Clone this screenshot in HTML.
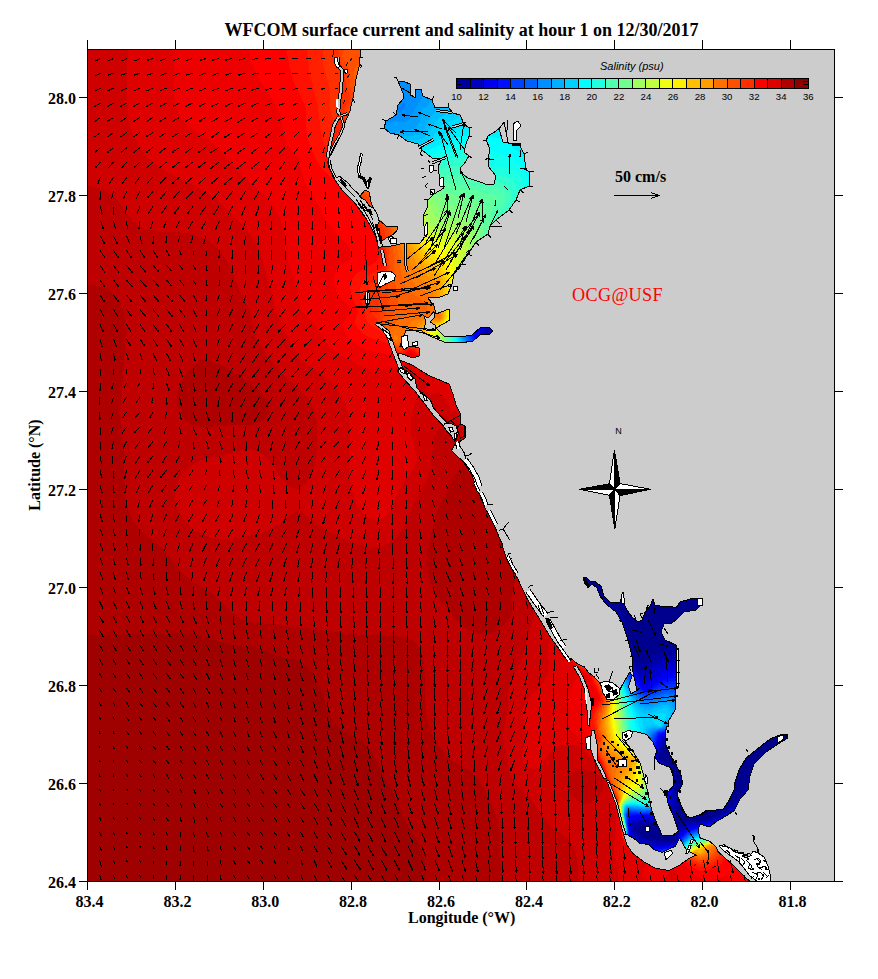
<!DOCTYPE html><html><head><meta charset="utf-8"><title>WFCOM</title>
<style>
html,body{margin:0;padding:0;background:#fff}
body{width:878px;height:979px;overflow:hidden;position:relative;font-family:"Liberation Serif",serif}
svg{position:absolute;left:0;top:0}
.t{position:absolute;white-space:nowrap;font-family:"Liberation Serif",serif;font-weight:bold;font-size:16px;line-height:18px;color:#000}
.s{position:absolute;white-space:nowrap;font-family:"Liberation Sans",sans-serif;font-size:9.6px;line-height:11px;color:#000}
</style></head><body>
<svg width="878" height="979" viewBox="0 0 878 979" shape-rendering="crispEdges">
<defs><clipPath id="w"><path d="M87 49 L360 49 L360 57 L359 67 L356 79 L353.6 95 L350 111 L344 125 L339 139 L333 151 L329.5 157 L327.5 162 L329 168 L334 178.5 L342 190 L353.5 201 L362.6 213.8 L370.5 225 L376 235.4 L378.5 246 L386 247 L396 245 L404 243 L420 243 L426 236 L424 226 L423 216 L427 208 L428 200 L434 194 L444 188 L440 182 L438 166 L443 158 L432 158 L422 150 L418 144 L407 141 L399 135 L390 133 L384 128 L386 121 L396 115 L398 105 L404 98 L403 93 L398 81 L405 82 L410 84 L410.6 95 L415 97.4 L415 90 L421 89.4 L423 96 L432 100 L435 108 L448 107 L453 113 L460 115 L464 124 L469 128 L469 136 L466 144 L464 152 L469 156 L464 164 L460 168 L460 172 L468 178 L480 182 L488 185 L494 184 L496 176 L488 166 L488 158 L490 150 L486.4 140 L488 136 L496 131 L500 128 L504 142 L520 146 L524 154 L526 170 L530 172 L529 186 L520 190 L516 200 L509 210 L496 220 L490 226 L488 234 L476 242 L468 254 L462 264 L454 274 L452 284 L448 294 L440 297 L428 298 L434 306 L436 314 L449 309 L450 320 L436 328 L444 336 L460 337 L472 335 L480 328 L489 327 L493 331 L489 335 L481 334 L473 341 L460 343 L444 342 L430 336 L420 330 L406 330 L400 346 L412 346 L419 348 L419 356 L413 358 L399 353 L398 359 L398.7 359.6 L412.3 365.1 L421.9 371.3 L430 376 L439.7 380.1 L449.2 384.2 L453.3 395.2 L456 404.7 L460 413 L460.9 423.9 L465.6 426.6 L465.6 437.5 L461.5 440.3 L457 444 L451.5 450.6 L463.2 461.7 L471.8 475.1 L477.9 491.1 L485.2 508.2 L493.8 524.2 L500.3 540 L507 560 L517.6 578.5 L526.9 598.4 L537.5 615.7 L549.4 635.6 L558.7 648.9 L565 658 L571 658.5 L577 663.4 L584.4 667 L588 672 L594.2 676.9 L599 681.8 L603 689 L609 697 L616 698 L621.2 687 L629.8 672 L632.2 675.6 L628.5 686.7 L631 694 L637.1 690.3 L635.9 685.4 L633 672 L632 656 L628 640 L622 622 L616 612 L606 604 L600 596 L597 588 L592 584 L588 588 L583 578 L586 577 L590 581 L594 581 L601 586 L604 596 L611 603 L620 602 L622 596 L624 604 L627 610 L632 617 L638 622 L642 620 L645 612 L650 606 L653 599 L655 605 L660 606 L670 606 L676 608 L680 602 L690 599 L698 598 L702 604 L696 610 L684 612 L678 618 L672 623 L664 624 L661 632 L665 640 L676 645 L676 688 L675 710 L668 722 L668 726 L666.3 726 L665 742.3 L670.3 755.5 L675.6 763.5 L681 775.5 L682.3 784.8 L677 794 L681 804.7 L686.2 815.3 L690 818 L700 814.6 L707 810 L712.4 810.5 L723.3 809 L728.8 801 L734 790 L735 782 L739 770 L746 758 L756 750 L770 739 L780 735 L787 734 L788 738 L778 744 L766 752 L754 764 L750 776 L748 790 L739.7 799.6 L734.3 810.5 L726 816 L716.5 821.4 L709.7 826.9 L700 824.2 L698 830 L700 837.8 L709.7 841.3 L716.5 847.4 L717.9 851.5 L731.5 863.8 L742.5 874.7 L749.5 881 L87 881Z"/>
<path d="M365 190 L369.4 192 L370.5 200 L372.8 208 L370.5 207 L362.6 201 L360.3 195.6Z"/>
<path d="M379.7 220.6 L386.5 226.3 L398 226.3 L396.8 231 L392.2 235 L386.5 237.7 L382 241 L378.5 232 L377.4 225Z"/>
<path d="M338.7 177 L342 178 L351 190 L349 191Z"/>
<path d="M457.4 426.6 L460.7 423.7 L464.4 426 L464.4 436 L460.7 438.4 L458.3 432.3Z"/>
</clipPath><clipPath id="fr"><rect x="88" y="50" width="746" height="831"/></clipPath></defs>
<rect x="87" y="49" width="748" height="833" fill="#cccccc"/>
<g clip-path="url(#w)">
<rect x="86" y="48" width="752" height="836" fill="#00008f"/>
<path d="M86 48 L836 48 L836 160.1 L814 177.9 L792 197 L770 217.5 L750 237.6 L730 259.1 L713.9 278 L700.2 296 L689.8 312 L684.3 322 L679.8 332 L676.2 342 L673.4 352 L670 370.6 L665.1 414 L661.7 436 L656.7 458 L650.2 478 L642.5 496 L634 512 L622.3 530 L596 566.2 L590 576.6 L588.1 582 L587.9 584 L588.4 586 L590 587.9 L604 595.6 L612 601.4 L616.7 606 L621.2 612 L624.2 618 L626.9 626 L627.9 632 L628.2 640 L633.6 650 L634.2 654 L633.7 658 L634 660.4 L640 663.2 L642 662.9 L647.7 658 L652 655.5 L676 645.8 L686 643.7 L690 643.6 L696 644.5 L702 646.5 L708 649.7 L714 654 L720 659.7 L724.9 666 L728.5 672 L731.1 678 L732.8 684 L733.8 690 L733.9 696 L733.3 702 L731.7 708 L729.1 714 L726.6 718 L719.3 726 L714.1 730 L707.4 734 L694 739.4 L688 740.8 L682 741.5 L674 741.2 L668 740 L662.9 750 L658.7 756 L660 758.3 L670.4 764 L673 768 L674.6 772 L675.9 780 L675.1 790 L677 798 L677.8 804 L677.7 808 L676.5 814 L674.6 818 L672.4 820 L656 826.9 L654 826.9 L648 825 L640.9 826 L638 827.2 L636.5 828 L636.9 830 L638.5 832 L642.6 836 L646 838.1 L652 838.4 L660 840.8 L666 840.7 L674 841.5 L674.6 840 L675.1 834 L676.3 828 L678 824.3 L680 822.4 L686 820.7 L700 820.6 L710 819 L722 812.7 L730.9 806 L737.8 798 L741.4 792 L746 782.2 L750 775.2 L754 769.6 L758 765.4 L768 757.4 L788 744 L814 722.6 L836 708.2 L836 882 L86 882Z" fill="#00009f"/>
<path d="M86 48 L836 48 L836 132.2 L810 154.2 L784 178.1 L758 204 L734 229.8 L710 257.4 L690.6 282 L678 300.3 L668.3 318 L662.3 334 L658.8 350 L657.1 366 L655.6 406 L653.9 426 L650.5 448 L644.8 470 L638.3 488 L629.8 506 L619.3 524 L594 562.4 L588 574.4 L586.1 582 L586.7 586 L589.8 590 L608 602.2 L614 608 L618.5 614 L621.7 620 L624.5 628 L626.6 640 L631.4 652 L631.8 660 L638.6 668 L640 672.1 L642 671.9 L644 670.7 L646 668 L647.8 664 L650 662.1 L658 658.7 L678 652.4 L686 651.8 L692 652.5 L698 654.2 L704 657.2 L710 661.5 L714 665.3 L717.8 670 L721.4 676 L723.8 682 L725.3 688 L725.9 698 L723.9 708 L720.1 716 L713.7 724 L709 728 L703 732 L692 736.9 L682 739.1 L668 738.8 L665.9 740 L664.5 742 L660.9 750 L658 754.8 L657.6 756 L658 758.1 L669 766 L671.6 770 L673.1 774 L674.2 780 L673.9 790 L675.3 798 L675.6 804 L674.5 810 L672.6 814 L668 818.6 L660 822.4 L654 823.4 L648 822 L636 824.6 L634 825.8 L632.7 828 L634 830.9 L641.4 838 L646 840.2 L660 842.3 L674 842.6 L675.1 842 L676 840 L676.8 834 L678 830.4 L680 827.1 L682 825.2 L688 822.9 L700 821.7 L710 819.9 L722 814.2 L728.6 810 L733.4 806 L739.1 800 L754 778.7 L758 774.2 L764 768.6 L772 762.6 L791.2 750 L816 732.3 L836 719.8 L836 882 L86 882Z" fill="#0000af"/>
<path d="M86 48 L836 48 L836 104.5 L810 127.4 L784 152.1 L760 176.8 L736 203.3 L706 238.6 L679.5 272 L664 294 L653.9 312 L650.5 320 L647.9 328 L646.2 336 L645.1 344 L644.5 358 L646 398 L645.7 420 L643.6 442 L639.1 464 L633.5 482 L626.9 498 L616.6 518 L596 551.9 L590 562.9 L585.6 574 L584.3 582 L585 586 L588 590.7 L608 605.9 L612 610 L616.5 616 L619.7 622 L622 628 L625 640 L629.4 652 L630.7 660 L638 672 L640 674.1 L644 675.2 L646 674.7 L649 672 L652 666.9 L653 666 L666 660.4 L672 658.7 L678 657.8 L688 658.3 L694 660 L698.5 662 L704 665.5 L708 669.1 L712 673.8 L714.7 678 L717.3 684 L718.9 690 L719.3 700 L717.7 708 L714 716 L707.5 724 L699.9 730 L692 734.1 L682 737 L668 737.6 L666 738.3 L664 739.9 L662.7 742 L657 756 L658 759.1 L666.5 766 L668.2 768 L671.3 774 L672.6 780 L672.7 790 L673.8 800 L672.7 808 L669.3 814 L666 817 L662 819.3 L656 821.1 L648 820.7 L638 821.9 L634 823.6 L632 825.8 L631.4 828 L632 830.6 L634 833.7 L640 839.3 L646 841.9 L660 843.6 L674 843.3 L676.1 842 L678.2 834 L680 830.3 L684 826.4 L688 824.8 L712 820.2 L721.1 816 L728.1 812 L733.7 808 L740.1 802 L756 783.3 L762 777.3 L768 772.3 L778 765.4 L814 742.7 L836 729.9 L836 882 L86 882ZM485.2 330 L484.9 332 L486 333.3 L488 333.8 L490.9 332 L491 330 L490 329.1 L488 328.4 L486 329.1Z" fill="#0000bf"/>
<path d="M86 48 L836 48 L836 76.9 L810 100.6 L786 124.1 L762 149.4 L740 174.3 L708 213.2 L666 267 L649.4 290 L638.9 308 L633.6 322 L631.9 330 L631.1 338 L631.5 352 L636.4 392 L637.7 412 L636.9 436 L633.6 458 L629 476 L622.4 494 L613.1 514 L594 548.1 L588 560.1 L584 570.8 L582.5 580 L583.4 586 L586 590.8 L590 594.8 L606.7 608 L612 613.9 L616 619.9 L620.5 630 L624.1 642 L627.2 650 L630 661.2 L636.4 672 L640 676.3 L644 678.7 L646 678.9 L648 678.1 L658 668.6 L664 665.1 L668 663.5 L676 662.4 L686 663.4 L692 665.3 L696 667.3 L700.1 670 L704 673.5 L707.7 678 L710.1 682 L711.8 686 L713.5 692 L713.7 702 L711.8 710 L707.6 718 L702.4 724 L696 729.1 L688 733.2 L680 735.4 L666 737 L663.9 738 L662 740.2 L656.3 756 L656.7 758 L658 760 L664.5 766 L667.7 770 L670.4 776 L671.4 782 L672.2 798 L671.3 806 L669.6 810 L666.5 814 L660 818.2 L654 819.6 L648 819.5 L638 820.3 L633.4 822 L631.6 824 L630.5 828 L631.4 832 L634 836.2 L640 841.2 L646 843.5 L660 844.8 L674 843.9 L676.7 842 L680 832.9 L684 828.3 L688 826.3 L712 821.1 L727.3 814 L738.6 806 L760 784.9 L772 775.4 L782 768.9 L806 755 L836 738.7 L836 882 L86 882ZM488.4 326 L486 326.8 L484.4 328 L483 330 L482.5 332 L484 334.8 L486 335.8 L488 336.1 L490 335.9 L493.8 334 L495.4 332 L495.7 330 L495 328 L494 327.2 L492 326.1Z" fill="#0000cf"/>
<path d="M86 48 L836 48 L836 49.4 L806 77.7 L780 104.2 L758 128.3 L738 151.9 L712 184.8 L641.6 278 L629 296 L622.2 308 L619 316 L617.4 322 L616.5 334 L617.8 346 L626.3 384 L629.3 404 L630.2 416 L630.4 428 L629.7 440 L628.3 452 L624 472 L617.5 492 L608.8 512 L592 544.5 L586 557.4 L582 569.2 L580.7 578 L580.9 582 L581.7 586 L585 592 L590 597.1 L605.5 610 L610 615 L614 620.8 L619.3 632 L630 663.7 L636 674 L644 682.7 L646 683.5 L648 682.6 L660 671.7 L668 667 L672 666.4 L680 666.9 L686 668.3 L690 669.9 L694 672 L699.1 676 L702.7 680 L705.3 684 L707.1 688 L708.8 694 L709.1 702 L707.4 710 L703.3 718 L698.1 724 L693 728 L686 731.8 L678 734.1 L665.4 736 L662 737.8 L660.6 740 L656.6 752 L655.7 756 L656.1 758 L658 761 L666.1 770 L668.9 776 L670.1 782 L670.9 796 L670.2 804 L668.7 808 L666 812 L660 816.4 L654 818.1 L636 819.2 L634 819.7 L632 821.1 L630 824.9 L630 831.3 L632 835.8 L634 838.3 L640 842.9 L644 844.5 L648 845.4 L660 846 L674 844.5 L676 843.5 L677.3 842 L680 835.1 L682 832 L686 828.6 L698 825 L712.1 822 L722.1 818 L729.9 814 L741.5 806 L762 788 L774 779.3 L800 764.6 L836 746.5 L836 882 L86 882ZM487.7 324 L484 326 L480.9 330 L480.2 332 L480.3 334 L481.8 336 L486 337.9 L490 338.1 L496 336.2 L499 334 L500.5 332 L501.2 330 L501.1 328 L499.9 326 L496.9 324 L494 323.3 L490 323.4Z" fill="#0000df"/>
<path d="M86 48 L809 48 L788 69.5 L768 91.2 L750 112 L732 134.3 L708 166.3 L656.9 238 L613.9 294 L607.3 304 L603.2 312 L600.6 322 L600.8 332 L604 344 L615.4 376 L620.5 396 L622.4 408 L623.5 420 L623.8 432 L623.1 444 L620.2 464 L614.3 486 L605.7 508 L590 540.9 L584 554.7 L580 567.6 L578.8 578 L580.1 586 L581.8 590 L584 593.3 L588 597.6 L604.5 612 L609.7 618 L613.6 624 L618.3 634 L629.1 664 L636 676.2 L644 687.3 L646.2 688 L658 677.2 L666 672.1 L670 670.5 L676 670.5 L682 671.6 L686 673 L690 674.9 L694.4 678 L698.3 682 L701.1 686 L704.2 694 L705 702 L704 708 L700.7 716 L696.2 722 L690 727.3 L684 730.6 L678 732.6 L662 735.9 L660 738.2 L656 750.8 L655.2 756 L656.5 760 L664.7 770 L666.9 774 L668.2 778 L669.2 784 L669.6 796 L668.7 804 L667 808 L664 811.8 L658 815.8 L652 817.1 L636 817.7 L632 818.9 L629.8 822 L629.4 830 L630 834 L634 840 L636 842 L640 844.5 L648 846.8 L660 847.1 L674 845.1 L676 844.1 L677.9 842 L681.7 834 L686 829.9 L690 828.2 L696 826.5 L714 822.3 L728.8 816 L738.9 810 L764 790.7 L778 781.6 L802 769.2 L836 753.7 L836 882 L86 882ZM487.5 322 L484 323.9 L481.7 326 L478 332 L477.6 334 L478.2 336 L482 338.4 L488 340 L492 339.9 L496 339.1 L502.6 336 L505.1 334 L507.8 330 L508.2 328 L507.9 326 L506.6 324 L503.8 322 L500 320.8 L496 320.3 L492 320.7Z" fill="#0000ef"/>
<path d="M86 48 L783.4 48 L752 83.8 L726 116.6 L704 147.3 L662.5 210 L644.4 236 L624 262.6 L590.7 302 L586.4 308 L583.1 314 L581.7 318 L581.3 322 L581.7 326 L582.8 330 L585.6 336 L597 356 L603.1 368 L608.1 380 L612 392 L614.5 402 L616.5 414 L617.5 426 L617.6 438 L617 448 L615.5 460 L610.4 482 L602.7 504 L582 552 L578 566 L577.1 572 L577 578 L578.4 586 L580.1 590 L582.6 594 L588 599.8 L603.7 614 L608 619 L612 624.9 L617.5 636 L628 664.1 L634 675.3 L642.5 688 L644 689.2 L646 689.5 L648 688.8 L658 680.4 L664 676.7 L670 674.6 L676 674.4 L684 676.5 L688 678.5 L692 681.4 L697.5 688 L700.6 696 L701.1 704 L700 710 L697.3 716 L692.9 722 L688.3 726 L682 729.6 L674 732.3 L662 734.5 L660 735.6 L658.8 738 L656 747.2 L654.7 756 L656 760.3 L663.4 770 L667 778 L668 784 L668.5 792 L667.8 802 L666.4 806 L664 809.8 L661.8 812 L658 814.4 L652 816 L634 816.6 L632 817 L630 818.6 L628.7 824 L629.2 832 L630 835.4 L634 841.1 L636 843.4 L640 846 L648 848.1 L660 848.1 L674 845.7 L676 844.7 L678 842.6 L682.9 834 L688 830 L698 826.8 L714 823.2 L727.3 818 L738.6 812 L766 793.2 L780 785 L804 773.5 L836 760.2 L836 882 L86 882ZM493.2 318 L486 320.7 L480 325.6 L476 332.3 L475.3 336 L476 336.8 L481.4 340 L486 341.3 L492 341.8 L498 341 L504 339.1 L510.2 336 L515.3 332 L517.9 328 L518.3 326 L518 324 L516.7 322 L512 319 L508 317.7 L502 317.1Z" fill="#0000ff"/>
<path d="M86 48 L760.1 48 L732 82.7 L708 115.8 L688 146.5 L650.5 208 L633 234 L614 258.7 L594 280.7 L584 290.4 L572 300.9 L562 308.6 L552 314.9 L546 317 L542 317.2 L524.1 314 L516 313.1 L506 313.1 L496 314.7 L488 317.7 L481.6 322 L478 325.9 L476 329 L474 333.5 L473.7 336 L476 338.8 L482 341.8 L488 343.2 L496 343.4 L504 342.1 L511.6 340 L542 327.2 L548 326.8 L554 328.6 L562 333.1 L570 339.2 L578 346.8 L584 353.6 L590.2 362 L596.2 372 L601.1 382 L605.6 394 L609.6 410 L611.7 426 L612 442 L610.3 460 L607.2 476 L602.6 492 L596.7 508 L582 543.7 L577.4 558 L575.7 566 L575 574 L575.3 580 L576.7 586 L579.4 592 L582.2 596 L586 600.2 L602 614.9 L606.5 620 L610.7 626 L616.8 638 L628 666.2 L636 680.8 L642 689.3 L644 690.5 L646 690.9 L648 690.5 L652.3 688 L660 681.8 L664 679.8 L668 678.5 L672 677.9 L678 678.4 L682 679.7 L686 681.7 L692 686.9 L694.3 690 L696.2 694 L697.8 702 L697.3 708 L695.3 714 L691.6 720 L687.7 724 L682 727.9 L677.3 730 L668 732.6 L660 733.7 L658 737 L655.8 744 L654.1 756 L656 761.4 L663.4 772 L665.8 778 L667 784 L667.4 790 L667.4 796 L666.5 802 L665 806 L662.1 810 L659.7 812 L656 814 L650 815.2 L634 815.3 L629.9 816 L628.3 820 L628 824 L629.2 834 L630 836.5 L632 839.5 L636 844.4 L638 846.1 L641.7 848 L646 849.1 L652 849.6 L660 849.1 L668 847.8 L674 846.2 L677.5 844 L682.4 836 L684 834 L688 831 L698 827.7 L714.2 824 L730 818 L741.6 812 L766 796.7 L782 788.1 L806 777.6 L836 766.3 L836 882 L86 882Z" fill="#0010ff"/>
<path d="M86 48 L738.6 48 L714.5 80 L694 110.6 L676 140.7 L645.2 196 L629.3 222 L613.7 244 L598 262.7 L586 274.9 L574 285.3 L562 293.7 L552 299.2 L544 302.3 L536 304.5 L502 310.3 L494 312.8 L488 315.6 L482 319.7 L477.8 324 L474 330 L472.6 334 L472.6 336 L474 338.7 L478 341.6 L484 343.9 L490 345 L502 344.9 L528 340.6 L538 339.9 L544 340.3 L550 341.4 L560 345.4 L566 349 L572 353.6 L578 359.4 L584 366.5 L589.2 374 L593.7 382 L597.4 390 L601 400 L604.5 414 L606.6 430 L606.8 444 L605.5 460 L602.5 476 L598.2 492 L592.6 508 L580 540.7 L575.3 556 L573.7 564 L573 572 L573.5 580 L575 586 L577.6 592 L581.9 598 L600.6 616 L605.8 622 L610 628 L616 639.4 L628 668.3 L636 683.2 L641 690 L644 691.8 L648 691.9 L652.5 690 L660 684.2 L662 683.3 L670 681.2 L676 681.4 L682 683.4 L688.4 688 L692.5 694 L694 698 L694.6 702 L694.4 708 L692.5 714 L690.3 718 L686 722.9 L682 726.1 L676 729.1 L668 731.6 L660 732.9 L658.6 734 L657.3 736 L654.8 744 L653.6 756 L655.7 762 L663.2 774 L665.2 780 L666.4 792 L666.1 798 L665.3 802 L662 808.3 L660 810.3 L656 812.8 L652 814 L648 814.4 L630 814.1 L628.1 816 L627.5 822 L628.3 832 L630 837.2 L636 845.2 L639.6 848 L644.7 850 L650 850.7 L656 850.5 L664 849.4 L672 847.5 L676 845.8 L678 844.1 L684 835.1 L686 833.3 L690 831.1 L698 828.5 L716 824.3 L728.1 820 L741.1 814 L768 798.8 L784 791 L808 781.5 L836 772.1 L836 882 L86 882Z" fill="#0020ff"/>
<path d="M86 48 L718.6 48 L697.6 78 L679 108 L664 135.7 L636.7 190 L623.2 214 L610.1 234 L596 252 L586 262.9 L576 272.4 L566 280.5 L554 288.4 L546 292.6 L536 296.8 L498 308.7 L492 311.4 L486 314.8 L480 319.7 L476 324.3 L472 331.6 L471.4 336 L472.1 338 L473.6 340 L476 341.9 L482 344.7 L488 346.2 L500 347.1 L522 345.8 L532 345.8 L542 347 L550 349.2 L560 354 L570 361.4 L578.3 370 L586 380.8 L593.5 396 L596.4 404 L599 414 L601.6 432 L602 442 L601.6 452 L599.3 470 L595.2 488 L589.4 506 L577.2 540 L572.8 556 L571.5 564 L571 572 L571.7 580 L573.2 586 L575.9 592 L580 598.1 L585.4 604 L600.2 618 L605.3 624 L609.5 630 L616 642.4 L625 664 L630 674.4 L636 685.5 L640 690.8 L644 693.2 L648 693.4 L652.2 692 L662 685.9 L668 684.3 L674 684.2 L680 685.9 L684 688.4 L688 692.6 L690.8 698 L691.8 704 L691.3 710 L689 716 L686.2 720 L682.2 724 L675.6 728 L666 731.3 L660 732 L657.5 734 L654.7 740 L653.2 750 L653.4 758 L655.1 762 L662.1 774 L663.7 778 L664.9 784 L665.3 796 L664.7 800 L663.4 804 L660.8 808 L658.7 810 L656 811.7 L652 813.1 L642 813.7 L632 813 L628 813.5 L627.4 816 L627.2 822 L627.9 832 L630 838 L636 846 L638.6 848 L646 851.4 L650 851.9 L656 851.6 L670 848.8 L674 847.4 L678 844.8 L684 836.2 L686 834.4 L690 832 L698 829.3 L714 825.7 L725.8 822 L740.3 816 L770 800.9 L784 794.7 L806 786.6 L836 777.5 L836 882 L86 882Z" fill="#0030ff"/>
<path d="M86 48 L699.6 48 L680.2 78 L664.4 106 L652 131.5 L628.4 184 L617.3 206 L605.3 226 L592.3 244 L581.9 256 L572 265.7 L562.2 274 L552 281.2 L544 286.1 L534 291.1 L496 307 L484 314.3 L478 319.9 L474 325.1 L470.6 332 L470.2 336 L472 340 L474.2 342 L480 345.2 L486 347.2 L498 348.9 L520 349.3 L530 350.1 L540 352 L550 355.5 L560 361.2 L568 367.7 L575.6 376 L582.5 386 L589.4 400 L594.3 416 L597 434 L597.1 452 L595.4 468 L591.6 486 L587 502 L574.9 538 L570.7 554 L569.3 564 L569 572 L569.9 580 L571.5 586 L575.2 594 L579.6 600 L599.9 620 L608 630.4 L616 645.1 L624 664 L632 680.6 L636 687.7 L639.6 692 L644 694.5 L648 694.8 L652 693.8 L664 687.7 L670 686.7 L674 687 L680 689.2 L683.6 692 L686.7 696 L688.4 700 L689.1 704 L688.8 710 L686.6 716 L683.9 720 L679.8 724 L674 727.5 L666 730.5 L658.8 732 L656.5 734 L654.3 738 L652.8 746 L652.6 756 L654 761.1 L660.2 772 L663.2 780 L664.4 790 L663.6 800 L662.1 804 L660 807.3 L657 810 L654 811.6 L648 812.7 L640 812.8 L632 812 L628 812.6 L626.9 814 L626.8 822 L627.6 826 L628 834 L630 838.4 L634 844.1 L637.9 848 L646 852.2 L650 852.9 L654 852.8 L666 850.6 L672 848.8 L676 846.9 L679.4 844 L685.3 836 L688 833.9 L692 832 L700 829.5 L716.1 826 L728.8 822 L743.7 816 L772 803 L786 797.4 L810 789.6 L836 782.6 L836 882 L86 882Z" fill="#0040ff"/>
<path d="M86 48 L681.6 48 L664.7 76 L650.3 104 L640 127.9 L620.4 178 L610.5 200 L600.8 218 L588.9 236 L581 246 L572 256 L561.4 266 L551.4 274 L534 285.2 L498 303.2 L490 308 L484 312.3 L478 318 L473.3 324 L470.1 330 L469 336 L470 339 L472.4 342 L478 345.6 L484 348 L496 350.4 L518 352.2 L528 353.6 L538 356 L548 360.1 L556 364.8 L564.9 372 L572.1 380 L578.9 390 L585.6 404 L589.9 418 L592.4 434 L592.8 452 L591.3 468 L587.8 486 L583.3 502 L572 537.9 L568.3 554 L567.1 564 L567.1 572 L568.1 580 L569.7 586 L573.4 594 L577.6 600 L583.1 606 L599.6 622 L608 632.9 L616 647.6 L624 666.1 L632 682.8 L634.9 688 L638 692.2 L642 695.2 L644 696 L648 696.3 L654 694.7 L664 690.1 L668 689.3 L672 689.3 L676 690.3 L680 692.5 L683.4 696 L685.6 700 L686.6 704 L686.4 710 L684.4 716 L681.8 720 L677.5 724 L672 727.3 L666 729.7 L657.6 732 L654.1 736 L652.7 740 L651.8 750 L652.4 758 L654 762.4 L661 776 L663 784 L663.5 794 L661.9 802 L660 805.6 L658 808 L655.2 810 L652 811.4 L642 812.1 L630 811.1 L627.8 812 L626.3 814 L626.4 822 L627.4 826 L627.8 834 L630 838.7 L636 846.6 L640 849.8 L644.1 852 L648 853.4 L652 854 L662 852.5 L670 850.1 L676 847.5 L680 844 L684 838.2 L686 836.2 L692 832.7 L700 830.3 L719.2 826 L732 822 L774 805 L792 798.8 L812 793.2 L836 787.5 L836 882 L86 882Z" fill="#0050ff"/>
<path d="M86 48 L664.3 48 L650.7 72 L640 94 L630 119.3 L613.9 168 L606.4 188 L596.3 210 L584.3 230 L577 240 L568.6 250 L558.7 260 L549.6 268 L540 275.3 L529.9 282 L494 303 L482 312.1 L476 318.4 L470.8 326 L468.3 332 L467.8 336 L468.2 338 L470.8 342 L474 344.6 L478 346.9 L484 349.3 L494 351.7 L526 356.5 L536 359.5 L544 362.9 L554 369 L562 375.8 L569.2 384 L574.6 392 L581.4 406 L585.7 420 L588.3 436 L588.7 452 L587.4 468 L584.5 484 L580.4 500 L569.7 536 L566 553 L565 562 L564.9 570 L565.8 578 L567.9 586 L571.6 594 L576 600.4 L582 607.1 L598 622.5 L604 629.6 L608 635.3 L616 650 L632 685.1 L634.9 690 L638 693.9 L642 696.8 L644 697.5 L648 697.9 L654 696.4 L664 692.3 L668 691.6 L672 691.7 L676 693 L680 695.9 L682 698.5 L683.6 702 L684.4 706 L683.8 712 L682.3 716 L679.7 720 L676 723.5 L672 726.1 L666 728.9 L656.3 732 L653 736 L651.7 740 L651.3 744 L651.5 756 L653.2 762 L659.2 774 L661.3 780 L662.6 790 L662 798 L660.9 802 L658.5 806 L656 808.4 L652 810.5 L648 811.2 L642 811.4 L630 810.3 L628 810.9 L626.9 812 L625.8 814 L626 822 L627.2 826 L627.7 834 L630 839.1 L636 847 L639.8 850 L644 852.3 L647.7 854 L652 854.7 L660 853.8 L670 850.8 L676 848 L680 844.7 L686 837.1 L690 834.4 L694 832.7 L729.3 824 L772 808.5 L790 802.8 L812 797.2 L836 792.3 L836 882 L86 882Z" fill="#0060ff"/>
<path d="M86 48 L647.6 48 L634.8 72 L625.3 94 L617.9 116 L605 164 L598.8 184 L590.7 204 L580 224 L571.8 236 L563.8 246 L554.5 256 L545.9 264 L527.9 278 L492 301.8 L480 312 L474 319 L469.6 326 L467.2 332 L466.8 338 L469.3 342 L472 344.5 L476 347.1 L482 349.8 L492 352.8 L524 359.1 L532.9 362 L541.7 366 L550 371.2 L558 378 L565.2 386 L570.7 394 L576.7 406 L581.3 420 L584.1 436 L584.8 452 L583.6 468 L580.8 484 L576.9 500 L567.4 534 L563.7 552 L562.8 562 L562.9 570 L563.9 578 L566.1 586 L569.8 594 L575.3 602 L580.8 608 L598 624.6 L606.9 636 L614.9 650 L632 687.3 L634.9 692 L638 695.6 L642 698.4 L648 699.5 L654 698.2 L664 694.4 L668 693.7 L672 694 L676 695.7 L678 697.3 L681.1 702 L682.1 706 L681.8 712 L680.4 716 L677.8 720 L674 723.5 L670.1 726 L664 728.9 L658 730.5 L655 732 L651.8 736 L650.7 740 L650.4 744 L651 756 L652.6 762 L658.3 774 L660.3 780 L661.6 790 L661 798 L659.8 802 L657.3 806 L655.2 808 L652 809.7 L644 810.7 L630 809.5 L628 810 L626.1 812 L625.5 814 L625.8 822 L627 826 L627.5 834 L630 839.5 L634 845.2 L636.8 848 L646 853.7 L652 855.5 L658 855.2 L668 852.3 L676 848.6 L680 845.3 L686 838 L690 835.2 L694 833.5 L702 831.3 L718 828 L732.9 824 L770 811.7 L788 806.4 L810 801.4 L836 796.9 L836 882 L86 882Z" fill="#0070ff"/>
<path d="M86 48 L631.2 48 L620.1 70 L611.5 92 L605.4 114 L596.3 160 L591.3 180 L583.5 202 L574.6 220 L568.4 230 L561.1 240 L552.6 250 L544.7 258 L526.2 274 L490 300.9 L478 312.2 L472 319.9 L468 326.9 L466 332 L465.5 338 L466.3 340 L470 344.2 L474 347.2 L480 350.2 L492 354.2 L522 361.3 L532 365 L540 369.1 L547.4 374 L554.4 380 L561.6 388 L567 396 L573.1 408 L577.6 422 L580.1 436 L580.9 452 L579.9 468 L577.3 484 L564.6 534 L561.3 552 L560.6 562 L560.9 570 L562 578 L564.3 586 L567.9 594 L573.3 602 L580 609.3 L597.3 626 L606.8 638 L615.8 654 L631.2 688 L634 692.7 L638 697.4 L642 700.1 L648 701.2 L652 700.6 L664 696.5 L670 695.9 L672 696.2 L675.4 698 L677.3 700 L679.3 704 L680.1 708 L679.8 712 L678.6 716 L676 720 L671.4 724 L664.5 728 L657.5 730 L654 731.6 L651.7 734 L650.7 736 L649.7 740 L649.6 744 L650.5 756 L652.1 762 L657.5 774 L659.4 780 L660.7 790 L660.1 798 L657.7 804 L656 806.2 L652 808.9 L648 809.9 L644 810 L630 808.7 L628 809.1 L626 811 L625.1 814 L625.7 822 L626.8 826 L627.4 834 L630 839.8 L634 845.5 L636.4 848 L645.8 854 L652 856.1 L658.5 856 L668 853 L676 849.2 L680 846 L684.9 840 L688 837.2 L692 835 L696 833.5 L729.6 826 L768 814.6 L788 809.4 L810 805.1 L836 801.3 L836 882 L86 882Z" fill="#0080ff"/>
<path d="M86 48 L614.9 48 L604.4 70 L600.6 80 L597 92 L592.8 112 L587.4 156 L583.9 176 L580.8 188 L577.5 198 L569.5 216 L563.8 226 L557 236 L549 246 L541.7 254 L524.7 270 L490 298.3 L478 310.2 L472 317.9 L467.3 326 L464.9 332 L464.3 338 L466.4 342 L470 345.6 L474 348.4 L480 351.5 L490 355 L520 363.3 L530 367.3 L538 371.7 L546 377.4 L553.1 384 L559.7 392 L564.9 400 L570.4 412 L574.6 426 L576.8 440 L577.2 454 L576.3 468 L573.9 484 L562.3 532 L559.2 550 L558.5 560 L558.8 570 L560.1 578 L562.4 586 L567.2 596 L573 604 L578.6 610 L596 626.6 L606 638.9 L614.8 654 L630 688 L634 694.6 L638 699.3 L642 702 L648 703.1 L652 702.5 L664 698.5 L670 698 L672 698.4 L674.3 700 L676 702.2 L677.6 706 L678.1 710 L677.6 714 L675.8 718 L674.3 720 L669.5 724 L663 728 L654 730.5 L651.8 732 L649.4 736 L648.7 742 L649.6 754 L651.5 762 L656.6 774 L659 782 L659.8 790 L659.2 798 L657.8 802 L656 804.9 L654 806.9 L650 808.9 L642 809.3 L630 807.9 L628 808.2 L626 810 L624.8 814 L625.5 822 L627 828 L627.2 834 L629.9 840 L636 847.9 L645.3 854 L650 856 L654 856.8 L660 856.5 L668 853.7 L676 849.8 L680 846.7 L688 838 L692 835.7 L696 834.2 L728 827.4 L768 816.8 L786 812.7 L810 808.6 L836 805.6 L836 882 L86 882ZM399.7 76 L400 77.2 L404 81.7 L406 82.8 L408 82.2 L407 80 L405.1 78 L401.9 76ZM401.9 104 L398.5 108 L396.9 112 L398 112.4 L400.6 112 L404 108.9 L405.1 106 L405.2 104 L404 103.1Z" fill="#008fff"/>
<path d="M86 48 L598.6 48 L592.7 60 L588.5 70 L585.1 80 L582.6 90 L579.8 110 L578.4 152 L576.4 172 L572.1 192 L568.8 202 L564.5 212 L559.3 222 L553 232 L547.2 240 L538.8 250 L521 268 L488 297.6 L476 310.5 L470 319 L465.3 328 L463.4 334 L463.2 338 L463.8 340 L466 343.2 L468.9 346 L478 351.7 L488 355.7 L518 365 L526 368.4 L534 372.7 L541.5 378 L548.3 384 L555.3 392 L560.6 400 L566.4 412 L570.3 424 L572.9 438 L573.7 452 L573.1 466 L570.9 482 L559.6 532 L556.8 550 L556.2 560 L556.8 570 L558.1 578 L560.5 586 L565.3 596 L571 604 L578 611.5 L596 628.6 L606 641 L611.6 650 L615.7 658 L630 690.1 L634 696.6 L638 701.4 L642 704 L648 705.1 L652 704.5 L664 700.5 L670 700.3 L672 701 L675.2 706 L676.1 710 L675.8 714 L674.2 718 L672.6 720 L665 726 L662 727.8 L652.4 730 L650.1 732 L648.9 734 L647.9 738 L647.8 742 L649.1 754 L651 762 L657.7 780 L658.9 788 L658.6 796 L657.7 800 L655.7 804 L653.9 806 L650.5 808 L644 808.7 L630 807.2 L628 807.4 L626 808.9 L624.4 814 L625.4 822 L626.8 828 L627.1 834 L629.8 840 L633.9 846 L636 848.1 L638.1 850 L644.8 854 L649.4 856 L654 857.2 L660 857.3 L668 854.5 L676 850.4 L680 847.3 L688 838.7 L692 836.4 L698 834.3 L729.7 828 L766 819.4 L784 815.8 L808 812.3 L836 809.9 L836 882 L86 882ZM398.7 76 L399.1 80 L401.4 88 L401.1 92 L399.5 96 L392.9 106 L390 109 L385.3 112 L384.4 120 L385.1 122 L386 122.4 L390 122.7 L396 121.1 L404 122.1 L408 120.8 L410.9 118 L415 108 L422.2 98 L424 94 L424.2 90 L423 86 L419.9 82 L417.6 80 L410.4 76 L406 74.6 L402 74.1 L400 74.6Z" fill="#009fff"/>
<path d="M86 48 L582 48 L576 60 L571.9 70 L568.8 80 L566.8 90 L566.1 98 L566 108 L568.9 148 L568.8 168 L567.8 178 L566 188 L563.3 198 L559.7 208 L555 218 L549.2 228 L536.1 246 L519.7 264 L486 297 L474 311.1 L468 320.3 L464.2 328 L462.3 334 L462.1 338 L462.7 340 L465.3 344 L468 346.6 L472 349.5 L478 352.9 L488 357 L516 366.5 L524 370.2 L532 374.8 L539.2 380 L546 386.3 L552.5 394 L557.7 402 L563.4 414 L567.1 426 L569.3 438 L570.2 452 L569.7 466 L568 480 L565 496 L557.3 530 L554.4 550 L554 560 L554.7 570 L556.1 578 L558.6 586 L563.4 596 L569 604 L576.4 612 L596 630.5 L606 642.9 L611.6 652 L616 660.5 L629.9 692 L634 698.8 L638 703.6 L642 706.3 L644 707 L648 707.4 L652 706.7 L664 702.6 L668 702.6 L670.8 704 L673.4 708 L674.1 714 L673.6 716 L672 718.7 L662 727 L660 727.9 L654 728.2 L650 729.9 L648.2 732 L646.9 736 L647.1 744 L649.3 758 L655.7 776 L657.6 784 L657.9 794 L657.3 798 L655.9 802 L652.8 806 L648 808 L642 807.9 L632 806.5 L628 806.6 L626 807.7 L624.4 812 L624.1 814 L626.7 828 L627 834 L628 837.1 L633.8 846 L638 850.1 L648.7 856 L654 857.7 L660.5 858 L668 855.2 L676 851 L680 847.9 L688 839.4 L692 837.1 L698 835 L782 818.7 L808 815.6 L836 814 L836 882 L86 882ZM399.2 74 L397.7 76 L397.3 78 L398.1 88 L397 94 L391.3 104 L383.2 112 L381.2 120 L378 124 L378.6 126 L386 129.1 L392 133.4 L400 131 L410 129.9 L414 128.4 L416 127 L418.2 124 L419.8 120 L420.6 116 L421 110 L426 107 L430 103.2 L433.4 98 L434.6 94 L434.5 90 L433 86 L429.9 82 L424.7 78 L418 75 L410 72.9 L404 72.5 L402 72.7Z" fill="#00afff"/>
<path d="M86 48 L564.8 48 L558.2 60 L553.7 70 L550.7 80 L549.5 88 L549.4 96 L550.2 104 L558.3 142 L560.8 162 L560.8 174 L559.9 184 L557.9 194 L554.9 204 L550.8 214 L546.7 222 L540.5 232 L533.4 242 L516.5 262 L484 296.5 L472 311.9 L466 321.9 L462.3 330 L461 336 L461.5 340 L464 344 L466 346.1 L470 349.4 L476 353 L486 357.6 L514.2 368 L522.4 372 L530 376.6 L537.1 382 L544 388.7 L549.9 396 L555 404 L560.5 416 L564.1 428 L566.1 440 L566.9 454 L566.3 468 L564.5 482 L554.6 530 L552.2 548 L551.8 558 L552.3 568 L554.1 578 L556.6 586 L561.5 596 L568.7 606 L576 613.6 L596 632.3 L606 644.8 L611.7 654 L616 662.4 L628.8 692 L634 701.1 L638 706.1 L642 709 L644 709.8 L648 710.1 L652 709.3 L664 704.9 L666 704.8 L668 705.6 L670 707.3 L672 711.2 L672.1 716 L670.9 718 L662.5 726 L660 727.4 L654 726.8 L650 727.6 L648 729.2 L646.4 732 L645.6 738 L646.9 748 L649.9 762 L656 780 L657 786 L657.1 794 L656.4 798 L655 802 L652 805.7 L650 806.8 L646 807.5 L632 805.8 L626 806.3 L624.1 812 L623.9 814 L626.5 828 L626.8 834 L628 837.4 L633.6 846 L638 850.2 L648.1 856 L654 858 L662 858.3 L668 856 L676 851.6 L680.6 848 L686.1 842 L690 838.8 L694 836.9 L700 835.2 L760 824.4 L780 821.4 L806 819 L836 818.1 L836 882 L86 882ZM400.5 72 L398 73.7 L396.6 76 L396 80 L395.6 90 L393.7 96 L389 104 L382.1 112 L380.2 118 L377.1 124 L377.2 126 L380 128.8 L392 136 L396 136.4 L410 135.9 L420 134.8 L423.8 130 L431.2 116 L440.4 106 L444.7 100 L446.6 94 L445.8 88 L443.6 84 L439.6 80 L433.1 76 L428.3 74 L421.4 72 L412 70.6 L406 70.7Z" fill="#00bfff"/>
<path d="M86 48 L546.3 48 L536.8 62 L531.1 72 L528 80 L527 88 L527.8 94 L529.6 100 L544.9 134 L549.1 146 L551.6 156 L553.4 168 L553.6 178 L552.7 188 L550 200 L547.3 208 L542.9 218 L537.3 228 L530.6 238 L513.5 260 L482 296.2 L472 309.7 L466 319.8 L462 328 L460.1 334 L459.9 338 L461.3 342 L464 345.5 L468 349.1 L474 353.1 L484 358 L512 369.1 L521.4 374 L528 378.3 L535.2 384 L541.2 390 L546.1 396 L551.3 404 L556.2 414 L560.2 426 L562.5 438 L563.6 452 L563.2 466 L561.7 480 L552.3 528 L549.8 548 L549.5 558 L550.2 568 L552.1 578 L554.7 586 L559.5 596 L566.6 606 L574.2 614 L594 632.1 L600 638.6 L606 646.6 L611.8 656 L616.8 666 L628 692.6 L634 703.7 L638 709.2 L642 712.5 L646 713.7 L650 713.1 L664 708.2 L666 708.5 L668 709.8 L670 712.7 L670.6 716 L666 720.3 L661.5 726 L660 726.9 L654 725.2 L650 724.9 L647.5 726 L646 727.5 L644.9 730 L644.3 734 L644.5 738 L647 752 L649.3 762 L654.1 776 L655.6 782 L656.3 790 L655.9 796 L654.1 802 L652.8 804 L650 806.2 L646 806.9 L632 805.2 L625.7 806 L624 810.7 L623.7 814 L626.4 828 L626.7 834 L627.3 836 L633.5 846 L638 850.4 L648 856.1 L652.9 858 L660 859 L666 857.7 L676 852.2 L680 849.2 L686.8 842 L690 839.5 L696 836.9 L702 835.4 L754 827.1 L778 824 L806 822.2 L836 822.1 L836 882 L86 882ZM402.2 70 L398 72.4 L395.6 76 L394.1 88 L392.6 94 L388.5 102 L381.2 112 L376.2 124 L376.3 126 L378 128.8 L380 130.7 L388 136.4 L392 138.3 L398 139.4 L406 140 L414 140.1 L420 139.4 L424 137.6 L428 134 L435.6 122 L438 119.3 L450.9 110 L457.7 104 L460.9 100 L462.9 96 L463.5 90 L463 88 L460.7 84 L456.5 80 L449.9 76 L440 72.1 L430 69.7 L420 68.5 L410 68.5Z" fill="#00cfff"/>
<path d="M86 48 L526 48 L516 57.4 L506 64.9 L498 69.2 L490 71.4 L484 71.9 L478 71.7 L446 66.9 L428 65.5 L412 66.3 L406 67.4 L400 69.7 L397.1 72 L394.6 76 L392.5 88 L390.9 94 L386.9 102 L380.2 112 L376 122 L375.5 126 L377.7 130 L380 132.5 L386 137.3 L392 140.5 L398 142.2 L406 143.4 L414 143.9 L420 143.4 L426 141.4 L431.3 138 L436.8 132 L440.5 126 L444 124 L480 108.9 L490 106.6 L498 106.9 L504 108.7 L512 113.1 L518 117.8 L524 123.8 L530 131.4 L535.5 140 L539.6 148 L542.8 156 L546.2 170 L546.8 184 L544.6 198 L542.2 206 L539 214 L531.6 228 L521 244 L507.4 262 L482 293.5 L472 307.5 L466 317.7 L461.8 326 L459.5 332 L458.7 338 L460 342 L463.1 346 L472 353 L482 358.3 L504 367.5 L513.5 372 L523.5 378 L531.3 384 L539.2 392 L545.3 400 L551 410 L555 420 L557.4 428 L559.3 438 L560.3 448 L560.4 460 L558.3 482 L550 526 L547.6 544 L547.4 562 L548.3 570 L550 578 L552.6 586 L555.3 592 L558.7 598 L563 604 L572.1 614 L590 630 L598 638.1 L606 648.3 L614 662 L620.5 676 L626 690.7 L634 706.9 L642.8 720 L643.2 722 L642.5 732 L643.7 740 L648.8 762 L654.8 782 L655.5 790 L655 796 L654.1 800 L651.9 804 L650 805.5 L648 806.2 L644 806.2 L632 804.5 L628 804.9 L626 805.3 L625.3 806 L624 809.3 L623.6 814 L626.2 828 L626.5 834 L627.1 836 L633.3 846 L638 850.5 L644 854.3 L652 858 L660 859.4 L666 858.4 L670 856.4 L680 849.8 L687.5 842 L690 840.2 L696 837.5 L702 836.1 L748 829.4 L776 826.4 L804 825.3 L836 826.1 L836 882 L86 882ZM658 713.9 L662 712.9 L664 713.2 L665.6 714 L666 716 L660.6 726 L660 726.3 L658.8 726 L653.3 722 L652 720 L652.2 718 L654 716.1Z" fill="#00dfff"/>
<path d="M86 48 L502.6 48 L490 54.3 L476 58.3 L464 59.9 L434 61.6 L420 62.9 L408 65.3 L400 68.4 L396 71.8 L393.5 76 L389.4 94 L386.6 100 L379.2 112 L375.1 122 L374.8 126 L376 129.4 L380 134.4 L386 139.4 L390 141.8 L396 144.1 L402 145.7 L410 147 L416 147.3 L424 146.5 L430 144.5 L436 141.1 L448 132.3 L454 129.6 L462 127.1 L472 125 L482 123.8 L490 123.8 L498 124.9 L504 126.9 L510 130 L520 138.2 L526 144.8 L530 150.3 L534 157 L537.1 164 L540.1 176 L540.4 188 L539.7 194 L537.9 202 L532.5 216 L525 230 L514.6 246 L503.4 262 L480 293.3 L472 305.2 L466 315.5 L460.8 326 L458.4 332 L457.5 338 L458.8 342 L461.7 346 L470 352.9 L480 358.6 L510 372.2 L519.7 378 L527.5 384 L535.7 392 L541.8 400 L547.6 410 L551.8 420 L554.6 430 L556.4 440 L557.3 450 L557.3 460 L555.3 482 L547.7 524 L545.3 542 L544.8 552 L545.2 562 L546.2 570 L547.9 578 L550.6 586 L553.3 592 L560.9 604 L570 614 L590 631.7 L598 639.8 L606 650 L613.1 662 L618.8 674 L624.8 690 L637.2 718 L648.3 762 L654 782 L654.6 788 L654.1 796 L653.2 800 L651 804 L648 805.6 L646 805.7 L634.3 804 L630 804 L626 804.9 L624.9 806 L624 808 L623.4 814 L625.7 826 L626.4 834 L627 836 L633.2 846 L638 850.7 L644 854.5 L651.6 858 L660 859.9 L666 859.1 L674 854.8 L680.5 850 L688 842.3 L692 839.7 L698 837.6 L704 836.4 L744 831.2 L776 828.6 L804 828.3 L836 830.1 L836 882 L86 882Z" fill="#00efff"/>
<path d="M86 48 L476.6 48 L458 53.3 L414 61.8 L404 65.1 L398 68.5 L394.6 72 L392.5 76 L387.9 94 L385.3 100 L378.3 112 L374.3 122 L374 126 L375.3 130 L378 134 L382 138.2 L388 142.7 L394 145.7 L400 147.8 L414 150.6 L422 150.7 L430 149.3 L438 146.2 L452 139.1 L458 137.1 L464 135.9 L472 135.3 L480 135.4 L490 136.5 L500 138.4 L503.1 140 L512 146.4 L522 155.3 L528 162.9 L532.4 172 L534.5 182 L534.3 192 L531.7 204 L527.1 216 L519.7 230 L507.4 250 L478 293.2 L470 306.1 L458.9 328 L456.8 334 L456.3 338 L457.5 342 L460.4 346 L464.6 350 L469.9 354 L480 359.8 L509.6 374 L518.9 380 L526.3 386 L534 394 L539.9 402 L544.4 410 L548.6 420 L551 428 L553.1 438 L554.1 448 L554.4 458 L552.7 480 L545 524 L542.9 542 L542.5 552 L542.9 562 L544 570 L545.8 578 L548.5 586 L551.2 592 L558.8 604 L567.8 614 L590 633.4 L598 641.4 L606 651.6 L612.2 662 L618.9 676 L630.5 706 L634.4 718 L635.9 726 L640 735.7 L644 747.8 L652.8 780 L653.6 786 L653.5 794 L652.3 800 L650 804 L648 805 L646 805.1 L636 803.5 L630 803.4 L626 804.6 L624 807 L623.3 814 L625.6 826 L626.2 834 L626.9 836 L633 846 L638 850.8 L644 854.6 L651.2 858 L660 860.1 L666 859.7 L672 856.7 L680 851.1 L688 843 L692 840.4 L698 838.2 L706 836.7 L740 832.8 L774 830.8 L804 831.3 L836 834 L836 882 L86 882Z" fill="#00ffff"/>
<path d="M86 48 L454.4 48 L410 61.1 L402 64.6 L396 69 L393.5 72 L391.5 76 L386.6 94 L384 100 L378 110.8 L374.1 120 L373.2 124 L373.6 128 L375.3 132 L378 135.9 L382 140.2 L388 144.8 L398 149.6 L412 153.5 L422 154.4 L432 153.5 L440 151.2 L454 145.7 L462 144.1 L472 144.3 L482 146.6 L506 156.5 L514 160.7 L518 163.8 L522 167.8 L525 172 L527 176 L528.8 184 L528.4 194 L526.3 204 L522.6 214 L516.7 226 L502 252 L476 293.3 L468 307.2 L457 330 L455.2 336 L455.3 340 L457.5 344 L461 348 L470 355.2 L480 360.9 L506.2 374 L515.5 380 L523 386 L530.8 394 L536.7 402 L541.3 410 L545.6 420 L548 428 L550.1 438 L551.1 448 L551.4 458 L549.8 480 L542.4 524 L540.4 542 L540.1 552 L540.6 562 L541.8 570 L543.7 578 L546.4 586 L549.1 592 L553.8 600 L558.3 606 L567.7 616 L588 633.3 L596 640.9 L604 650.4 L612 663.3 L618.9 678 L627.9 702 L632.2 718 L633.1 726 L638.6 736 L643.3 748 L652 780 L652.8 788 L652.3 796 L650.7 802 L648.9 804 L646 804.4 L638 803 L632 802.6 L626 804.2 L624 806.2 L623.4 808 L623.1 814 L625.8 828 L626.1 834 L627.6 838 L632.9 846 L638 851 L646 855.9 L650.7 858 L660 860.3 L667.2 860 L671 858 L680 851.7 L688 843.8 L692 841 L698 838.9 L710 836.8 L742 833.8 L774 832.9 L804 834.3 L836 837.9 L836 882 L86 882Z" fill="#10ffef"/>
<path d="M86 48 L440.1 48 L416 56.8 L406 61.1 L398 65.9 L394 69.7 L390.4 76 L384.6 96 L374 118 L372.5 124 L372.8 128 L374 131.6 L376 135.2 L382 142.2 L390 148.1 L402 153.6 L416 157.4 L428 158.4 L434 157.9 L440 156.7 L458 151.2 L462 150.9 L468 151.6 L474 153.6 L480 156.8 L486.7 162 L492 167.6 L494 168 L500 167.3 L504 167.5 L508 168.3 L512 170 L518 174.3 L520 176.4 L522.2 180 L523.1 188 L522.6 196 L520.9 204 L518.1 212 L497.1 254 L474 293.6 L466 308.6 L455.1 332 L454 336 L454 340 L456.2 344 L459.6 348 L468 355 L478 361.1 L504 374.6 L512.4 380 L519.8 386 L527.7 394 L533.7 402 L538.3 410 L542.6 420 L545.1 428 L547.1 438 L548.2 448 L548.5 458 L546.9 480 L539.7 524 L537.9 542 L537.7 552 L538.3 562 L539.5 570 L541.5 578 L547 592 L551.7 600 L556.1 606 L567.6 618 L588 634.9 L596 642.5 L604 652 L611.5 664 L618.9 680 L627.4 704 L630.5 718 L631 728 L637.1 736 L642 746.5 L645.2 756 L651.2 780 L651.9 786 L651.6 794 L649.8 802 L648 803.8 L636 802 L632 802 L626 803.8 L623.7 806 L623.2 808 L622.9 814 L625.7 828 L626 834 L627.5 838 L632.7 846 L638 851.1 L645.9 856 L650.3 858 L660 860.5 L668 860.3 L672.2 858 L680.4 852 L690 842.9 L694 840.7 L702 838.7 L716 836.8 L746 834.8 L776 835 L804 837.3 L836 841.9 L836 882 L86 882Z" fill="#20ffdf"/>
<path d="M86 48 L430.8 48 L404 60.5 L398 64.5 L392.6 70 L390.2 74 L388.7 78 L383.5 96 L373.2 118 L371.7 124 L372 128.2 L373.2 132 L376 137.2 L382 144.2 L390 150.3 L402 156.2 L418 161.1 L426 162.4 L432 162.8 L442 161.9 L458 157 L462 157 L465.2 158 L470 160.4 L486 172 L489.8 174 L494 174.9 L504 175.9 L509.5 178 L514 181.6 L516 185.4 L516.9 190 L517 196 L516 202 L513.4 210 L492.5 256 L472 294 L464 310.2 L454 332 L452.8 336 L452.8 340 L453.6 342 L456.4 346 L460.3 350 L466 354.7 L476 361.1 L503.4 376 L512 382 L518 387.1 L524.7 394 L530.7 402 L535.4 410 L539.7 420 L542.2 428 L544.3 438 L545.4 448 L545.7 458 L544.1 480 L537.4 522 L535.5 540 L535.3 550 L535.8 560 L537.3 570 L539.3 578 L542.1 586 L545.9 594 L550.9 602 L555.5 608 L565.4 618 L586 634.8 L594 642 L602 650.8 L610 662.9 L617.3 678 L625.7 702 L629 718 L629.3 728 L636 736.7 L642 748.5 L645.2 758 L650 778 L650.9 784 L651 790 L650 797.5 L648.8 802 L648 802.8 L646 802.7 L636 801.2 L632 801.3 L626 803.3 L623.4 806 L622.9 808 L622.8 814 L625.6 828 L625.9 834 L627.4 838 L632.6 846 L638 851.3 L645.6 856 L650 858 L660 860.7 L666 860.9 L669.8 860 L678 854.5 L690 843.6 L694 841.3 L706 838.6 L718 837.4 L746 836.1 L776 837.2 L804 840.2 L836 845.9 L836 882 L86 882Z" fill="#30ffcf"/>
<path d="M86 48 L424.2 48 L402 60.2 L396 64.8 L391.5 70 L387.6 78 L381.6 98 L372.4 118 L371 124 L371.6 130 L373 134 L376 139.3 L382 146.3 L390 152.5 L402 158.8 L418 164.6 L432 167.5 L442 167.9 L458 165.5 L462 166 L484.6 178 L490 179.7 L500 181.7 L504 183.2 L507.7 186 L510.3 190 L511.2 194 L511.2 198 L510.5 202 L508.5 208 L501.4 224 L489.1 256 L468 298.8 L452.9 332 L451.5 336 L451.5 340 L453.5 344 L456.9 348 L466 355.8 L476 362.3 L500.6 376 L509.2 382 L516.1 388 L521.9 394 L527.9 402 L532.6 410 L536.9 420 L539.4 428 L541.5 438 L542.9 456 L541.5 478 L534.7 522 L533 540 L532.8 550 L533.4 560 L535 570 L537 578 L539.9 586 L543.7 594 L548.7 602 L553.3 608 L565.3 620 L586 636.4 L594 643.5 L602 652.3 L610 664.4 L617.3 680 L624.7 702 L627.4 716 L628.2 728 L630 731.2 L636 738.9 L642 750.2 L644.7 758 L649.2 778 L650.2 788 L649.5 794 L648 800.5 L646 801.5 L636 800.4 L632 800.6 L626 802.9 L623.1 806 L622.6 814 L625.5 828 L625.7 834 L627.3 838 L634 848 L638 851.4 L644 855.3 L654 859.5 L660 860.9 L666 861.3 L668 861.1 L674.1 858 L680 853.6 L692 842.9 L698 840.7 L710 838.6 L736 837.3 L764 838.3 L792 841.3 L822 846.7 L836 849.8 L836 882 L86 882Z" fill="#40ffbf"/>
<path d="M86 48 L419.2 48 L400 60.1 L394 65.3 L390 70.5 L386.6 78 L380.6 98 L371.6 118 L370.3 124 L370.7 130 L372 134.1 L375 140 L378 144.2 L382 148.4 L392 156 L404 162.4 L418 168.2 L430 172 L440 174.1 L460 176.3 L484 184.6 L498 187.4 L502.9 190 L505.4 194 L505.7 198 L504.7 202 L496.9 220 L490.8 242 L487.4 252 L457.5 320 L450.9 334 L450 338 L450.2 340 L451 342 L453.7 346 L458 350.4 L464 355.5 L474 362.3 L500 377.4 L506.4 382 L513.4 388 L519.1 394 L525.2 402 L529.9 410 L534.2 420 L536.7 428 L538.8 438 L539.8 448 L540.1 458 L538.7 478 L532.3 520 L530.7 536 L530.5 554 L532.6 570 L535.3 580 L539.4 590 L543.7 598 L550 606.8 L556.5 614 L563 620 L586 637.9 L594 644.9 L602 653.8 L608 662.5 L612.1 670 L616.5 680 L623.2 700 L626.2 716 L627 728 L628 730.3 L638 744 L642.9 754 L644.6 760 L648.8 780 L649.3 786 L648.8 792 L647.8 796 L646 799.5 L642.6 800 L634 799.7 L630 800.5 L626 802.5 L622.8 806 L622.5 814 L625.4 828 L625.6 834 L627.2 838 L633.9 848 L638 851.6 L644 855.4 L654 859.7 L660 861.1 L666 861.6 L668 861.6 L674.9 858 L682 852.5 L692 843.5 L698 841.3 L710 839.2 L734 838.3 L756 839.3 L779.9 842 L806 846.6 L836 853.9 L836 882 L86 882Z" fill="#50ffaf"/>
<path d="M86 48 L415.2 48 L402 57 L396 61.9 L392 66.1 L388.1 72 L385.5 78 L379.6 98 L372.3 114 L370.2 120 L369.4 126 L370.3 132 L372 136.7 L374.8 142 L378 146.4 L382 150.6 L392 158.3 L408 167.2 L426 175.4 L442 181.5 L468 187.8 L486 193.4 L492 194.7 L498 195 L499.7 196 L494.8 204 L491.4 214 L487.4 240 L483.4 254 L457.4 318 L449.6 334 L448.5 338 L448.8 340 L450.8 344 L454.2 348 L464 356.6 L474 363.4 L498.4 378 L510.8 388 L516.5 394 L522.6 402 L527.3 410 L531.6 420 L534 428 L536.1 438 L537.1 448 L537.4 458 L536 478 L529.9 518 L528.1 536 L528.1 554 L529.1 564 L530.7 572 L533.7 582 L537.1 590 L541.4 598 L547 606 L554 613.9 L560.5 620 L588 641.1 L598 650.5 L604 657.9 L608 664 L613.2 674 L617.3 684 L621.7 698 L623.6 706 L625.1 716 L625.9 728 L628 732.4 L638 745.7 L642 753.3 L644.1 760 L648.5 784 L647.7 792 L646 796.6 L644.6 798 L642 798.7 L634 798.9 L630 799.8 L626 802 L624 803.7 L622.4 806 L622.3 814 L625.3 828 L625.5 834 L628 839.9 L634 848.3 L638 851.7 L644 855.6 L654 859.9 L660 861.3 L666 861.9 L668 862 L675.8 858 L682 853.2 L690 845.7 L694 843.1 L710 839.7 L732 839.3 L748 840.1 L768 842.4 L789.1 846 L812 851.2 L836 858 L836 882 L86 882Z" fill="#60ff9f"/>
<path d="M86 48 L411.8 48 L396 60.4 L390.8 66 L387 72 L383.8 80 L378.6 98 L371.5 114 L369.4 120 L368.7 126 L369.9 134 L373.4 142 L378 148.6 L384 154.7 L392 160.7 L402 166.9 L446 191.7 L454 194.6 L468 196.9 L472 198.2 L477.1 202 L478.8 204 L480.8 208 L483.6 226 L484 232 L483.5 240 L482 248 L476.9 264 L457.3 316 L454 323.4 L447.4 336 L446.9 338 L447.2 340 L449.5 344 L452.8 348 L462 356.2 L472 363.4 L495.9 378 L508.3 388 L514 394 L520 402 L524.7 410 L529 420 L531.4 428 L533.4 438 L534.7 456 L533.5 476 L527.3 518 L525.5 536 L525.6 554 L526.7 564 L528.3 572 L534 588.2 L538 596 L544.7 606 L551.7 614 L558.1 620 L588 642.5 L598 651.9 L604 659.3 L608 665.5 L612.4 674 L615.8 682 L620.3 696 L622.2 704 L623.8 714 L624.7 728 L626.4 732 L638 747.2 L642 754.8 L643.6 760 L647.5 782 L647 790 L646 793.3 L644 796.3 L640 797.8 L634 798.1 L630 799.1 L624 803.2 L622.1 806 L622.2 814 L625.2 828 L625.4 834 L627.9 840 L634 848.4 L638 851.9 L644 855.7 L653.9 860 L666 862.2 L668.7 862 L676.4 858 L693.4 844 L708 840.3 L718 839.8 L742 840.9 L758 842.7 L777.1 846 L806 852.9 L836 862.1 L836 882 L86 882Z" fill="#70ff8f"/>
<path d="M86 48 L408.9 48 L398 57 L392.9 62 L388.2 68 L385 74 L382.7 80 L377.7 98 L370.7 114 L368.7 120 L367.9 126 L369 134 L371.1 140 L374 145.5 L378 151 L384 157 L394 164.5 L424.2 184 L431.8 190 L446 203.2 L450 204.9 L462 207 L468 209.7 L470.6 212 L473.5 216 L478 226 L479.5 232 L479.8 240 L478.6 248 L476.6 256 L457 314 L452.7 324 L445.9 336 L445.2 338 L445.5 340 L448 344 L451.5 348 L462 357.4 L472 364.5 L493.6 378 L505.9 388 L511.6 394 L517.6 402 L522.2 410 L526.5 420 L528.9 428 L530.9 438 L532.1 456 L530.8 476 L524.8 516 L523 534 L522.9 552 L525 568 L526 572 L532 587.1 L538 598.8 L544 607.9 L550 614.8 L557.9 622 L586 642.4 L596 651.1 L602 658 L606.2 664 L610.6 672 L615 682 L618.3 692 L620.9 702 L622.8 714 L623.6 728 L626.4 734 L638 748.7 L641.9 756 L643.5 762 L646.7 782 L646.4 788 L644 794 L642 795.7 L640 796.4 L634 797.2 L630 798.4 L624 802.8 L621.8 806 L622 814 L625.1 828 L625.3 834 L627.8 840 L634 848.6 L638 852 L644 855.9 L653.4 860 L660 861.6 L666 862.4 L669.5 862 L677.1 858 L694 844.3 L708 840.7 L718 840.3 L738 841.7 L752 843.4 L766.8 846 L784.4 850 L799 854 L818.1 860 L836 866.4 L836 882 L86 882Z" fill="#80ff80"/>
<path d="M86 48 L406.2 48 L392 61.4 L387.1 68 L383.9 74 L381.1 82 L376.8 98 L369.9 114 L367.9 120 L367.2 128 L368.5 136 L372.7 146 L376 150.9 L380 155.5 L390 164.2 L412.8 180 L422.8 188 L430.3 196 L439.6 210 L441.5 212 L446 214 L458 215.3 L464 217.4 L470 222.4 L472.5 226 L474.4 230 L475.9 236 L476 242 L475 250 L472 262 L465.6 284 L455.3 316 L451.8 324 L444.4 336 L443.6 338 L443.8 340 L450.1 348 L460 357 L470 364.4 L491.3 378 L503.6 388 L509.2 394 L515.2 402 L519.8 410 L523.3 418 L525.9 426 L528 436 L529.2 446 L529.5 456 L528.1 476 L522.2 516 L520.5 532 L520.2 550 L521.8 564 L524 570.8 L527.6 578 L530 584.8 L534 593 L540 604.2 L546 612.6 L550 617.2 L557.8 624 L586 643.8 L596 652.4 L602 659.3 L606 665.1 L610 672.4 L614.2 682 L617.6 692 L620 702 L621.8 714 L622.4 728 L625.1 734 L636 747.3 L641.3 756 L642.9 762 L645.9 782 L645.4 788 L644 791.6 L642 793.9 L640 795 L630 797.6 L624 802.3 L621.6 806 L621.9 814 L625 828 L625.2 834 L627.7 840 L634 848.7 L637.8 852 L644 856 L652.9 860 L660 861.8 L668 862.6 L674.5 860 L677.7 858 L694 844.8 L708 841 L718 840.6 L724 841.7 L742 843.3 L757.9 846 L775.2 850 L795.9 856 L813.5 862 L836 870.7 L836 882 L86 882Z" fill="#8fff70"/>
<path d="M86 48 L403.9 48 L390 62.2 L385.9 68 L382 76 L375.3 100 L369.1 114 L367.1 120 L366.4 128 L368 137.9 L372.3 148 L376 153.4 L380 157.9 L388 165.1 L413 184 L423 194 L428.5 202 L436 218 L440 220.3 L456 221.7 L462 223.5 L466 226 L468 227.9 L470 230.6 L471.5 234 L472.5 240 L471.8 250 L464.3 282 L453.6 318 L450 325.4 L442.9 336 L442.3 338 L442.6 340 L445.1 344 L448.7 348 L460 358.1 L470 365.6 L490 378.6 L501.4 388 L507 394 L512.9 402 L517.4 410 L520.9 418 L523.4 426 L525.5 436 L526.6 446 L526.9 456 L525.4 476 L519.7 514 L517.9 530 L517.5 546 L518.8 560 L520 564.3 L524 573 L527.1 578 L530 586.2 L534 594.2 L540 605.4 L548 617 L552 621.3 L557.7 626 L586 645.2 L596 653.7 L601.5 660 L605.6 666 L610 674 L613.5 682 L616.8 692 L619.1 702 L620.8 714 L621.2 728 L622.7 732 L625 736 L636 748.6 L640.7 756 L642.4 762 L645.1 782 L644.4 788 L642 792 L638.8 794 L630 796.8 L624 801.8 L622.2 804 L621.4 806 L621.8 814 L624.9 828 L625.1 834 L627.6 840 L634 848.8 L637.6 852 L644 856.2 L652.5 860 L660 862 L668 862.9 L675.1 860 L678.3 858 L694 845.3 L708 841.4 L718 841 L724 842.4 L738 843.9 L750.3 846 L767.1 850 L787.2 856 L804.1 862 L824.1 870 L836 875.2 L836 882 L86 882Z" fill="#9fff60"/>
<path d="M86 48 L401.8 48 L388 63.1 L383.6 70 L380.9 76 L378.9 82 L374.4 100 L368.3 114 L366.3 120 L365.7 124 L365.7 130 L367.5 140 L371.8 150 L378 158.3 L386 165.9 L408.5 184 L414.8 190 L419.9 196 L423.7 202 L427.3 210 L429.3 218 L430 224.2 L432 225.4 L438 226.6 L452 226.9 L458 227.7 L464 230.4 L466 232.1 L468 235.6 L469 242 L468.6 250 L464.1 274 L461 288 L452.7 318 L448.5 326 L442 334.9 L441 338 L441.3 340 L445.4 346 L458 357.6 L468 365.3 L489.8 380 L499.3 388 L504.8 394 L510.7 402 L515.2 410 L518.6 418 L521 426 L523.1 436 L524.1 446 L524.3 456 L522.8 476 L517.3 512 L515.4 528 L514.8 544 L516 556.1 L518 562.2 L524 574.3 L526.5 578 L528 582.6 L534 595 L540 606.4 L542.9 610 L548 618.5 L556 626.8 L584 645.2 L596 655 L600.5 660 L604.8 666 L609.2 674 L612.7 682 L616.1 692 L617.9 700 L619.7 714 L620 728.1 L621.4 732 L624 736.5 L636 749.8 L640.2 756 L641.9 762 L642.6 772 L644.2 782 L644 786 L642 790.1 L639.9 792 L632 794.9 L628 797.3 L622 803.7 L621.2 806 L621.6 814 L624.8 828 L625 834 L627.4 840 L634 849 L637.4 852 L644 856.3 L652 860 L660 862.1 L668 863.1 L675.6 860 L678.8 858 L694 845.9 L708 841.7 L718 841.3 L724 843 L743.5 846 L767.1 852 L795.8 862 L815 870 L836 879.8 L836 882 L86 882Z" fill="#afff50"/>
<path d="M86 48 L399.8 48 L392 56.5 L386.1 64 L382.5 70 L379 78 L373.6 100 L366.7 116 L365.1 122 L365 132 L366.9 142 L371.3 152 L378 160.8 L386 168.5 L406.7 186 L415.7 196 L419.6 202 L422.6 208 L424.6 214 L427 224 L428 226.1 L432 229.1 L440 231.7 L452 231.8 L458 232.9 L462 234.8 L464 237.1 L465.4 244 L465.2 250 L461.6 276 L459.3 288 L454.1 310 L451.7 318 L448 325.3 L440.9 334 L439.9 336 L440 340 L440.9 342 L443.9 346 L456 357.1 L468 366.5 L487.8 380 L497.2 388 L502.7 394 L507.2 400 L511.9 408 L515.5 416 L518.2 424 L520.4 434 L521.5 444 L521.8 454 L520.4 474 L514.5 512 L512.7 528 L512.2 542 L514 553.8 L518 564 L527.1 580 L528 583.6 L536 599.7 L548 619.7 L556 628.7 L584 646.5 L590 650.9 L596 656.3 L601 662 L605.1 668 L612 682 L615.4 692 L617.1 700 L618.6 716 L618.7 726 L619.5 730 L621.1 734 L623.6 738 L636 751 L640 756.9 L641.3 762 L641.8 772 L643.4 782 L643 786 L640.4 790 L638 791.5 L630 794.9 L628 796.4 L622 803.2 L620.9 806 L621.5 814 L624.7 828 L624.9 834 L627.3 840 L634 849.1 L637.2 852 L644 856.4 L652 860.2 L660 862.3 L668 863.3 L676 860.1 L679.3 858 L694 846.5 L708 842.1 L714 841.5 L718 841.7 L725.5 844 L738 846.1 L750 848.9 L772.6 856 L802.3 868 L831.2 882 L86 882Z" fill="#bfff40"/>
<path d="M86 48 L397.9 48 L390 57.2 L384.9 64 L380.4 72 L377.9 78 L372.8 100 L365.9 116 L364.3 122 L364.1 132 L366 143.2 L370 152.8 L376 161.2 L384 169.3 L402.9 186 L408.7 192 L413.4 198 L419 208 L425.3 226 L428 229.5 L432 232.4 L440 236 L452 236.5 L456 237.4 L459.7 240 L460.8 242 L461.8 248 L459.5 276 L458 286 L452.6 312 L450.8 318 L448 323.7 L439.1 334 L438.3 336 L438.6 340 L442.5 346 L455.6 358 L468 367.7 L485.8 380 L495.2 388 L500.7 394 L505.1 400 L509.8 408 L513.3 416 L515.9 424 L517.7 432 L518.9 442 L519.3 452 L518 472 L511.7 512 L509.9 528 L510 540 L512 549.3 L514 556 L516 560.5 L526.7 580 L528 584.3 L534 596.4 L540 607.7 L543.2 612 L548 620.5 L554 628.3 L558 632 L584 647.9 L590 652.2 L596 657.5 L600 662 L604.2 668 L611.2 682 L614.6 692 L616.3 700 L617.6 726 L619 732 L620.8 736 L623.6 740 L638 754.6 L639.9 758 L640.8 762 L641.1 774 L642.5 782 L642 786 L640 788.7 L638.1 790 L632 792.6 L628 795.4 L622 802.7 L620.7 806 L621.7 816 L624.6 828 L624.8 834 L627.2 840 L634 849.3 L637 852 L644 856.6 L652 860.3 L660 862.4 L668 863.5 L676 860.3 L679.8 858 L694 847.1 L708 842.4 L714 841.8 L718 842 L724 844.2 L748.6 850 L770 857.3 L795 868 L822.6 882 L86 882Z" fill="#cfff30"/>
<path d="M86 48 L396.1 48 L383.7 64 L379.2 72 L376.1 80 L372 100 L365 116 L363.5 122 L363.3 134 L365.5 146 L370 155.9 L376 163.9 L399.4 186 L409.9 198 L415.8 208 L421.8 224 L423.9 228 L426 230.8 L432 235.8 L438 238.9 L444 240.4 L454 241.5 L456 242.5 L457.2 244 L458 248 L457.3 278 L451.6 312 L449.9 318 L448.1 322 L444 327.3 L437.1 334 L436.4 336 L436.5 338 L439.4 344 L447.3 352 L464 366 L486.4 382 L495.2 390 L500.3 396 L504.3 402 L507.7 408 L511.1 416 L513.6 424 L515.4 432 L516.4 440 L516.9 450 L516.5 460 L515.4 472 L509.2 510 L507.3 526 L508 535.9 L512 552.1 L516 561.5 L523.8 576 L525.4 578 L528 584.9 L538 604.8 L542.9 612 L548 621.2 L554 629.4 L560 635.2 L584 649.2 L594 656.8 L599 662 L603.4 668 L610.4 682 L613.3 690 L615.2 698 L615.8 704 L616.4 724 L618 732.6 L620.6 738 L623.7 742 L634 751.2 L638 755.6 L639.3 758 L640.2 762 L640.2 774 L641.7 784 L640.8 786 L638 788.5 L632 791.3 L628 794.2 L622 802.2 L620.5 806 L621.6 816 L624.5 828 L624.7 834 L627.1 840 L634 849.4 L636.9 852 L644 856.7 L652 860.4 L658 862.2 L668 863.7 L677 860 L683.3 856 L694 847.7 L696 846.8 L708 842.7 L714 842.1 L718 842.3 L728 846 L750 852 L766.1 858 L788.3 868 L814.7 882 L86 882Z" fill="#dfff20"/>
<path d="M86 48 L394.5 48 L384 61.6 L377.1 74 L374.4 82 L371.3 100 L363.5 118 L362.4 124 L362.3 132 L362.9 140 L364.7 148 L368.2 156 L374 164.3 L380 170.8 L398.1 188 L406.6 198 L412.7 208 L420.2 226 L424 232.1 L428 236.2 L434 240.6 L440 243.7 L450 247.3 L451 248 L452 249.9 L454.8 268 L455.2 278 L454.5 286 L450.6 312 L449 318 L447.2 322 L444 326 L434.4 334 L434.1 336 L434.6 338 L438 344 L445.8 352 L464 367.2 L484.5 382 L493.3 390 L498.3 396 L502.3 402 L508.2 414 L510.9 422 L513.1 432 L514 440 L514.4 450 L514 460 L512.7 472 L506.7 508 L504.9 522 L505.1 526 L508.1 540 L512 553.3 L516 562.3 L525.1 578 L528 585.5 L538 605.3 L542.5 612 L548 621.8 L554 630.4 L562 638.2 L584 650.5 L594 658 L598 662.1 L602.5 668 L607 676 L610.5 684 L613.2 692 L614.5 698 L615.2 724 L617.2 734 L619.1 738 L622 742 L634 752.4 L637.5 756 L638.8 758 L639.7 762 L639.2 774 L640.8 784 L640 785.4 L638 786.9 L632 789.8 L628 792.7 L622 801.6 L620.6 804 L620.3 806 L621.5 816 L624.4 828 L624.6 834 L627 840 L634 849.6 L636.7 852 L644 856.8 L652 860.6 L658 862.3 L668 863.9 L677.4 860 L696 847.3 L708 843 L714 842.3 L718 842.6 L728 846.5 L751.1 854 L765.6 860 L786.1 870 L807.5 882 L86 882Z" fill="#efff10"/>
<path d="M86 48 L392.8 48 L381.2 64 L376.8 72 L373.8 80 L370.5 100 L369.1 104 L363.3 116 L361.8 122 L361.5 136 L363.2 148 L366.3 156 L372 164.7 L378 171.5 L394.9 188 L404.8 200 L410.8 210 L417.7 226 L422 233.4 L426 237.9 L430 241.5 L444.2 252 L447.1 256 L450 261.7 L452.4 270 L453.2 280 L448.8 316 L447.3 320 L444 324.8 L438 329.3 L432.3 332 L430.5 334 L436.4 344 L442.1 350 L464 368.5 L484 383.1 L491.4 390 L496.4 396 L500.4 402 L506.1 414 L508.7 422 L510.8 432 L511.8 442 L511.9 452 L510.4 470 L503.6 510 L502.5 520 L504 527 L511.9 554 L517.6 566 L524.8 578 L528 586 L538 605.8 L542.1 612 L547.8 622 L554 631.1 L560 637.9 L564 641.1 L582 650.6 L592 657.5 L598 663.3 L602.9 670 L609.7 684 L613.4 696 L614.1 702 L613.4 712 L613.9 722 L615 730 L616.7 736 L618.7 740 L622 744 L636 755.2 L638 757.6 L638.9 760 L638.1 776 L639.5 784 L632 788 L628 791 L620.3 804 L620 806 L621 814 L623 824 L624.3 828 L624.5 834 L624.9 836 L626.8 840 L634 849.7 L636.5 852 L644 857 L652 860.7 L658 862.5 L668 864.1 L677.8 860 L696 847.8 L708 843.3 L714 842.6 L718 842.8 L730 847.9 L746.9 854 L760.8 860 L780.4 870 L800.8 882 L86 882Z" fill="#ffff00"/>
<path d="M86 48 L391.2 48 L382 60.7 L374.7 74 L372.1 82 L369.7 100 L368.3 104 L363.1 114 L361.7 118 L360.7 124 L360.5 136 L361 144 L362.2 150 L365.4 158 L370.6 166 L376 172.1 L393.6 190 L403.1 202 L408.9 212 L417.1 230 L421 236 L426 241.8 L440.8 256 L446 262.4 L448.9 268 L450.6 274 L451.2 282 L447.9 316 L446 320.8 L442 325.4 L438 327.9 L430 331.2 L429.2 332 L428.7 334 L429.4 336 L434.9 344 L440.6 350 L464 369.7 L483.3 384 L489.6 390 L497.3 400 L500.7 406 L504.1 414 L506.6 422 L508.6 432 L509.5 442 L509.5 452 L507.8 470 L501.4 506 L500.4 514 L502 523.6 L505.3 532 L512 555 L516 563.5 L525.6 580 L528 586.5 L538 606.3 L554 631.8 L558 636.7 L564 642.6 L582 651.9 L592 658.6 L598 664.5 L602 670 L608.9 684 L612.6 696 L613.3 702 L612.2 712 L612.7 722 L614.2 732 L616 737.9 L618.3 742 L622 745.9 L634 754.5 L636 756.1 L638 758.9 L638.5 762 L637 772 L636.5 782 L635 784 L630 787.1 L626 791.6 L623.4 798 L620 804 L619.8 806 L621.2 816 L624.2 828 L624.4 834 L625.7 838 L632.2 848 L636.3 852 L644 857.1 L652 860.9 L658 862.6 L668 864.3 L678.2 860 L696 848.3 L708 843.6 L714 842.9 L718 843.1 L760.4 862 L778.5 872 L794.6 882 L86 882Z" fill="#ffef00"/>
<path d="M86 48 L389.7 48 L381.1 60 L373.3 74 L370.8 82 L369 100 L367.6 104 L363.1 112 L360.8 118 L359.8 124 L359.4 140 L359.9 146 L361.2 152 L364.5 160 L369.8 168 L390.7 190 L400.2 202 L406.2 212 L415.6 232 L420 238.9 L434 255.3 L444 265.6 L447.6 272 L448.7 276 L449.3 282 L447.6 312 L446.4 318 L444.3 322 L442 324.3 L438 326.6 L430 329.5 L428 331.3 L427.2 334 L428 336.5 L433.2 344 L439 350 L464 371 L481.4 384 L487.9 390 L495.5 400 L501.3 412 L503.9 420 L506.1 430 L507.1 440 L507.2 450 L505.4 468 L498.8 504 L498.1 510 L500.2 520 L504.9 532 L512 555.6 L516 564.1 L525.4 580 L528 586.9 L538 606.7 L553.8 632 L564 644 L568 646.5 L582 653.2 L590 658.2 L596.5 664 L602 671.4 L608.2 684 L611.9 696 L612.5 702 L611.2 712 L611.5 722 L612.9 732 L614.5 738 L616.4 742 L619.8 746 L625 750 L636 757 L637.9 760 L637.9 762 L634.1 780 L632.8 782 L628 786.2 L626 789.2 L624.5 792 L622.8 798 L619.8 804 L621.1 816 L624.1 828 L624.3 834 L625.6 838 L632 848 L636.1 852 L644 857.2 L652 861 L658 862.8 L668 864.5 L678 860.4 L696 848.8 L708 843.9 L714 843.1 L718 843.4 L732 849.8 L759.9 864 L773.5 872 L788.8 882 L86 882Z" fill="#ffdf00"/>
<path d="M86 48 L388.1 48 L380 59.7 L374 70 L371.2 76 L369.3 84 L368.3 100 L366.8 104 L361.2 114 L359.8 118 L358.9 124 L358.2 142 L358.7 148 L360 154 L363.5 162 L368 168.8 L389.5 192 L398.6 204 L404 212.9 L412.9 232 L418 240.6 L432 259.8 L442 268.2 L446 274.6 L447.4 282 L446.4 298 L446.5 312 L445.6 318 L443.2 322 L440 324.5 L430 328 L427.2 330 L426.1 332 L425.8 334 L427.1 338 L431.6 344 L437.4 350 L464 372.3 L480 384.3 L486.1 390 L493.7 400 L499.4 412 L501.9 420 L503.9 430 L504.7 438 L504.8 448 L503.1 466 L496.3 502 L495.9 506 L500 521.3 L504.5 532 L512 556.2 L516 564.6 L525.2 580 L528 587.4 L538 607.1 L541.4 612 L546 620.6 L557.9 638 L566 646.9 L582 654.5 L592 660.9 L597.2 666 L601.5 672 L608 685.5 L611.2 696 L611.7 702 L610.3 712 L610.3 722 L611.6 732 L613.6 740 L615.8 744 L619.7 748 L625.6 752 L634 756.5 L636 757.9 L637.3 760 L636.6 764 L633 776 L632 778.3 L626.6 784 L623.5 792 L622.3 798 L619.5 804 L620.9 816 L624 828 L624.2 834 L625.4 838 L630.5 846 L633.8 850 L636 852.1 L644 857.4 L652 861.1 L658 862.9 L668 864.6 L676 861.7 L682.5 858 L694 850.3 L708 844.3 L712 843.5 L718 843.7 L732 850.3 L755.9 864 L768.8 872 L783.4 882 L86 882Z" fill="#ffcf00"/>
<path d="M86 48 L386.6 48 L379.6 58 L372.6 70 L369.7 76 L368 84 L368 96 L367.5 100 L366 104.1 L361.1 112 L358.8 118 L358.1 122 L356.9 144 L357.3 150 L358.8 156 L362 163.4 L366.4 170 L386.6 192 L397.1 206 L403 216 L413.3 238 L422.5 252 L428.4 262 L430 263.6 L440 270.5 L444.1 276 L445.4 282 L444.6 296 L445.4 314 L444.7 318 L442.1 322 L440 323.5 L430 326.4 L426 329 L424.4 332 L424.3 334 L425.5 338 L429.9 344 L435.8 350 L448.3 360 L464 373.7 L478 384.2 L484.4 390 L490.7 398 L496.7 410 L499.3 418 L501.4 428 L502.3 436 L502.5 446 L500.8 464 L494.1 498 L494 503.9 L499 518 L499.8 522 L504 532 L512 556.7 L516 565 L525 580 L528 587.8 L538 607.6 L541.2 612 L546 621.1 L557.6 638 L566 648.2 L582 655.7 L588 659.1 L596 665.8 L600.6 672 L607.4 686 L610.4 696 L610.9 702 L609.1 714 L609 722 L610.2 732 L612.5 742 L615 746 L619.5 750 L626 753.9 L634 757.6 L636 758.7 L636.8 760 L636 763.4 L631.6 774 L630 776.6 L624.6 782 L621.8 798 L619.3 804 L620.8 816 L623.9 828 L624.1 834 L625.3 838 L631.7 848 L633.6 850 L636 852.3 L644 857.5 L652 861.3 L658 863.1 L668 864.8 L676 861.9 L694 850.8 L700 848.8 L708 844.7 L712 843.8 L718 844 L732 850.7 L742 856.9 L764.5 872 L778.3 882 L86 882Z" fill="#ffbf00"/>
<path d="M86 48 L385 48 L379.4 56 L371.1 70 L367.5 78 L366.6 84 L367.1 96 L366.8 100 L365.2 104 L359 114 L357.3 120 L355.3 146 L356.8 156 L360 163.9 L364 170.3 L368.7 176 L383.8 192 L396 208.7 L402.4 220 L412 241.1 L424.3 262 L428 266.2 L440 274.4 L442.6 278 L443.3 282 L442.6 292 L442.7 298 L444.4 314 L443.9 318 L442 321 L440 322.4 L428 325.5 L424.4 328 L422.5 332 L422.5 334 L423.8 338 L428.2 344 L434.1 350 L448 360.9 L462 373.5 L476 384.1 L482.7 390 L489 398 L494.1 408 L496.8 416 L499 426 L499.9 434 L500.2 444 L498.9 460 L492 494 L491.9 500 L499.5 522 L503.8 532 L510 552.4 L512 557.2 L516 565.5 L524.8 580 L526 584 L538 608 L541 612 L546 621.5 L549.3 626 L552 630.9 L564 647.2 L568 650.8 L582 657 L590 661.6 L596 667 L599.7 672 L606 684.5 L609.7 696 L610.1 702 L608.1 714 L607.7 724 L611.2 744 L614.1 748 L620 752.5 L626 755.8 L636.3 760 L630 772.4 L624 779.5 L622.8 782 L621.4 798 L619 804 L620.7 816 L623.7 828 L624 834 L625.1 838 L632 848.6 L636 852.4 L642 856.4 L652 861.4 L658 863.2 L668 865 L676 862.1 L696 850.5 L698 850.2 L700 852.2 L700.1 850 L708 845.2 L712.5 844 L718 844.4 L732 851.2 L742.3 858 L750 864.5 L773.5 882 L86 882Z" fill="#ffaf00"/>
<path d="M86 48 L383.3 48 L379.1 54 L368.3 72 L365.9 78 L365.1 84 L366.3 96 L366.1 100 L364.4 104 L358.8 112 L357.1 116 L356.2 120 L355.8 132 L353.7 146 L354 152 L355.3 158 L358.7 166 L362.6 172 L382.7 194 L395.3 212 L400.8 222 L410 243.4 L416.4 254 L422 265.1 L426 269.4 L438 276.6 L440 278.1 L441.1 280 L440.2 294 L443.4 314 L443 318 L441.9 320 L440 321.5 L428 323.7 L423.5 326 L421.7 328 L420.4 332 L420.6 334 L422.1 338 L426.4 344 L432.3 350 L447.9 362 L462 374.9 L476 385.5 L481.1 390 L487.4 398 L492.3 408 L494.8 416 L496.9 426 L497.7 434 L497.9 444 L496 462 L489.9 490 L489.9 496 L492 503.1 L497.4 516 L499.9 524 L503.5 532 L510 553.1 L512 557.7 L516 565.9 L524.6 580 L525.8 584 L537.8 608 L540.7 612 L546 622 L549 626 L552 631.4 L564 648.1 L568 652 L586 660.2 L593.9 666 L597.4 670 L600 674 L606 686.5 L608.5 694 L609.4 700 L609.2 704 L607 714 L606.3 722 L606.6 728 L608.4 738 L608.7 744 L611.1 748 L616 752.4 L624 757.1 L631.9 760 L633.2 762 L629.9 768 L621.7 780 L621 784 L620.9 798 L618.8 804 L620.6 816 L623.5 828 L623.8 834 L625 838 L632 848.8 L636 852.6 L642 856.6 L652 861.6 L658 863.4 L668 865.2 L676 862.4 L694 851.9 L696 851.4 L700 853.3 L702.2 852 L704.5 848 L708 845.7 L714 844.4 L718 844.8 L732 851.6 L738 856.2 L742 858.4 L756 871.5 L769 882 L86 882Z" fill="#ff9f00"/>
<path d="M86 48 L381.6 48 L377.4 54 L372 64 L366.4 72 L364.1 78 L363.5 84 L365.4 96 L365.3 100 L364 103.2 L357.4 112 L355.4 118 L354.8 132 L352.5 142 L351.8 148 L352.3 154 L353.7 160 L356.3 166 L360 172.1 L364.7 178 L379.9 194 L394.9 216 L400.1 226 L408 246.4 L413.2 256 L416.4 264 L418.7 268 L424 273.6 L435.1 280 L436.7 282 L437.3 294 L438.9 302 L442 312.7 L442.2 318 L440 320.5 L426 322.2 L422.2 324 L420 325.9 L418.6 328 L417.9 332 L418.3 334 L420.1 338 L424.7 344 L432 351.3 L446.5 362 L462 376.4 L479.4 390 L485.8 398 L489.7 406 L492.4 414 L494.5 424 L495.4 432 L495.6 442 L494 458 L487.8 486 L487.8 492 L490 499.4 L503.3 532 L510 553.9 L511.9 558 L515.8 566 L524.4 580 L525.6 584 L537.6 608 L540.5 612 L545.8 622 L548.8 626 L552 631.8 L559.6 642 L564 648.9 L568 652.8 L586 661.3 L590 663.8 L594 667.2 L599.1 674 L605.8 688 L607.8 694 L608.7 700 L608.3 704 L605.5 716 L604.9 724 L605 728 L607.1 738 L606.2 744 L606.5 746 L612 752.1 L618 756.6 L626.8 762 L627.7 764 L626.2 768 L621.1 776 L619.8 780 L619.5 784 L620.5 798 L618.5 804 L620.4 816 L623.4 828 L623.7 834 L624.8 838 L632 849 L636 852.8 L642 856.8 L652 861.7 L658 863.6 L668 865.4 L676 862.6 L694 852.7 L696 852.3 L700 854.3 L702 853.9 L704.1 852 L706.3 848 L708.7 846 L714 844.9 L718 845.2 L731.9 852 L738 856.7 L742 859 L752.9 870 L756 874.2 L764.7 882 L86 882Z" fill="#ff8f00"/>
<path d="M86 48 L379.7 48 L375.6 54 L371.8 62 L364.2 72 L362.5 76 L361.7 80 L361.7 84 L364.4 96 L364.6 100 L363.9 102 L357.2 110 L354.5 116 L353.9 120 L353.8 132 L350.8 142 L349.8 148 L350.1 154 L351.4 160 L354.7 168 L358.5 174 L363.5 180 L377.1 194 L394.6 220 L398.4 228 L404 245.3 L411.8 266 L415 272 L420 278.3 L430 285.8 L432 289.2 L436.8 304 L440.8 314 L441.4 318 L440 319.6 L438 320 L428 319.4 L424 320.2 L419.7 322 L417.1 324 L414.6 328 L414.3 330 L415.3 334 L421.1 342 L430 351.2 L446 362.7 L462 377.9 L478 390.3 L482.9 396 L487.2 404 L490 412 L491.8 420 L493 430 L493.3 440 L492 454.6 L489.8 466 L485.8 482 L485.7 488 L488 495.8 L503 532 L509.8 554 L511.7 558 L515.6 566 L524.2 580 L525.4 584 L537.3 608 L540.3 612 L545.5 622 L548.5 626 L551.8 632 L559.3 642 L564 649.6 L568 653.6 L576 658 L586 662.5 L590 664.9 L593.7 668 L598.2 674 L605 688 L607 694 L607.9 700 L607.5 704 L604.3 716 L603.2 726 L605.8 738 L604.6 746 L606 748.7 L610 753.4 L619.5 762 L621 764 L621.4 766 L621.2 768 L618.2 776 L617.7 780 L618.1 786 L620 798 L618.3 804 L620.3 816 L623.2 828 L623.5 834 L624.7 838 L632 849.2 L636 853 L642 857 L652 861.8 L658 863.7 L668 865.5 L676 862.8 L688 855.9 L694 853.5 L696 853.7 L700 855.4 L702 855.2 L704.4 854 L706 852.3 L708.4 848 L710.7 846 L716 845.3 L718 845.6 L731.2 852 L742.5 860 L751.7 870 L756 876.9 L760.6 882 L86 882Z" fill="#ff8000"/>
<path d="M86 48 L377.5 48 L374.6 52 L370.2 62 L362.8 70 L360.1 76 L359.5 80 L359.6 84 L360.4 88 L363.9 98 L363.9 100 L362 103.2 L355.5 110 L353 116 L352.5 122 L353.1 130 L352 134.4 L348.9 142 L347.7 148 L347.8 154 L349.5 162 L351.9 168 L356 174.8 L360.2 180 L372 191.4 L376 196 L393 222 L395.1 226 L397.3 232 L406.2 268 L408.6 274 L412 280.2 L416.4 286 L424 291 L428 294.8 L435.1 308 L440 315.6 L440.6 318 L440 318.7 L432 316.7 L428 316.4 L422 317.3 L416 319.4 L411.6 322 L409.4 324 L406.8 328 L406.9 330 L408.3 332 L414 337 L429 352 L446 363.9 L460 377.8 L476 390.1 L481.3 396 L485.6 404 L488.1 412 L489.7 420 L490.8 430 L491 438 L490.6 446 L489.2 456 L483.5 480 L484 486 L488 497 L502.8 532 L509.6 554 L513.4 562 L521.2 576 L524 580 L525.2 584 L537.1 608 L540.1 612 L545.3 622 L548.3 626 L551.5 632 L558.9 642 L564 650.4 L568 654.3 L578 660 L588 664.7 L592.5 668 L597.3 674 L604.1 688 L606.2 694 L607.2 700 L606.7 704 L603 716 L601.5 728 L603.7 734 L604.5 738 L603.2 746 L604 748.7 L606 752.2 L613.9 762 L615.9 766 L615.9 770 L615 776 L615.4 780 L619.5 798 L619.4 800 L618 804 L618.2 806 L623.1 828 L623.3 834 L624.5 838 L630.8 848 L636 853.2 L644 858.3 L650 861.3 L658 863.9 L666 865.5 L670 865.3 L676 863.1 L688 856.4 L692 854.9 L694 854.4 L700 856.6 L703.6 856 L706.9 854 L712 847.2 L713.7 846 L718 846 L730.5 852 L744 861.9 L752.3 872 L757 882 L86 882ZM394.1 336 L394 338.5 L395 340 L396 340.5 L396.9 340 L398 338 L398 335.1 L396 334.4Z" fill="#ff7000"/>
<path d="M86 48 L374.7 48 L371.3 54 L369.9 60 L368 62.4 L360.8 68 L357.6 74 L356.8 80 L357.4 86 L358.8 90 L362 95.7 L363.2 100 L362 102 L354.9 108 L351.8 114 L351 120 L352.2 130 L351.7 132 L346.6 142 L345.5 146 L345.1 152 L345.8 158 L349.1 168 L353.7 176 L360 183.5 L370 192.4 L373.2 196 L392.5 226 L395.1 234 L400.9 272 L404 283.4 L406 287.8 L410 292.2 L420 298.4 L424 301.6 L426 304.1 L427.6 308 L427.1 310 L423.7 312 L408 314.9 L404 316.7 L398 320.8 L394 324.6 L390.3 330 L390.3 334 L392 338 L394 341.5 L396 342.9 L398 342.6 L404 338.5 L406 337.8 L410 338.1 L414 340.1 L418 343.2 L430 354.5 L444.7 364 L460 379.5 L476 391.7 L479.8 396 L483.1 402 L485.8 410 L487.4 418 L488.5 428 L488.8 436 L487.3 452 L481.5 476 L482 482.3 L486 493.3 L502.6 532 L509.4 554 L515.1 566 L518 570 L521 576 L523.7 580 L526.8 588 L536.9 608 L540 612.3 L545 622 L548 626 L551.2 632 L558.6 642 L564 651 L566 653.3 L578 660.9 L588 665.8 L594 670.7 L597.5 676 L604 689.8 L605.9 696 L606.3 702 L602.1 714 L599.8 728 L602.4 734 L603.4 738 L603.4 740 L602 746 L602.2 748 L604 753 L609.5 762 L611.3 766 L611.9 776 L619 798 L619.1 800 L617.7 804 L622.9 828 L623.1 834 L623.5 836 L626.5 842 L630.6 848 L634 851.6 L644 858.6 L652 862.3 L660 864.5 L668 865.9 L676 863.3 L690 856 L694 855.6 L700 857.8 L704 857.3 L706.9 856 L709.6 854 L714 848 L716 847 L718 847.1 L730 852.1 L743.4 862 L751.6 872 L754.3 878 L755 882 L86 882Z" fill="#ff6000"/>
<path d="M86 48 L370.9 48 L368.6 52 L368.2 54 L368.3 60 L362 62.2 L358.6 64 L356 66.8 L354.5 70 L353.5 78 L353.8 84 L354.7 88 L362 98.4 L362.5 100 L362 100.8 L358 103.1 L354.2 106 L351.1 110 L350.3 112 L349.3 120 L351.2 130 L350 132.7 L344.9 140 L343.2 144 L342.5 148 L342.5 154 L343.5 160 L345.2 166 L350.3 176 L358 185.3 L370.4 196 L381.1 214 L390 226.4 L391.6 230 L392.4 236 L395.7 288 L398.6 302 L396.9 308 L388 321.6 L386.2 326 L386.9 330 L389.5 336 L394 343 L396 344.8 L398 345.2 L404 341.9 L408 340.8 L412 341.4 L416 343.7 L429.8 356 L442 363.2 L445.6 366 L460 381.2 L476 393.4 L480.6 400 L482.9 406 L484.7 414 L486.1 426 L486.4 436 L485.9 444 L484.7 452 L479.4 472 L479.9 478 L484 489.6 L496.6 518 L497.7 522 L502.3 532 L509.1 554 L514.9 566 L523.5 580 L525.7 586 L536.6 608 L540 612.8 L544.7 622 L548 626.5 L550.9 632 L558.2 642 L564 651.7 L568 655.3 L580 663 L588 666.9 L592.2 670 L596.5 676 L604 692.1 L605.5 698 L605.5 702 L600.7 714 L599 728 L602.2 738 L602.4 740 L600.7 746 L600.8 748 L602 753.2 L607.2 764 L612.1 782 L618.6 798 L618.8 800 L617.4 804 L617.8 806 L621.4 824 L622.7 828 L623.3 836 L626.4 842 L630.4 848 L634 851.8 L644 858.8 L652 862.5 L658 864.3 L668 866.1 L676 863.5 L690 856.7 L692 856.4 L700 859.1 L704 858.8 L710.1 856 L712.5 854 L716 849.8 L718 848.3 L724 849.7 L732 853.9 L742.8 862 L751 872 L753.5 878 L753.7 882 L86 882Z" fill="#ff5000"/>
<path d="M86 48 L348.3 48 L344 50.6 L342.1 54 L342.1 56 L344 60.5 L346.4 64 L347.9 68 L351 90 L358.5 98 L358.5 100 L356 101.3 L352 104.6 L348 110 L347.3 120 L348.5 126 L350.2 130 L342.9 138 L340.4 142 L339.5 148 L339.8 156 L340.9 162 L342.8 168 L348 178 L352 183.3 L356.5 188 L369.2 198 L377.3 214 L389.1 230 L388.9 258 L389.7 268 L387.9 288 L388.6 300 L387.6 306 L382.7 320 L382.7 322 L384 327.5 L388.4 336 L394 344.4 L396 346.5 L398 347.6 L400 347.1 L404 344.5 L408 343.1 L412 343.5 L416 345.6 L428 356.4 L444.2 366 L458 381.3 L474 393.1 L476.7 396 L479.1 400 L481.3 406 L482.8 414 L483.9 426 L484.1 436 L482.5 450 L477.5 468 L477 472 L482 486 L496.4 518 L497.4 522 L502.1 532 L508.9 554 L514.7 566 L523.2 580 L525.4 586 L536.4 608 L540 613.2 L544.5 622 L548 627 L550.6 632 L558 642.2 L563.7 652 L566 654.4 L571.9 658 L580 663.9 L588 667.9 L592 670.9 L595.6 676 L603.8 694 L604.9 700 L604.7 702 L599.8 712 L598.2 720 L598.5 730 L601.4 740 L599.3 746 L599.4 748 L600.1 752 L605.4 764 L611.9 784 L618.1 798 L618.5 800 L617.1 804 L621.2 824 L622.6 828 L623.1 836 L624.9 840 L632 850 L636 853.8 L644 859 L652 862.8 L658 864.7 L668 866.5 L676 863.8 L688 857.8 L690 857.4 L692 857.6 L696 859.4 L700 860.4 L704 860.3 L708 859.2 L712 857.2 L719.9 850 L722 849.9 L724 850.5 L731.3 854 L742.2 862 L750.4 872 L752.8 878 L752.8 882 L86 882Z" fill="#ff4000"/>
<path d="M86 48 L339.6 48 L338.6 52 L339.4 60 L341.2 66 L344.4 72 L346.8 88 L350.6 98 L350.2 100 L346 107.1 L345 110 L344.8 118 L346.4 128 L346.2 130 L337.2 140 L336.5 148 L337 158 L340.3 170 L345.5 180 L350 185.9 L354 190.1 L366.2 200 L374 215.5 L384.1 230 L384.9 232 L384.9 240 L386.7 252 L386.6 260 L387.6 268 L387.3 272 L385.4 278 L384.4 284 L380.8 290 L379.5 294 L379.3 310 L380.2 322 L383.6 330 L387.3 336 L394 345.8 L398 349.8 L400 350 L404 346.8 L408 345.1 L410 345 L414 346.2 L418 349.1 L428 358.3 L440 364.3 L444 367.1 L456 381.5 L461.2 386 L473.2 394 L475.2 396 L477.7 400 L479.6 406 L480.5 412 L481.6 426 L481.7 436 L480 449.1 L475.2 466 L475.6 472 L485.9 496 L496.1 518 L497.1 522 L501.8 532 L508.7 554 L514.4 566 L523 580 L525.1 586 L535.1 606 L540 613.7 L544.2 622 L550.4 632 L558 642.8 L563.2 652 L566 655 L571.1 658 L580 664.9 L588 669.1 L592 672 L594.6 676 L602.9 694 L604.1 700 L603.8 702 L598.8 710 L596.8 718 L596.6 722 L597.6 732 L600.4 740 L598.2 744 L598.2 748 L599.7 754 L604.3 764 L611.2 784 L618 799.1 L618.2 800 L617 802 L616.8 804 L618.4 810 L619.2 816 L620.5 820 L621 824 L622.4 828 L622.8 836 L624.6 840 L632 850.4 L636 854 L644 859.3 L652 863.1 L658 865 L662 865.4 L666 866.6 L670 866.3 L688 858.5 L690 858.4 L696 861 L702 862.3 L708 861.3 L714.9 858 L721.3 852 L724 851.6 L726 852.1 L730.4 854 L742 862.5 L750 872.6 L752.1 878 L752 882 L86 882Z" fill="#ff3000"/>
<path d="M86 48 L323.5 48 L322.7 56 L322.8 62 L328.9 86 L329.9 94 L330.2 108 L331.1 114 L334 120.7 L336 120.5 L338 118 L340 116.7 L341 118 L342 123 L341.8 128 L336 136.4 L334.4 140 L333.7 156 L335.4 164 L339.8 176 L344 182.9 L350.2 190 L360.7 200 L365 206 L378.7 228 L382.1 236 L382.8 242 L384.8 250 L385 260 L386.1 266 L385.2 272 L382 277.6 L380 278.9 L372 282.2 L370 284 L369.2 286 L368.9 294 L371.5 312 L372.6 314 L376 317.6 L378.7 324 L383.4 332 L393.1 346 L398 351.7 L400 352.7 L405.5 348 L408 346.9 L410 346.6 L414 347.9 L427.6 360 L442 366.6 L445.4 370 L452 379.2 L456 383.8 L461.2 388 L472 394.6 L474 396.5 L476.2 400 L477.5 404 L478.3 410 L479.2 436 L477.5 448 L473.3 462 L473.5 468 L475.5 474 L494 514.1 L496.8 522 L501.4 532 L509.3 556 L514.2 566 L522.7 580 L524.9 586 L534.8 606 L540 614.2 L545.1 624 L551.3 634 L558 643.5 L562.7 652 L566 655.5 L572 659.3 L580 665.9 L588 670.2 L592 673.3 L601.9 694 L603.1 700 L602.7 702 L597 710 L595.1 718 L595 722 L596.6 728 L596.4 734 L598 740 L596.3 744 L596.4 746 L598.8 754 L603.5 764 L607.3 774 L610.5 784 L617.7 800 L616.7 802 L616.8 806 L618.2 810 L620.7 824 L622.2 828 L622.6 836 L624.4 840 L631.2 850 L636 854.4 L642 858.3 L652 863.4 L655.1 864 L658 865.3 L663.9 866 L666 867 L670 866.7 L685.7 860 L688 859.5 L690 859.9 L696 862.9 L700 864 L706 864.1 L712 862.4 L716 860.4 L724 853.5 L728.7 854 L740 861.6 L742.6 864 L748.9 872 L749.9 874 L751.3 878 L751.1 882 L86 882Z" fill="#ff2000"/>
<path d="M86 48 L306.6 48 L309.3 72 L317.4 104 L320.9 132 L323.4 142 L325.5 146 L330 152.7 L331.2 160 L338.2 178 L343.7 186 L359.1 202 L376.4 228 L380.1 236 L380.9 242 L383.5 252 L383.1 266 L381.8 268 L370 274.6 L365.4 278 L362.3 282 L360.3 288 L360.1 292 L360.5 296 L362.3 302 L365.7 318 L367.9 322 L370 324.3 L378 329.4 L384 335.2 L388 340.1 L394.8 350 L398 353.6 L400 354.6 L402 353.8 L405.6 350 L408 348.5 L410 348.2 L414 349.6 L422 357.8 L426 361.2 L430 363.3 L438 365.8 L442 367.8 L444 370 L452 381.9 L455.7 386 L460 389.4 L471.8 396 L474.7 400 L476.2 408 L476.6 436 L475.3 446 L470.9 460 L471.8 466 L474 472.4 L477.1 478 L495.4 518 L496.5 522 L501.9 534 L509 556 L515.1 568 L522.4 580 L524.6 586 L535.5 608 L540 614.9 L543.5 622 L546.4 626 L550.8 634 L558 644.2 L562.3 652 L566 656.1 L572.2 660 L580 667 L590 672.6 L591.5 674 L595.5 684 L600.8 694 L601.9 700 L601.1 702 L595.2 710 L593.3 718 L593.1 722 L594.9 728 L594.2 744 L598 754 L602.8 764 L604 768 L606.7 774 L609.8 784 L614.6 794 L616.8 800 L616.2 804 L618 810 L618.7 816 L620 819.2 L620.5 824 L622.1 828 L622.4 836 L625.1 842 L628 845.7 L629.1 848 L632 851.2 L636 854.8 L638.4 856 L642 858.8 L650 863 L658 865.6 L662.6 866 L666 867.3 L670 867.2 L672.1 866 L676 865 L682 861.9 L686 861 L688 861 L694 864.5 L700 866.8 L706 867 L714 864.6 L718 862.6 L724.9 856 L728 855.4 L730 855.8 L740 862.6 L748.1 872 L750.4 878 L750.2 882 L86 882Z" fill="#ff1000"/>
<path d="M86 48 L286.2 48 L289.3 66 L292.4 78 L295.4 86 L304 103.1 L305.8 108 L306.4 114 L306.1 128 L307.1 136 L309.4 144 L315.5 158 L320 166 L324 170.9 L336 181.8 L356 202.7 L374 229.8 L377.3 238 L379.6 252 L378.9 256 L377.2 260 L374 263.4 L364 268.2 L358.3 272 L354 276.6 L351.2 282 L350.3 288 L350.9 294 L352.7 300 L356.5 306 L357.6 310 L357.6 314 L355 322 L355.2 324 L359.2 330 L366 335.6 L374 339.3 L386 342.4 L388 343.8 L396 353.6 L400 356.8 L402 356.6 L408 350.2 L410 349.6 L411.7 350 L414.4 352 L422 360.8 L426 363.7 L430 365.4 L440.5 368 L442.7 370 L448 379.3 L454 387.4 L460 391.9 L470 396.3 L472.1 398 L473.3 400 L474.2 406 L473.5 420 L473.9 438 L472.5 446 L468.3 458 L474 473.9 L476.6 478 L494 515.5 L497 524 L500 530 L508.7 556 L513.6 566 L522.2 580 L525.2 588 L535.1 608 L538.1 612 L543.1 622 L546 626 L549.1 632 L556.1 642 L561.6 652 L566 656.9 L571.1 660 L580 668.3 L590.3 674 L591.4 676 L593.9 684 L597.8 690 L599.6 694 L600.1 696 L599.9 700 L595.4 706 L593.2 710 L590.6 720 L590.4 724 L591.6 734 L591.5 742 L595.9 750 L597.1 754 L602 764 L603.2 768 L606.1 774 L609.2 784 L614 794 L615.8 800 L615.7 804 L618 811.1 L618.4 816 L619.9 820 L620.2 824 L621.6 828 L622.2 836 L624.7 842 L628 846.3 L628.7 848 L632 851.7 L636 855.3 L637.8 856 L642 859.3 L650 863.5 L656 865.5 L666 867.7 L670 867.6 L684 862.1 L686 862.3 L694 868 L698 870.1 L702 871.2 L706 871.2 L712 868.7 L718 867.1 L721.6 864 L724 859.6 L726 858.5 L730 858.7 L739.4 864 L746.2 872 L748 875 L748.7 878 L748.6 882 L86 882Z" fill="#ff0000"/>
<path d="M86 48 L248.9 48 L250.8 60 L255.4 72 L260.9 82 L275.1 104 L279.3 112 L281.2 118 L283.6 134 L287.1 144 L292.2 152 L300.2 160 L300.4 166 L301.5 172 L303.3 178 L306 184.1 L328 223.3 L334 230.9 L346.9 244 L350.6 250 L351.3 254 L350.3 260 L344 262.5 L340 265.4 L338 267.6 L334.7 274 L333.8 280 L334.9 288 L337.5 294 L342.2 300 L350 306.1 L351.6 308 L352.4 310 L352 312 L350.6 314 L344.7 320 L343.2 324 L343.6 330 L346 335.2 L348.1 338 L352.2 342 L362 348.1 L368 350.6 L374 352.1 L392 354.6 L400 359.9 L402 360.1 L404 358.7 L408.1 352 L410 350.9 L412.1 352 L420 362.6 L424 365.9 L430 367.8 L440 368.8 L441.4 370 L445 378 L449.7 386 L452.8 390 L456 392.7 L460 394.8 L470 397.9 L471.9 400 L472.3 404 L470.3 420 L471.1 434 L471 440 L469.4 446 L465.9 454 L465.6 456 L466.1 458 L494 516.2 L496.7 524 L500.5 532 L507.5 554 L509.3 558 L513.2 566 L516.1 570 L519 576 L522 580.3 L523 584 L528.7 596 L534.7 608 L538 612.7 L542.6 622 L546 626.9 L548.6 632 L556 642.9 L562.1 654 L566 657.7 L570 660 L572.3 662 L580 669.9 L582 671.4 L588 674.1 L590.2 676 L590.9 682 L592.2 686 L596 690.5 L598 695.7 L597.8 698 L596 701.3 L590.3 708 L588.1 712 L583.6 718 L581.8 724 L582 727.8 L587.3 736 L589.1 742 L590.2 744 L594.6 750 L601.9 766 L606 775.8 L608.5 784 L613.9 796 L614.9 800 L615.1 804 L617.8 812 L618.1 816 L620.9 828 L621.7 836 L624.3 842 L629.8 850 L634 854.1 L644 861.1 L652 865.2 L655.8 866 L658 867.1 L668 868.6 L681.4 864 L683.1 864 L694 874.8 L700 878.3 L704 879.5 L710 879.9 L716 879 L726 876.1 L728 876.4 L729.7 878 L730.5 882 L86 882Z" fill="#ef0000"/>
<path d="M86 48 L174.4 48 L173.5 76 L173.8 94 L175.2 104 L178.8 114 L184 122 L190 128 L196 132.4 L210 141.3 L218 147.8 L223.6 154 L236.3 170 L242 175.6 L262 192.8 L268.6 200 L274.5 208 L280 218 L283.6 228 L285.6 238 L288.2 262 L297.5 290 L299.7 300 L300.6 310 L307.2 316 L312.6 322 L323.1 338 L327.6 344 L333.5 350 L340 354.9 L350 359.8 L358 365.1 L362 366.8 L368 368.5 L376 369.1 L392 367.7 L400 368.2 L402 367.2 L410 358.5 L412 358.7 L414 360.3 L417.2 366 L420.7 370 L428 371.1 L440 369.9 L442.2 378 L448 389.9 L451.3 394 L454 396.2 L458 398.1 L470 399.4 L470.5 400 L470 403.4 L466.6 414 L466 418 L466.1 422 L468.2 436 L468.2 440 L466.9 444 L462.9 452 L462.8 454 L463.4 456 L468.5 464 L472.7 474 L476 479.1 L494 517.1 L495.4 522 L500.2 532 L507.1 554 L508.8 558 L512.8 566 L516 570.6 L518.6 576 L522 581.2 L523.5 586 L535.3 610 L538 613.6 L543 624 L546 627.9 L548.8 634 L556 644.6 L560.5 654 L564 657.7 L570.2 662 L574.2 666 L577.6 672 L578 674 L576.8 678 L570.2 690 L567.9 696 L567.5 700 L569 712 L568.4 722 L569 726 L570.9 730 L574.3 734 L584 741.3 L592 749.6 L594 752.2 L594.5 754 L600 763.7 L604.5 774 L608.5 786 L612.3 794 L614 799.9 L614.8 806 L616 808.5 L618.9 824 L620 826.4 L620.6 836 L621.4 838 L623.2 842 L628.3 850 L634 855.6 L638.2 858 L642 861.4 L643.5 862 L645.2 864 L645.1 866 L643.6 870 L643.3 874 L644.4 878 L647.4 882 L86 882ZM583.3 676 L586 676 L587.5 678 L587.2 680 L586 681 L582.9 678ZM674 869.8 L676.6 870 L678 872.8 L678.9 878 L678.5 882 L663.7 882 L667.6 874 L669.1 872Z" fill="#df0000"/>
<path d="M86 48 L128.1 48 L126.6 88 L127.8 112 L129.3 122 L131.4 130 L134.7 138 L139.3 146 L144 152.5 L150 159.5 L162 169.2 L172 175.1 L200 188.3 L210 194.6 L218 200.8 L229.9 212 L242 224.8 L250 234.6 L256 243.7 L260 251.8 L262.2 258 L273.7 302 L279.4 320 L285.8 334 L300 359.6 L318.2 372 L330.4 382 L339.4 392 L345 402 L348 412 L349.9 426 L350 438 L348.5 464 L350 482 L352.2 492 L355.7 502 L358.9 508 L363.7 514 L370 518.4 L376 520 L382 519.1 L386.8 516 L391 510 L396.9 494 L399.9 488 L403.8 482 L412 471.3 L416 464 L416.8 460 L416.8 456 L411.6 436 L410.8 430 L410.7 424 L411.5 416 L413.3 408 L415 404 L419.5 398 L418.4 392 L409.4 380 L407.7 374 L408 373.1 L410 372.5 L412 373.2 L418 376.8 L425.7 380 L427.1 382 L426 384.5 L425.4 388 L425.8 390 L426.8 392 L430 394 L432 394.3 L438 393 L440 393.5 L444 397.3 L447.4 402 L448.8 406 L448.9 410 L450 411.1 L456 411.4 L458 414 L459.4 420 L463.1 430 L465 440 L460 449.3 L459.7 452 L460.4 454 L467.4 464 L471 472 L476 480.4 L494 518.1 L494.9 522 L500 532.6 L507.5 556 L513.4 568 L516 571.5 L519.1 578 L521.9 582 L522.8 586 L526.6 594 L534.5 610 L538 615.2 L540.9 622 L546 631 L549.8 640 L548.1 652 L548.9 668 L547.6 674 L545.8 678 L542 684 L526 701.5 L523.1 708 L522.7 714 L525.6 734 L525.2 740 L522.4 754 L522.4 758 L523.2 762 L525.9 766 L528 767.6 L532 768.9 L536 768.5 L540 766.4 L542 764.5 L550 752.2 L554 748.3 L560 745.6 L564 744.9 L570 744.8 L578 745.8 L582 747.5 L589.4 756 L598 764.3 L604 775.5 L607.2 786 L610 792 L612 799 L613.2 806 L616 813.2 L616.4 826 L614.3 840 L613.9 850 L617.4 870 L618.2 882 L86 882ZM434 377.8 L435.8 380 L434 381.7 L430.6 380Z" fill="#cf0000"/>
<path d="M86 185.1 L100 188.3 L106 191 L110.6 194 L115.1 198 L118.7 202 L132 220.1 L136.2 224 L142 227.6 L148 229.9 L156 231.6 L184 232.6 L194 234.3 L200 236.4 L206 239.5 L212 243.7 L216.8 248 L223.7 256 L228.8 264 L232.5 272 L240.8 294 L245 302 L250.1 310 L250.9 318 L253.3 328 L257 338 L262.3 348 L269 358 L278.9 370 L286 377.5 L301.8 392 L307.5 398 L311.7 404 L315 412 L316.6 420 L317.2 432 L316.8 450 L315.5 462 L313.3 470 L310 476.9 L304 484.9 L300 487.9 L298 488.8 L294 488.7 L288 485.1 L282 478.7 L271.9 464 L267.2 458 L260 452.4 L256 450.6 L252 449.6 L248 449.3 L241.9 450 L216 457.4 L200 460.2 L191 466 L186 470.3 L181.2 476 L177.1 484 L175.1 494 L175.5 502 L177.8 510 L182.4 518 L188 524.6 L196 530.9 L206 536 L212 537.8 L218 538.8 L224 539.1 L232 538.7 L250 535.7 L262 532.5 L272 528.1 L281.5 522 L296 510.8 L300 509.5 L309.2 518 L319.6 526 L330 532.6 L341 538 L358 544.1 L368 546.8 L376 547.3 L384 545.5 L390 542.4 L394 539.4 L398 535.5 L402 530.2 L406.4 522 L413.6 504 L426 481.9 L429 474 L430.5 468 L433.2 442 L434.5 436 L436 432.1 L438 429 L443.6 424 L443.6 422 L441.3 416 L441.9 414 L450 420.7 L454 425.5 L456.6 430 L458.3 436 L458.6 440 L457.2 448 L457.1 452 L459.4 456 L466.2 464 L470.9 474 L476 482.1 L492 515.4 L494 519.8 L495 524 L500 534.3 L506.7 556 L512.6 568 L516 572.9 L518.3 578 L520 580.2 L522.7 588 L532 607.8 L534.2 614 L534 616.9 L529.1 632 L523.1 656 L520.6 662 L511.2 680 L508.3 690 L507.7 696 L507.5 712 L503.8 728 L503.1 736 L503.9 744 L507.3 758 L509.5 770 L512 777 L516 783.6 L520 788.3 L533.6 802 L546.4 822 L552 827.6 L566.3 838 L572 844.9 L575.2 852 L577.2 860 L578.3 870 L578.6 882 L86 882ZM576 769.2 L578 768.8 L582 769 L594 772.4 L600 775.9 L602 778.9 L602.8 782 L603 786 L602.3 790 L600.6 794 L596 799.4 L590 802.9 L584 804 L580 803 L578 801.9 L572.1 796 L568.8 790 L567.7 784 L568.7 778 L572 772Z" fill="#bf0000"/>
<path d="M86 284.3 L96 285.6 L104 287.8 L110 290.7 L114 293.7 L117.9 298 L120.3 302 L122.6 308 L124.1 314 L125.5 326 L125.6 338 L123.5 372 L120.6 400 L120.4 416 L124.1 450 L124.5 482 L125.6 496 L127 504 L129.2 512 L131.7 518 L135.4 524 L142.6 532 L162 548.2 L167.1 554 L178 568.4 L184 574.7 L192 580.9 L212.4 594 L220 600.4 L234 614 L239.5 618 L244 620.3 L248 621.7 L254 622.8 L278 624.3 L298 627.3 L322 629.9 L350 634.2 L398 636.3 L408 638.4 L412 640.1 L416 642.9 L418.7 646 L420.9 650 L423.2 658 L424.6 672 L425.2 700 L426 712 L428.4 724 L432.1 734 L439.1 746 L450 760 L460 764.8 L466 768.5 L472 773.3 L476 777.7 L480 783.2 L486 793.1 L491.6 804 L494.9 812 L497.7 822 L499.6 834 L500.4 848 L500 860 L501.5 872 L502 882 L86 882ZM200 360 L212 361.5 L224 366.4 L244 378.9 L258 389.6 L265.2 398 L267.4 402 L268.8 406 L269 412 L267.4 416 L266 418 L260.6 422 L252 424.7 L244 425.4 L226 425.6 L208 426.9 L200 426.5 L194 425.2 L190 423.5 L184.9 420 L180.1 414 L177.4 406 L176.9 398 L178.4 390 L182 381.1 L188 371.7 L196 363.1ZM460 469.6 L462 468.5 L464 468.2 L466 469.8 L474 481.5 L476 485.3 L492 517.9 L494.6 526 L498 532.3 L502.7 548 L504 550.6 L504.7 554 L511.1 568 L514 572.6 L515.5 578 L515.5 580 L513.1 588 L512 594 L511.9 610 L511 614 L509.3 618 L506 622.9 L500 628.4 L494 631.7 L488 633.4 L482 633.6 L474 631.8 L466 628 L458 622 L453.1 616 L450 610 L442.7 604 L436 595.2 L430.4 584 L427 572 L426.3 564 L427.1 554 L433 526 L435.6 516 L438.7 508 L452 479.7 L456 473.4Z" fill="#af0000"/>
<path d="M86 635.2 L180 633.4 L194 634.7 L202 636.5 L226 643.4 L254 647.8 L282 656.8 L290 658.7 L300 660.2 L310.9 672 L317.7 682 L322 691.8 L328.2 712 L331.1 718 L333.8 722 L337.4 726 L342 729.7 L358 738.8 L364 743.2 L368.6 748 L373.9 756 L383 774 L394 794 L405.4 822 L416.5 840 L420.5 848 L422.6 854 L424.4 862 L426.3 882 L86 882Z" fill="#9f0000"/>
</g>
<g clip-path="url(#fr)">
<path d="M360 49 L360 57 L359 67 L356 79 L353.6 95 L350 111 L344 125 L339 139 L333 151 L329.5 157 L327.5 162 L329 168 L334 178.5 L342 190 L353.5 201 L362.6 213.8 L370.5 225 L376 235.4 L378.5 246 L386 247 L396 245 L404 243 L420 243 L426 236 L424 226 L423 216 L427 208 L428 200 L434 194 L444 188 L440 182 L438 166 L443 158 L432 158 L422 150 L418 144 L407 141 L399 135 L390 133 L384 128 L386 121 L396 115 L398 105 L404 98 L403 93 L398 81 L405 82 L410 84 L410.6 95 L415 97.4 L415 90 L421 89.4 L423 96 L432 100 L435 108 L448 107 L453 113 L460 115 L464 124 L469 128 L469 136 L466 144 L464 152 L469 156 L464 164 L460 168 L460 172 L468 178 L480 182 L488 185 L494 184 L496 176 L488 166 L488 158 L490 150 L486.4 140 L488 136 L496 131 L500 128 L504 142 L520 146 L524 154 L526 170 L530 172 L529 186 L520 190 L516 200 L509 210 L496 220 L490 226 L488 234 L476 242 L468 254 L462 264 L454 274 L452 284 L448 294 L440 297 L428 298 L434 306 L436 314 L449 309 L450 320 L436 328 L444 336 L460 337 L472 335 L480 328 L489 327 L493 331 L489 335 L481 334 L473 341 L460 343 L444 342 L430 336 L420 330 L406 330 L400 346 L412 346 L419 348 L419 356 L413 358 L399 353 L398 359 L398.7 359.6 L412.3 365.1 L421.9 371.3 L430 376 L439.7 380.1 L449.2 384.2 L453.3 395.2 L456 404.7 L460 413 L460.9 423.9 L465.6 426.6 L465.6 437.5 L461.5 440.3 L457 444 L451.5 450.6 L463.2 461.7 L471.8 475.1 L477.9 491.1 L485.2 508.2 L493.8 524.2 L500.3 540 L507 560 L517.6 578.5 L526.9 598.4 L537.5 615.7 L549.4 635.6 L558.7 648.9 L565 658 L571 658.5 L577 663.4 L584.4 667 L588 672 L594.2 676.9 L599 681.8 L603 689 L609 697 L616 698 L621.2 687 L629.8 672 L632.2 675.6 L628.5 686.7 L631 694 L637.1 690.3 L635.9 685.4 L633 672 L632 656 L628 640 L622 622 L616 612 L606 604 L600 596 L597 588 L592 584 L588 588 L583 578 L586 577 L590 581 L594 581 L601 586 L604 596 L611 603 L620 602 L622 596 L624 604 L627 610 L632 617 L638 622 L642 620 L645 612 L650 606 L653 599 L655 605 L660 606 L670 606 L676 608 L680 602 L690 599 L698 598 L702 604 L696 610 L684 612 L678 618 L672 623 L664 624 L661 632 L665 640 L676 645 L676 688 L675 710 L668 722 L668 726 L666.3 726 L665 742.3 L670.3 755.5 L675.6 763.5 L681 775.5 L682.3 784.8 L677 794 L681 804.7 L686.2 815.3 L690 818 L700 814.6 L707 810 L712.4 810.5 L723.3 809 L728.8 801 L734 790 L735 782 L739 770 L746 758 L756 750 L770 739 L780 735 L787 734 L788 738 L778 744 L766 752 L754 764 L750 776 L748 790 L739.7 799.6 L734.3 810.5 L726 816 L716.5 821.4 L709.7 826.9 L700 824.2 L698 830 L700 837.8 L709.7 841.3 L716.5 847.4 L717.9 851.5 L731.5 863.8 L742.5 874.7 L749.5 881" fill="none" stroke="#000" stroke-width="1"/>
<path d="M365 190 L369.4 192 L370.5 200 L372.8 208 L370.5 207 L362.6 201 L360.3 195.6Z" fill="none" stroke="#000" stroke-width="1"/>
<path d="M379.7 220.6 L386.5 226.3 L398 226.3 L396.8 231 L392.2 235 L386.5 237.7 L382 241 L378.5 232 L377.4 225Z" fill="none" stroke="#000" stroke-width="1"/>
<path d="M338.7 177 L342 178 L351 190 L349 191Z" fill="none" stroke="#000" stroke-width="1"/>
<path d="M457.4 426.6 L460.7 423.7 L464.4 426 L464.4 436 L460.7 438.4 L458.3 432.3Z" fill="none" stroke="#000" stroke-width="1"/>
<path d="M334 178.5 L342 190 L353.4 201.3 L362.6 213 L370 225.2 L375.5 236.2 L378.5 248.2 L383 246 L381.9 243.6 L378.2 234.4 L376.4 227 L379.2 221.5 L377.3 214.2 L373.6 208 L370 206.8 L365.4 200.4 L360.8 197.6 L358 193.5 L352 188 L347.9 182.9 L339.6 176.4Z" fill="#cccccc" stroke="#000" stroke-width="1"/>
<path d="M499 129 L504 122 L508 142 L503 142Z" fill="#cccccc" stroke="#000" stroke-width="1"/>
<path d="M424 316 L428 318 L434 311.5 L435 317 L430 322 L435 325 L436 329.5 L428 331 L423.6 329 L426 322Z" fill="#cccccc" stroke="#000" stroke-width="1"/>
<path d="M375.2 324.4 L379 323 L384 327 L389 331 L397.3 354.2 L402.8 367.8 L398.7 368.5 L393.2 354.2 L385 332.3 L380 328Z" fill="#cccccc" stroke="#000" stroke-width="1"/>
<path d="M397.5 371 L405.8 381.1 L415 391.3 L424.2 403.2 L433.4 415.2 L443.5 426.2 L447.2 422.5 L439.8 415.2 L433.4 407.8 L430.6 400.5 L423.3 394 L416.8 387.6 L415 379.3 L410.4 373.8 L401.2 367.4Z" fill="#cccccc" stroke="#000" stroke-width="1"/>
<path d="M444.4 423.4 L450.9 423.4 L456.4 426.2 L458.2 433.6 L456.4 439 L454.5 441 L450.9 435.4 L447.2 431.7 L443.5 426.2Z" fill="#cccccc" stroke="#000" stroke-width="1"/>
<path d="M451.5 450.6 L454.6 444.5 L458 443 L464.4 453 L466 460 L463.2 461.7Z" fill="#cccccc" stroke="#000" stroke-width="1"/>
<path d="M573.4 667 L577 665.8 L583.2 676.9 L588 689 L591.8 703.8 L590.5 713.6 L589.3 725.9 L587.5 724.7 L586.9 706.3 L584.4 689.1 L579.5 676.9Z" fill="#cccccc" stroke="#000" stroke-width="1"/>
<path d="M592 730.3 L594.5 731 L597.3 745 L597.3 759.5 L602.6 768.8 L606.6 778.1 L604 779 L599.5 769.5 L594.5 760.5 L591 750 L590.6 738Z" fill="#cccccc" stroke="#000" stroke-width="1"/>
<path d="M606.6 780.8 L609 781 L614 794 L618 804.7 L620.6 815.3 L623.3 825.9 L626 834 L623.8 835.2 L621.2 825.9 L618.5 815.3 L615.9 804.7 L611.9 794Z" fill="#cccccc" stroke="#000" stroke-width="1"/>
<path d="M623.8 835.2 L626 834 L633 837.9 L639.8 843.2 L649 844.5 L654.4 849.8 L662.3 852.5 L667.6 849.8 L675.5 846 L679.6 838 L686.4 850 L696 855.2 L689.2 858.3 L679.6 865.2 L668.7 870.6 L661.8 869.3 L655 868 L644 862 L633 853.5 L627 845Z" fill="#cccccc" stroke="#000" stroke-width="1"/>
<path d="M623.8 739.6 L622.5 733 L633 731 L646.4 734.3 L653 742.3 L657 751.6 L654.4 756.9 L659.7 763.5 L670.3 767.5 L673 775.5 L673 786.1 L666.3 794.1 L667.6 802 L673 815.3 L678.3 831.2 L673 835.2 L662.3 835.2 L659.7 830 L655.7 820.6 L651.7 810 L649 798 L646.4 786.1 L643.7 775.5 L639.8 762.2 L633 751.6Z" fill="#cccccc" stroke="#000" stroke-width="1"/>
<path d="M337.6 57 L338.2 65.4 L341.5 69.5 L342.5 75 L341.3 83.7 L340.7 92.3 L339.4 99.6 L338.2 111.9 L340 115" fill="none" stroke="#000" stroke-width="4" stroke-linejoin="round"/>
<path d="M337.6 57 L338.2 65.4 L341.5 69.5 L342.5 75 L341.3 83.7 L340.7 92.3 L339.4 99.6 L338.2 111.9 L340 115" fill="none" stroke="#cccccc" stroke-width="2" stroke-linejoin="round"/>
<path d="M338.8 117 L333.9 125.4 L332 135.2 L329.6 145 L327.8 157" fill="none" stroke="#000" stroke-width="4" stroke-linejoin="round"/>
<path d="M338.8 117 L333.9 125.4 L332 135.2 L329.6 145 L327.8 157" fill="none" stroke="#cccccc" stroke-width="2" stroke-linejoin="round"/>
<path d="M340.7 115.6 L347.4 113.7" fill="none" stroke="#000" stroke-width="3" stroke-linejoin="round"/>
<path d="M340.7 115.6 L347.4 113.7" fill="none" stroke="#cccccc" stroke-width="1" stroke-linejoin="round"/>
<path d="M336.8 99 L337.6 108" fill="none" stroke="#fff" stroke-width="2" stroke-linejoin="round"/>
<path d="M341 117 L344 125.4 L340 135 L334 145 L330 153" fill="none" stroke="#000" stroke-width="3" stroke-linejoin="round"/>
<path d="M341 117 L344 125.4 L340 135 L334 145 L330 153" fill="none" stroke="#cccccc" stroke-width="1" stroke-linejoin="round"/>
<path d="M361.4 153.4 L360.3 161.4 L358.6 167 L359.2 176.2 L363.7 178.5 L366 184 L367.7 187.6 L370.6 177.3" fill="none" stroke="#000" stroke-width="3" stroke-linejoin="round"/>
<path d="M361.4 154.4 L360.3 161.4 L358.6 167 L359.2 175.5" fill="none" stroke="#fff" stroke-width="1" stroke-linejoin="round"/>
<path d="M329 160 L331 169 L335.5 178" fill="none" stroke="#000" stroke-width="3" stroke-linejoin="round"/>
<path d="M329 160 L331 169 L335.5 178" fill="none" stroke="#cccccc" stroke-width="1" stroke-linejoin="round"/>
<path d="M382 250 L383.5 258 L385 266" fill="none" stroke="#000" stroke-width="4" stroke-linejoin="round"/>
<path d="M382 250 L383.5 258 L385 266" fill="none" stroke="#cccccc" stroke-width="2" stroke-linejoin="round"/>
<path d="M380 276 L381 284" fill="none" stroke="#cccccc" stroke-width="2" stroke-linejoin="round"/>
<path d="M368 292.5 L368.6 304" fill="none" stroke="#000" stroke-width="3" stroke-linejoin="round"/>
<path d="M368 292.5 L368.6 304" fill="none" stroke="#cccccc" stroke-width="1" stroke-linejoin="round"/>
<path d="M405 243 L405 262 L407.5 271.5" fill="none" stroke="#000" stroke-width="3" stroke-linejoin="round"/>
<path d="M405 243 L405 262 L407.5 271.5" fill="none" stroke="#cccccc" stroke-width="1" stroke-linejoin="round"/>
<path d="M397 261.5 L400.5 261.5" fill="none" stroke="#000" stroke-width="2.5" stroke-linejoin="round"/>
<path d="M397 261.5 L400.5 261.5" fill="none" stroke="#cccccc" stroke-width="0.5" stroke-linejoin="round"/>
<path d="M418.5 147.5 L433.5 139.5" fill="none" stroke="#000" stroke-width="3" stroke-linejoin="round"/>
<path d="M418.5 147.5 L433.5 139.5" fill="none" stroke="#cccccc" stroke-width="1" stroke-linejoin="round"/>
<path d="M432 163 L446 157.5" fill="none" stroke="#000" stroke-width="3" stroke-linejoin="round"/>
<path d="M432 163 L446 157.5" fill="none" stroke="#cccccc" stroke-width="1" stroke-linejoin="round"/>
<path d="M452 127 L466 123" fill="none" stroke="#000" stroke-width="3" stroke-linejoin="round"/>
<path d="M452 127 L466 123" fill="none" stroke="#cccccc" stroke-width="1" stroke-linejoin="round"/>
<path d="M436 110.5 L452 112.5" fill="none" stroke="#000" stroke-width="3" stroke-linejoin="round"/>
<path d="M436 110.5 L452 112.5" fill="none" stroke="#cccccc" stroke-width="1" stroke-linejoin="round"/>
<path d="M508 120 L506.5 135" fill="none" stroke="#000" stroke-width="1" stroke-linejoin="round"/>
<path d="M456.7 441.5 L458.7 448.5" fill="none" stroke="#000" stroke-width="4.5" stroke-linejoin="round"/>
<path d="M456.7 441.5 L458.7 448.5" fill="none" stroke="#fff" stroke-width="2.5" stroke-linejoin="round"/>
<path d="M465.2 459.5 L471.7 468.5 L477.2 478.5 L479.7 486.5" fill="none" stroke="#000" stroke-width="5.5" stroke-linejoin="round"/>
<path d="M465.2 459.5 L471.7 468.5 L477.2 478.5 L479.7 486.5" fill="none" stroke="#fff" stroke-width="3.5" stroke-linejoin="round"/>
<path d="M480.7 492.5 L484.2 499.5 L486.2 505.5" fill="none" stroke="#000" stroke-width="5.0" stroke-linejoin="round"/>
<path d="M480.7 492.5 L484.2 499.5 L486.2 505.5" fill="none" stroke="#fff" stroke-width="3.0" stroke-linejoin="round"/>
<path d="M488.7 510.5 L492.7 518.5 L495.7 524.5" fill="none" stroke="#000" stroke-width="4.5" stroke-linejoin="round"/>
<path d="M488.7 510.5 L492.7 518.5 L495.7 524.5" fill="none" stroke="#fff" stroke-width="2.5" stroke-linejoin="round"/>
<path d="M474.7 482.5 L478.7 491.5" fill="none" stroke="#000" stroke-width="3.5" stroke-linejoin="round"/>
<path d="M474.7 482.5 L478.7 491.5" fill="none" stroke="#fff" stroke-width="1.5" stroke-linejoin="round"/>
<path d="M507.7 556.5 L511.7 565.5 L516.7 573.5" fill="none" stroke="#000" stroke-width="4.0" stroke-linejoin="round"/>
<path d="M507.7 556.5 L511.7 565.5 L516.7 573.5" fill="none" stroke="#fff" stroke-width="2.0" stroke-linejoin="round"/>
<path d="M528.2 591 L534.7 600.5 L540.7 608.5 L546.2 615.5" fill="none" stroke="#000" stroke-width="6.0" stroke-linejoin="round"/>
<path d="M528.2 591 L534.7 600.5 L540.7 608.5 L546.2 615.5" fill="none" stroke="#fff" stroke-width="4.0" stroke-linejoin="round"/>
<path d="M548.2 620.5 L553.7 630.5 L558.7 639.5 L564.2 647.5" fill="none" stroke="#000" stroke-width="5.5" stroke-linejoin="round"/>
<path d="M548.2 620.5 L553.7 630.5 L558.7 639.5 L564.2 647.5" fill="none" stroke="#fff" stroke-width="3.5" stroke-linejoin="round"/>
<path d="M539.2 604.5 L542.7 614.5" fill="none" stroke="#000" stroke-width="3.5" stroke-linejoin="round"/>
<path d="M539.2 604.5 L542.7 614.5" fill="none" stroke="#fff" stroke-width="1.5" stroke-linejoin="round"/>
<path d="M559.2 646.5 L564.7 654.5 L569.7 661.5" fill="none" stroke="#000" stroke-width="4.0" stroke-linejoin="round"/>
<path d="M559.2 646.5 L564.7 654.5 L569.7 661.5" fill="none" stroke="#fff" stroke-width="2.0" stroke-linejoin="round"/>
<path d="M585.5 688 L586.5 704" fill="none" stroke="#fff" stroke-width="1.5" stroke-linejoin="round"/>
<path d="M677.5 648 L677.5 688" fill="none" stroke="#000" stroke-width="2" stroke-linejoin="round"/>
<path d="M677.5 650 L677.5 686" fill="none" stroke="#fff" stroke-width="1" stroke-linejoin="round"/>
<path d="M721 849.5 L731 858.5 L741 868 L750 877" fill="none" stroke="#cccccc" stroke-width="5" stroke-linejoin="round"/>
<path d="M753.4 835 L753.8 840" fill="none" stroke="#000" stroke-width="2" stroke-linejoin="round"/>
<path d="M334.5 58 L337 57 L338 62 L339.5 67 L337 67.5 L334.5 63Z" fill="#fff" stroke="#000" stroke-width="1"/>
<path d="M344 69.5 L348 70 L347 73.5 L344 72.5Z" fill="#fff" stroke="#000" stroke-width="1"/>
<path d="M366 183 L368.6 180 L368.5 186.5 L367 188Z" fill="#fff" stroke="#000" stroke-width="1"/>
<path d="M344.5 184 L346.5 185.5 L345.5 187 L343.5 185.5Z" fill="#fff" stroke="#000" stroke-width="1"/>
<path d="M362 205 L364 204.5 L367 210 L365 211Z" fill="#fff" stroke="#000" stroke-width="1"/>
<path d="M377.5 228 L379.5 228 L379.5 233 L377.5 233Z" fill="#fff" stroke="#000" stroke-width="1"/>
<path d="M388 238 L392 236 L394 239 L390 242Z" fill="#fff" stroke="#000" stroke-width="1"/>
<path d="M377 272.9 L384.4 271 L390.5 271 L395.4 275.3 L394.2 280.2 L385.6 283.9 L379.5 287.6 L377 281.5Z" fill="#fff" stroke="#000" stroke-width="1"/>
<path d="M390.5 238.6 L396.7 238 L396.7 243.5 L390.5 243.5Z" fill="#fff" stroke="#000" stroke-width="1"/>
<path d="M365 291.5 L367 291 L367 304.5 L365.5 303Z" fill="#fff" stroke="#000" stroke-width="1"/>
<path d="M513 124 L518 121 L521 126 L517 130 L516 141 L513 140Z" fill="#fff" stroke="#000" stroke-width="1"/>
<path d="M453 287 L457 286 L458 290 L454 291Z" fill="#fff" stroke="#000" stroke-width="1"/>
<path d="M430 190 L434 189 L435 193 L431 195Z" fill="#fff" stroke="#000" stroke-width="1"/>
<path d="M439 179 L443 177 L444 186 L440 186Z" fill="#fff" stroke="#000" stroke-width="1"/>
<path d="M424 228 L427 222 L428 234 L425 236Z" fill="#fff" stroke="#000" stroke-width="1"/>
<path d="M383 329 L389 334 L392 341 L388 338 L384 333Z" fill="#fff" stroke="#000" stroke-width="1"/>
<path d="M401.6 337 L407 335 L409 346 L404 350 L401 344Z" fill="#fff" stroke="#000" stroke-width="1"/>
<path d="M412 343 L417 341.5 L418 345 L413 346Z" fill="#fff" stroke="#000" stroke-width="1"/>
<path d="M399.5 369 L402 368.5 L406 371.5 L404.5 373.5 L401 372Z" fill="#fff" stroke="#000" stroke-width="1"/>
<path d="M406.5 373 L410 374 L413 378.5 L411 380.5 L407.5 377Z" fill="#fff" stroke="#000" stroke-width="1"/>
<path d="M423.3 396 L425.5 395.5 L427 400.5 L424.5 400Z" fill="#fff" stroke="#000" stroke-width="1"/>
<path d="M449 427.5 L452 427 L453.5 431 L450.5 432Z" fill="#fff" stroke="#000" stroke-width="1"/>
<path d="M454 434 L456.5 433 L456.5 438 L454.5 439Z" fill="#fff" stroke="#000" stroke-width="1"/>
<path d="M600.5 683 L606 681 L613 683 L619 688 L620 694 L614 699 L607 699.5 L603 693Z" fill="#fff" stroke="#000" stroke-width="1"/>
<path d="M609 688 L612 687.5 L613 691 L610 692Z" fill="#fff" stroke="#000" stroke-width="1"/>
<path d="M621 596 L623 592 L625 603 L622 604Z" fill="#fff" stroke="#000" stroke-width="1"/>
<path d="M697 599 L702 598 L703 605 L698 606Z" fill="#fff" stroke="#000" stroke-width="1"/>
<path d="M585.3 738 L590.6 735.6 L591 750 L587 749Z" fill="#fff" stroke="#000" stroke-width="1"/>
<path d="M622.5 733 L628 730.5 L633 731.5 L631 737 L626 741 L623 739Z" fill="#fff" stroke="#000" stroke-width="1"/>
<path d="M618.5 759.5 L626.5 759.5 L626.5 766 L618.5 766Z" fill="#fff" stroke="#000" stroke-width="1"/>
<path d="M645 826 L649 826 L649 831 L645 831Z" fill="#fff" stroke="#000" stroke-width="1"/>
<path d="M645.5 775 L648 778 L647 784 L644.5 781Z" fill="#fff" stroke="#000" stroke-width="1"/>
<path d="M664 853 L671 850 L672.8 853 L666 859.7Z" fill="#fff" stroke="#000" stroke-width="1"/>
<path d="M691 840 L693.5 839.5 L692.5 843 L690 843.5Z" fill="#fff" stroke="#000" stroke-width="1"/>
<path d="M688.5 846 L691 845.5 L690 849 L687.5 849.5Z" fill="#fff" stroke="#000" stroke-width="1"/>
<path d="M687 850 L689.5 849.5 L688.5 853 L686 853.5Z" fill="#fff" stroke="#000" stroke-width="1"/>
<path d="M719 846 L724 844.7 L731.5 849 L737 853 L743 852 L745 858 L750 856 L753 851 L758 853 L764 857 L768 866 L770 874 L770 881 L757 881 L750 876 L744 868 L738 861 L731 856 L724 851Z" fill="#fff" stroke="#000" stroke-width="1"/>
<path d="M777 737 L783 735 L784 739 L778 743Z" fill="#fff" stroke="#000" stroke-width="1"/>
<path d="M429 166 L433 165 L434 170 L431 173 L429 171Z" fill="#fff" stroke="#000" stroke-width="1"/>
<path d="M334 50 L332.7 57M360 58 L363 57M359 64 L362 66 L360 68M353 99 L355 103M338 180 L344 186 L350 192 L355 197M341 179.5 L346 184M356 199 L361 206 L365 212 L369 219 L373 227 L376 236 L378 244M360 200 L364 206 L368 212M366 207 L370 214 L373 220M358 203 L362 209M372 222 L375 229M379 238 L381 244M398 81 L396 77 L394 78M384 128 L380 128M386 121 L382 119M396 115 L393 112M399 135 L397 139M432 100 L434 96M448 107 L449 103M469 128 L472 127M469 136 L472 137M469 156 L472 158M422 150 L420 154 L423 156M428 200 L424 199M434 194 L430 191M428 214 L424 216M427 236 L423 238M530 172 L534 171M529 186 L533 187M520 190 L524 193M516 200 L520 202M509 210 L513 213M496 220 L500 224M490 226 L502 226M488 234 L491 238M476 242 L479 246M468 254 L472 256M462 264 L466 265M526 170 L522 168M524 154 L528 152M486.4 140 L483 141M488 158 L485 160M446.3 423.4 L460 415.2M451 421 L459 427M464.4 455.5 L468 456 L471.8 453M487.7 504.6 L492.6 504.6M498.7 530.3 L503 529 L508.5 522.3M503 529 L509.8 540M509 561 L512 558M528 588 L531 585 L533 586M548.5 613 L551 611 L554 612M550 618 L554 617 L558 618M560 640 L563 640 L567 639M501 541 L503 545M507 557 L509 553 L511 554M594 668 L595 673 L598 672M596 674 L599 679M598 668 L599 671M609 681.8 L611 676 L612.6 670.7M631 670.7 L629 667 L632 666M637 690 L640 688M622 622 L619 620M628 640 L625 641M633 656 L630 657M646 610 L648 605 L650 607M636 619 L634 615M642 618 L640 614 L643 613M676 660 L680 660M676 672 L680 673M676 684 L680 683M654.4 758.2 L654.4 770.2M659.7 787.5 L663 791 L666.3 795.5M726 850 L730 853 L728 855M736 856 L740 858 L739 862M746 860 L750 864 L748 868 L753 870M756 858 L760 862 L757 866 L762 870M752 872 L758 875 L756 879M763 872 L767 876M744 854 L748 856M759 854 L757 849M753.4 835 L754 842 L757 847 L758.9 851.5M733 852 L735 849M700 816 L704 813 L707 810.5M748 752 L746 749M735 812 L737 815M722 847 L727 846 L729 849M732 851 L737 850 L739 854 L743 853M745 856 L749 853 L752 856M754 860 L758 858 L761 861 L759 865M748 862 L752 866 L750 870M760 868 L765 866 L768 870M755 874 L760 872 L764 876 L761 880M766 878 L769 875M741 858 L745 862 L743 865M735 855 L738 858M751 879 L754 876M763 860 L766 862M424 168 L421 168M426 176 L422 178M428 183 L425 186 L427 188M428 160 L430 163M433 170 L437 171" fill="none" stroke="#000" stroke-width="1"/>
<path d="M340 179 L343 181 L347 186 L345 186.5 L341 182Z" fill="#000"/>
<path d="M368 209 L371 209 L373 215 L370 215Z" fill="#000"/>
<path d="M375 224 L378 224 L379 231 L376 231Z" fill="#000"/>
<path d="M379 234 L382 236 L382 242 L380 241Z" fill="#000"/>
<path d="M383 274 L386 273 L387 277 L384 280Z" fill="#000"/>
<path d="M512 143 L521 143 L521 146 L512 146Z" fill="#000"/>
<path d="M404 371 L407 372 L408 375 L405 374Z" fill="#000"/>
<path d="M419 390.5 L422.5 392 L423.5 395 L420 393.5Z" fill="#000"/>
<path d="M545 618 L549 618 L553 628 L550 630Z" fill="#000"/>
<path d="M590.5 697.7 L594.2 697.7 L594.2 706.3 L590.5 706.3Z" fill="#000"/>
<path d="M604 686 L609 684 L612 688 L608 692Z" fill="#000"/>
<path d="M612 690 L617 689 L618 694 L613 696Z" fill="#000"/>
<path d="M606 694 L610 693 L610 698 L606 698Z" fill="#000"/>
<path d="M583 577.5 L586 577 L588 583 L590 587 L587 587 L584 584Z" fill="#000"/>
<path d="M624 734 L627 733 L628 737 L625 738Z" fill="#000"/>
<path d="M603 742 L605 742 L605 745 L603 745Z" fill="#000"/>
<path d="M607 746 L609 746 L609 749 L607 749Z" fill="#000"/>
<path d="M611 741 L614 741 L614 743 L611 743Z" fill="#000"/>
<path d="M614 749 L616 749 L616 751 L614 751Z" fill="#000"/>
<path d="M606 753 L608 753 L608 756 L606 756Z" fill="#000"/>
<path d="M611 757 L615 757 L615 760 L611 760Z" fill="#000"/>
<path d="M617 744 L619 744 L619 746 L617 746Z" fill="#000"/>
<path d="M620 751 L624 751 L624 754 L620 754Z" fill="#000"/>
<path d="M616 760 L619 760 L619 762 L616 762Z" fill="#000"/>
<path d="M622 764 L624 764 L624 767 L622 767Z" fill="#000"/>
<path d="M626 756 L628 756 L628 758 L626 758Z" fill="#000"/>
<path d="M629 768 L632 768 L632 771 L629 771Z" fill="#000"/>
<path d="M620 771 L622 771 L622 773 L620 773Z" fill="#000"/>
<path d="M625 776 L628 776 L628 779 L625 779Z" fill="#000"/>
<path d="M633 772 L636 772 L636 774 L633 774Z" fill="#000"/>
<path d="M636 766 L640 766 L640 769 L636 769Z" fill="#000"/>
<path d="M631 760 L634 760 L634 762 L631 762Z" fill="#000"/>
<path d="M612 765 L614 765 L614 767 L612 767Z" fill="#000"/>
<path d="M608 760 L611 760 L611 763 L608 763Z" fill="#000"/>
<path d="M636 779 L638 779 L638 782 L636 782Z" fill="#000"/>
<path d="M641 784 L643 784 L643 787 L641 787Z" fill="#000"/>
<path d="M645 792 L649 792 L649 795 L645 795Z" fill="#000"/>
<path d="M648 801 L652 801 L652 803 L648 803Z" fill="#000"/>
<path d="M650 812 L653 812 L653 815 L650 815Z" fill="#000"/>
<path d="M653 822 L657 822 L657 825 L653 825Z" fill="#000"/>
<path d="M628 748 L631 748 L631 751 L628 751Z" fill="#000"/>
<path d="M634 756 L636 756 L636 758 L634 758Z" fill="#000"/>
<path d="M638 771 L641 771 L641 774 L638 774Z" fill="#000"/>
<path d="M642 778 L644 778 L644 780 L642 780Z" fill="#000"/>
<path d="M600 748 L602 748 L602 751 L600 751Z" fill="#000"/>
<path d="M664 790 L668 790 L668 796 L664 796Z" fill="#000"/>
<path d="M667 730 L669 730 L669 733 L667 733Z" fill="#000"/>
<path d="M666 738 L668 738 L668 741 L666 741Z" fill="#000"/>
<path d="M668 746 L670 746 L670 749 L668 749Z" fill="#000"/>
<path d="M671 752 L673 752 L673 755 L671 755Z" fill="#000"/>
<path d="M675 760 L677 760 L677 763 L675 763Z" fill="#000"/>
<path d="M679 770 L681 770 L681 773 L679 773Z" fill="#000"/>
<path d="M681 780 L683 780 L683 783 L681 783Z" fill="#000"/>
<path d="M679 790 L681 790 L681 793 L679 793Z" fill="#000"/>
<path d="M678 799 L680 799 L680 802 L678 802Z" fill="#000"/>
<path d="M681 808 L683 808 L683 811 L681 811Z" fill="#000"/>
<path d="M685 814 L687 814 L687 817 L685 817Z" fill="#000"/>
<path d="M672 770 L674 770 L674 773 L672 773Z" fill="#000"/>
<path d="M674 780 L676 780 L676 783 L674 783Z" fill="#000"/>
<path d="M669 796 L671 796 L671 799 L669 799Z" fill="#000"/>
<path d="M669 806 L671 806 L671 809 L669 809Z" fill="#000"/>
<path d="M784.5 734 L788 734 L788 738 L784.5 738Z" fill="#000"/>
<path d="M747 858 L749 858 L749 860 L747 860Z" fill="#000"/>
<path d="M756 863 L758 863 L758 865 L756 865Z" fill="#000"/>
<path d="M752 868 L754 868 L754 870 L752 870Z" fill="#000"/>
<path d="M762 874 L764 874 L764 876 L762 876Z" fill="#000"/>
<path d="M758 878 L760 878 L760 880 L758 880Z" fill="#000"/>
<path d="M742 855 L744 855 L744 857 L742 857Z" fill="#000"/>
<path d="M765 868 L767 868 L767 870 L765 870Z" fill="#000"/>
<path d="M100.5 58.5l-5 2.5l1.1-.1m-1.1 .1l.7-.8M113.5 58.5l-5.5 2.5l1.1-.1m-1.1 .1l.8-.8M127 58.5l-5.5 2.5l1.1-.1m-1.1 .1l.8-.8M140 58.5l-5.5 2.5l1.2-.1m-1.2 .1l.8-.8M153 58.5l-6 2l1.2 0m-1.2 0l.9-.8M166.5 58.5l-6 2l1.2 0m-1.2 0l.9-.8M179.5 58.5l-6 2l1.2 0m-1.2 0l.9-.8M192.5 58.5l-6 2l1.2 0m-1.2 0l.9-.8M206 58.5l-6 2l1.2 0m-1.2 0l.9-.8M219 58.5l-6.5 1.5l1.2 .2m-1.2-.2l1-.7M232 58.5l-6.5 1.5l1.2 .2m-1.2-.2l1-.7M245.5 58.5l-6.5 1.5l1.2 .2m-1.2-.2l1-.7M258.5 58.5l-6.5 1l1.2 .3m-1.2-.3l1.1-.6M271.5 58.5l-6.5 .5l1.2 .3m-1.2-.3l1.1-.5M285 58.5l-6 0l1.1 .4m-1.1-.4l1.1-.4M298 58.5l-5.5 0l1 .4m-1-.4l1-.4M311 58.5l-4.5 0l.9 .4m-.9-.4l.9-.4M324.5 58.5l-3.5 0l.9 .4m-.9-.4l.9-.4M100.5 73l-5.5 3l1.1-.2m-1.1 .2l.7-.9M113.5 73l-5.5 2.5l1.2-.1m-1.2 .1l.8-.8M127 73l-6 2.5l1.2 0m-1.2 0l.9-.8M140 73l-6 2.5l1.2 0m-1.2 0l.9-.9M153 73l-6 2.5l1.3 0m-1.3 0l.9-.9M166.5 73l-6 2.5l1.3 0m-1.3 0l.9-.9M179.5 73l-6 2.5l1.3 0m-1.3 0l.9-.9M192.5 73l-6.5 2.5l1.3 0m-1.3 0l1-.9M206 73l-6.5 2.5l1.3 0m-1.3 0l1-.9M219 73l-6.5 2.5l1.3 0m-1.3 0l1-.9M232 73l-6.5 2l1.3 .1m-1.3-.1l1.1-.8M245.5 73l-7 2l1.3 .1m-1.3-.1l1.1-.8M258.5 73l-6.5 1.5l1.3 .2m-1.3-.2l1.1-.7M271.5 73l-6.5 1l1.2 .3m-1.2-.3l1.1-.6M285 73l-6 1l1.1 .2m-1.1-.2l1-.6M298 73l-5.5 .5l1 .3m-1-.3l.9-.4M311.5 73l-4.5 .5l1 .2m-1-.2l.9-.5M324.5 73l-3.5 .5l1 .2m-1-.2l.9-.5M337.5 73l-2.5 .5l1 .2m-1-.2l.8-.5M100.5 88l-5.5 3l1.2-.2m-1.2 .2l.8-.9M113.5 88l-6 3l1.3-.1m-1.3 .1l.9-.9M127 88l-6 3l1.3-.1m-1.3 .1l.9-.9M140 88l-6 3l1.3-.1m-1.3 .1l.9-1M153 88l-6.5 3l1.3-.1m-1.3 .1l.9-1M166.5 88l-6.5 3l1.3-.1m-1.3 .1l.9-1M179.5 88l-6.5 3l1.4-.1m-1.4 .1l1-1M192.5 88l-6.5 3l1.4-.1m-1.4 .1l1-1M206 88l-6.5 3l1.4-.1m-1.4 .1l1-1M219 88l-7 3l1.4-.1m-1.4 .1l1-1M232.5 88l-7 3l1.4-.1m-1.4 .1l1-1M245.5 88l-7 2.5l1.4 0m-1.4 0l1.1-.9M258.5 88l-7 2.5l1.4 0m-1.4 0l1.1-.9M272 88l-6.5 2l1.3 .1m-1.3-.1l1-.8M285 88l-6 1.5l1.2 .1m-1.2-.1l1-.7M298 88l-5 1.5l1 .1m-1-.1l.8-.6M311.5 88l-4 1l1 .1m-1-.1l.8-.6M324.5 88l-3 1l1 0m-1 0l.8-.6M337.5 88l-2 1l1-.1m-1 .1l.7-.7M100.5 103l-6 3.5l1.3-.2m-1.3 .2l.8-1M113.5 103l-6 3.5l1.3-.2m-1.3 .2l.8-1M127 103l-6.5 3.5l1.4-.2m-1.4 .2l.9-1M140 103l-6.5 3.5l1.4-.2m-1.4 .2l.9-1.1M153 103l-6.5 3.5l1.4-.2m-1.4 .2l.9-1.1M166.5 103l-6.5 3.5l1.4-.2m-1.4 .2l.9-1.1M179.5 103l-6.5 3.5l1.4-.2m-1.4 .2l.9-1.1M192.5 103l-7 3.5l1.4-.1m-1.4 .1l1-1.1M206 103l-7 3.5l1.5-.2m-1.5 .2l1-1.1M219 103l-7.5 3.5l1.5-.1m-1.5 .1l1.1-1.1M232.5 103l-7.5 3.5l1.6-.1m-1.6 .1l1.1-1.1M245.5 103l-7.5 3.5l1.6-.1m-1.6 .1l1.1-1.1M258.5 103l-7.5 3.5l1.5-.1m-1.5 .1l1.1-1.1M272 103l-7 3l1.4-.1m-1.4 .1l1-1M285 103l-6 2.5l1.2 0m-1.2 0l.9-.8M298 103l-5 2l1 0m-1 0l.8-.7M311.5 103l-3.5 2l1-.2m-1 .2l.6-.8M324.5 103l-2.5 2l1-.3m-1 .3l.5-.9M100.5 117.5l-6 4l1.3-.3m-1.3 .3l.8-1.1M113.5 117.5l-6.5 4l1.4-.3m-1.4 .3l.9-1.1M127 117.5l-6.5 4l1.4-.3m-1.4 .3l.9-1.1M140 117.5l-6.5 4l1.4-.3m-1.4 .3l.9-1.2M153 117.5l-6.5 4l1.5-.3m-1.5 .3l.9-1.2M166.5 117.5l-7 4l1.5-.2m-1.5 .2l1-1.2M179.5 117.5l-7 4l1.5-.2m-1.5 .2l1-1.2M192.5 117.5l-7 4l1.5-.2m-1.5 .2l1-1.2M206 117.5l-7 4l1.5-.2m-1.5 .2l1-1.2M219 117.5l-7.5 4.5l1.6-.3m-1.6 .3l1-1.3M232.5 117.5l-8 4.5l1.7-.3m-1.7 .3l1.1-1.3M245.5 117.5l-8 5l1.7-.3m-1.7 .3l1.1-1.4M258.5 117.5l-7.5 4.5l1.7-.3m-1.7 .3l1-1.3M272 117.5l-7 4l1.5-.2m-1.5 .2l1-1.2M285 117.5l-6.5 3l1.3-.1m-1.3 .1l.9-1M298 117.5l-5 3l1.1-.2m-1.1 .2l.7-.9M311.5 117.5l-3 3l.9-.4m-.9 .4l.4-.9M324.5 117.5l-2 3l.8-.6m-.8 .6l.2-1M100.5 132.5l-6 4.5l1.4-.4m-1.4 .4l.8-1.2M113.5 132.5l-6 4.5l1.4-.4m-1.4 .4l.8-1.2M127 132.5l-6.5 4.5l1.5-.4m-1.5 .4l.9-1.2M140 132.5l-6.5 4.5l1.5-.4m-1.5 .4l.9-1.3M153 132.5l-7 4.5l1.5-.3m-1.5 .3l.9-1.3M166.5 132.5l-7 4.5l1.6-.3m-1.6 .3l1-1.3M179.5 132.5l-7 4.5l1.6-.3m-1.6 .3l1-1.3M192.5 132.5l-7.5 4.5l1.6-.3m-1.6 .3l1-1.3M206 132.5l-7.5 4.5l1.7-.3m-1.7 .3l1.1-1.3M219 132.5l-8 5l1.8-.4m-1.8 .4l1.1-1.4M232.5 132.5l-8.5 5.5l1.8-.4m-1.8 .4l1.1-1.5M245.5 132.5l-8.5 5.5l1.9-.4m-1.9 .4l1.1-1.5M258.5 132.5l-8 5.5l1.8-.4m-1.8 .4l1-1.5M272 132.5l-7 5l1.6-.4m-1.6 .4l.9-1.4M285 132.5l-6 4.5l1.4-.4m-1.4 .4l.8-1.2M298.5 132.5l-4.5 4.5l1.1-.5m-1.1 .5l.5-1.1M311.5 132.5l-3 4l.8-.5m-.8 .5l.3-1M324.5 132.5l-1.5 4l.7-.8m-.7 .8l0-1M100.5 147.5l-5.5 5l1.4-.5m-1.4 .5l.7-1.3M113.5 147.5l-6 5l1.4-.5m-1.4 .5l.7-1.3M127 147.5l-6 5l1.4-.5m-1.4 .5l.8-1.3M140 147.5l-6.5 5l1.5-.5m-1.5 .5l.8-1.3M153 147.5l-7 5l1.6-.4m-1.6 .4l.9-1.3M166.5 147.5l-7 5l1.6-.4m-1.6 .4l.9-1.4M179.5 147.5l-7.5 5l1.7-.4m-1.7 .4l1-1.4M193 147.5l-7.5 5l1.7-.4m-1.7 .4l1-1.4M206 147.5l-8 5.5l1.8-.4m-1.8 .4l1.1-1.5M219 147.5l-8.5 5.5l1.9-.4m-1.9 .4l1.1-1.5M232.5 147.5l-8.5 6l1.9-.5m-1.9 .5l1.1-1.6M245.5 147.5l-8.5 6l2-.5m-2 .5l1.1-1.7M259 147.5l-8 6l1.9-.5m-1.9 .5l1-1.6M272 147.5l-7 6l1.7-.6m-1.7 .6l.9-1.6M285 147.5l-6 6l1.5-.7m-1.5 .7l.7-1.5M298.5 147.5l-4.5 6l1.2-.8m-1.2 .8l.4-1.4M311.5 147.5l-3 5.5l.9-.8m-.9 .8l.2-1.2M324.5 147.5l-1.5 5l.6-.8m-.6 .8l-.1-1M100.5 162l-5 6l1.3-.7m-1.3 .7l.5-1.4M113.5 162l-5.5 6l1.3-.7m-1.3 .7l.6-1.4M127 162l-5.5 6l1.4-.7m-1.4 .7l.6-1.4M140 162l-6 6l1.4-.7m-1.4 .7l.7-1.4M153 162l-6.5 6l1.5-.6m-1.5 .6l.7-1.5M166.5 162l-7 6l1.6-.6m-1.6 .6l.8-1.5M179.5 162l-7.5 6l1.7-.6m-1.7 .6l.9-1.5M193 162l-8 6l1.8-.5m-1.8 .5l1-1.6M206 162l-8 6l1.8-.5m-1.8 .5l1-1.6M219 162l-8.5 6.5l1.9-.6m-1.9 .6l1.1-1.7M232.5 162l-8.5 6.5l2-.6m-2 .6l1.1-1.8M245.5 162l-9 7l2-.6m-2 .6l1.1-1.8M259 162l-8 7l1.9-.7m-1.9 .7l1-1.8M272 162l-6.5 7.5l1.7-.9m-1.7 .9l.7-1.8M285 162l-5.5 7.5l1.5-1m-1.5 1l.5-1.7M298.5 162l-4 7.5l1.2-1.1m-1.2 1.1l.2-1.6M311.5 162l-2.5 6.5l.9-1m-.9 1l0-1.3M325 162l-1 5.5l.6-.9m-.6 .9l-.2-1.1M100.5 177l-3 7l1-1m-1 1l.1-1.4M113.5 177l-4 6.5l1.2-.9m-1.2 .9l.3-1.4M127 177l-4.5 6.5l1.2-.9m-1.2 .9l.4-1.5M140 177l-5 6.5l1.3-.8m-1.3 .8l.5-1.5M153 177l-6 6.5l1.5-.7m-1.5 .7l.6-1.5M166.5 177l-6.5 6.5l1.6-.7m-1.6 .7l.7-1.6M179.5 177l-7 6.5l1.7-.7m-1.7 .7l.8-1.6M193 177l-7.5 6.5l1.8-.7m-1.8 .7l.9-1.7M206 177l-7.5 7l1.8-.7m-1.8 .7l.9-1.7M219 177l-8 7l1.9-.7m-1.9 .7l.9-1.8M232.5 177l-8 7.5l1.9-.8m-1.9 .8l.9-1.8M245.5 177l-7.5 7.5l1.9-.8m-1.9 .8l.8-1.9M259 177l-7 8l1.7-.9m-1.7 .9l.7-1.8M272 177l-5.5 8l1.5-1.1m-1.5 1.1l.4-1.8M285 177l-4.5 8l1.4-1.1m-1.4 1.1l.3-1.8M298.5 177l-3 8l1.1-1.2m-1.1 1.2l0-1.7M311.5 177l-1.5 7.5l.8-1.2m-.8 1.2l-.2-1.4M325 177l-.5 6.5l.5-1.1m-.5 1.1l-.3-1.2M100.5 191.5l-.5 8l.6-1.4m-.6 1.4l-.4-1.4M113.5 191.5l-2 7.5l.8-1.2m-.8 1.2l-.1-1.4M126.5 191.5l-3 7l1-1.1m-1 1.1l.1-1.5M140 191.5l-4 7l1.2-1m-1.2 1l.2-1.5M153 191.5l-5.5 6.5l1.4-.8m-1.4 .8l.5-1.5M166.5 191.5l-6 7l1.5-.8m-1.5 .8l.6-1.6M179.5 191.5l-6.5 7l1.6-.8m-1.6 .8l.7-1.7M193 191.5l-7 7l1.7-.8m-1.7 .8l.8-1.7M206 191.5l-7 7.5l1.7-.9m-1.7 .9l.7-1.8M219 191.5l-6.5 8l1.7-1m-1.7 1l.6-1.9M232.5 191.5l-6.5 8l1.7-1m-1.7 1l.6-1.8M245.5 191.5l-5.5 8.5l1.5-1.1m-1.5 1.1l.4-1.9M259 191.5l-5 8.5l1.5-1.2m-1.5 1.2l.3-1.8M272 191.5l-4 8.5l1.3-1.3m-1.3 1.3l.1-1.8M285.5 191.5l-3 8.5l1.1-1.3m-1.1 1.3l0-1.7M298.5 191.5l-2 8.5l.9-1.4m-.9 1.4l-.2-1.6M311.5 191.5l-.5 8l.6-1.4m-.6 1.4l-.4-1.4M325 191.5l0 7l.5-1.3m-.5 1.3l-.5-1.3M338 191.5l.5 6.5l.3-1.2m-.3 1.2l-.5-1.1M100.5 206.5l1.5 8l.3-1.5m-.3 1.5l-.8-1.3M113.5 206.5l0 8l.5-1.4m-.5 1.4l-.5-1.4M126.5 206.5l-1 7.5l.7-1.3m-.7 1.3l-.3-1.4M140 206.5l-3 7l1-1.1m-1 1.1l.1-1.5M153 206.5l-4.5 7l1.3-.9m-1.3 .9l.3-1.5M166.5 206.5l-5 7l1.4-.9m-1.4 .9l.4-1.6M179.5 206.5l-5.5 7.5l1.4-.9m-1.4 .9l.5-1.7M193 206.5l-6 7.5l1.6-.9m-1.6 .9l.6-1.8M206 206.5l-6 8l1.6-1m-1.6 1l.5-1.8M219 206.5l-5.5 8.5l1.5-1.1m-1.5 1.1l.4-1.8M232.5 206.5l-4.5 8.5l1.4-1.2m-1.4 1.2l.2-1.8M245.5 206.5l-4 9l1.3-1.3m-1.3 1.3l.1-1.8M259 206.5l-3 9l1.1-1.4m-1.1 1.4l-.1-1.8M272 206.5l-2.5 9l1-1.4m-1 1.4l-.2-1.8M285.5 206.5l-1.5 9l.9-1.5m-.9 1.5l-.3-1.7M298.5 206.5l-.5 8.5l.7-1.5m-.7 1.5l-.5-1.6M312 206.5l.5 8.5l.5-1.5m-.5 1.5l-.6-1.4M325 206.5l1 7.5l.3-1.4m-.3 1.4l-.7-1.3M338 206.5l1 7l.3-1.3m-.3 1.3l-.6-1.2M351.5 206.5l1 6l.2-1.2m-.2 1.2l-.6-1M100.5 221l3 8l0-1.6m0 1.6l-1.1-1.2M113.5 221l2 8l.2-1.6m-.2 1.6l-.9-1.3M126.5 221l1 8l.4-1.5m-.4 1.5l-.7-1.3M140 221l-1 7.5l.7-1.3m-.7 1.3l-.3-1.4M153 221l-2.5 7.5l.9-1.1m-.9 1.1l-.1-1.5M166.5 221l-3 7l1-1.1m-1 1.1l.1-1.5M179.5 221l-3.5 7l1.1-1m-1.1 1l.2-1.5M193 221l-4.5 7.5l1.3-1m-1.3 1l.3-1.7M206 221l-4.5 8l1.4-1.1m-1.4 1.1l.3-1.8M219.5 221l-4 8.5l1.3-1.2m-1.3 1.2l.1-1.8M232.5 221l-3 8.5l1.1-1.3m-1.1 1.3l0-1.8M245.5 221l-2.5 9l1-1.4m-1 1.4l-.2-1.8M259 221l-1.5 9l.9-1.5m-.9 1.5l-.3-1.7M272 221l-1 9l.8-1.6m-.8 1.6l-.4-1.7M285.5 221l-.5 9l.7-1.6m-.7 1.6l-.5-1.7M298.5 221l0 9l.6-1.6m-.6 1.6l-.6-1.6M312 221l.5 8.5l.5-1.5m-.5 1.5l-.7-1.5M325 221l.5 8l.4-1.4m-.4 1.4l-.6-1.4M338.5 221l.5 7l.4-1.3m-.4 1.3l-.6-1.2M351.5 221l.5 6.5l.3-1.2m-.3 1.2l-.5-1.1M364.5 221l.5 5.5l.3-1m-.3 1l-.5-1M100.5 236l4 8l-.2-1.7m.2 1.7l-1.2-1.2M113.5 236l4 8l-.2-1.7m.2 1.7l-1.2-1.1M126.5 236l3.5 8l-.1-1.6m.1 1.6l-1.1-1.2M140 236l2 8l.2-1.5m-.2 1.5l-.9-1.3M153 236l0 7.5l.5-1.4m-.5 1.4l-.5-1.4M166.5 236l-.5 6.5l.5-1.1m-.5 1.1l-.4-1.2M179.5 236l-1 6l.6-1m-.6 1l-.2-1.2M193 236l-2 7l.8-1.1m-.8 1.1l-.1-1.4M206 236l-2.5 8l1-1.2m-1 1.2l-.1-1.6M219.5 236l-2 8l.9-1.3m-.9 1.3l-.2-1.6M232.5 236l-1.5 8.5l.8-1.4m-.8 1.4l-.3-1.6M245.5 236l-1 9l.8-1.5m-.8 1.5l-.4-1.7M259 236l-1 9l.8-1.6m-.8 1.6l-.4-1.7M272 236l-.5 9l.7-1.6m-.7 1.6l-.5-1.7M285.5 236l0 9l.6-1.6m-.6 1.6l-.6-1.6M298.5 236l0 9l.6-1.6m-.6 1.6l-.6-1.6M312 236l0 8.5l.6-1.5m-.6 1.5l-.6-1.5M325 236l0 8l.5-1.4m-.5 1.4l-.5-1.4M338.5 236l0 7.5l.5-1.3m-.5 1.3l-.5-1.3M351.5 236l.5 6.5l.3-1.2m-.3 1.2l-.5-1.1M365 236l.5 5.5l.3-1m-.3 1l-.5-.9M100 250.5l5 7l-.4-1.6m.4 1.6l-1.4-.9M113.5 250.5l5 7.5l-.4-1.7m.4 1.7l-1.4-1M126.5 250.5l5 7.5l-.4-1.7m.4 1.7l-1.4-1M140 250.5l5 7.5l-.4-1.7m.4 1.7l-1.4-1M153 250.5l4.5 7l-.3-1.5m.3 1.5l-1.3-.9M166.5 250.5l3 5.5l-.2-1.2m.2 1.2l-.9-.8M179.5 250.5l1.5 4l0-1m0 1l-.7-.8M193 250.5l.5 4l.2-1m-.2 1l-.5-.9M206 250.5l0 5.5l.4-1m-.4 1l-.4-1M219.5 250.5l-.5 7l.6-1.2m-.6 1.2l-.4-1.3M232.5 250.5l-.5 8.5l.6-1.5m-.6 1.5l-.5-1.5M246 250.5l-.5 9l.7-1.6m-.7 1.6l-.5-1.6M259 250.5l-.5 9l.7-1.6m-.7 1.6l-.5-1.6M272 250.5l-.5 9l.7-1.6m-.7 1.6l-.5-1.6M285.5 250.5l0 9l.6-1.6m-.6 1.6l-.6-1.6M298.5 250.5l0 8.5l.6-1.5m-.6 1.5l-.6-1.5M312 250.5l-.5 8l.6-1.4m-.6 1.4l-.5-1.5M325 250.5l-1 8l.7-1.4m-.7 1.4l-.4-1.5M338.5 250.5l-.5 7l.6-1.2m-.6 1.2l-.4-1.3M351.5 250.5l0 6l.4-1m-.4 1l-.4-1M365 250.5l0 5l.4-.9m-.4 .9l-.4-.9M378 250.5l0 4.5l.4-.9m-.4 .9l-.4-.9M100 265.5l5 7l-.4-1.6m.4 1.6l-1.4-.9M113.5 265.5l5.5 7l-.5-1.6m.5 1.6l-1.5-.9M126.5 265.5l6 7l-.6-1.7m.6 1.7l-1.5-.8M140 265.5l6 7l-.6-1.7m.6 1.7l-1.6-.9M153 265.5l6 6.5l-.6-1.6m.6 1.6l-1.5-.8M166.5 265.5l5 5.5l-.5-1.3m.5 1.3l-1.2-.6M179.5 265.5l3.5 4l-.4-1m.4 1l-.9-.5M193 265.5l2.5 4l-.2-1m.2 1l-.8-.6M206 265.5l1 5l.2-1m-.2 1l-.5-.8M219.5 265.5l0 6.5l.4-1.1m-.4 1.1l-.4-1.1M232.5 265.5l-.5 7.5l.6-1.3m-.6 1.3l-.4-1.4M246 265.5l-.5 8.5l.7-1.5m-.7 1.5l-.5-1.5M259 265.5l-1 8.5l.8-1.5m-.8 1.5l-.4-1.6M272.5 265.5l-1 8.5l.8-1.5m-.8 1.5l-.4-1.6M285.5 265.5l-1 8.5l.7-1.4m-.7 1.4l-.4-1.5M298.5 265.5l-1 8l.7-1.3m-.7 1.3l-.3-1.5M312 265.5l-1 7l.7-1.2m-.7 1.2l-.3-1.3M325 265.5l-1 6.5l.6-1.1m-.6 1.1l-.3-1.2M338.5 265.5l-1 6l.6-1m-.6 1l-.2-1.1M351.5 265.5l-.5 5.5l.4-.9m-.4 .9l-.3-1M365 265.5l-.5 4.5l.5-.9m-.5 .9l-.2-1M378 265.5l-.5 4.5l.5-.9m-.5 .9l-.2-1M100 280l5 7l-.4-1.6m.4 1.6l-1.4-.9M113.5 280l5.5 7l-.5-1.6m.5 1.6l-1.4-.9M126.5 280l6 7l-.6-1.6m.6 1.6l-1.5-.8M140 280l6.5 7l-.7-1.6m.7 1.6l-1.6-.8M153 280l6 6.5l-.6-1.6m.6 1.6l-1.5-.8M166.5 280l5.5 6l-.6-1.4m.6 1.4l-1.4-.7M179.5 280l4.5 5.5l-.4-1.3m.4 1.3l-1.2-.7M193 280l3 5l-.2-1.1m.2 1.1l-.9-.7M206 280l1 5.5l.2-1m-.2 1l-.5-.9M219.5 280l-.5 6l.5-1.1m-.5 1.1l-.3-1.1M232.5 280l-1.5 7l.7-1.2m-.7 1.2l-.2-1.4M246 280l-1.5 8l.8-1.3m-.8 1.3l-.3-1.5M259 280l-2 8l.9-1.3m-.9 1.3l-.2-1.6M272.5 280l-2.5 8l1-1.2m-1 1.2l-.1-1.6M285.5 280l-2.5 7.5l.9-1.1m-.9 1.1l-.1-1.5M299 280l-2.5 6.5l.9-1m-.9 1l0-1.3M312 280l-2 5.5l.8-.9m-.8 .9l0-1.2M325.5 280l-1.5 5l.6-.8m-.6 .8l-.1-1M338.5 280l-1.5 4.5l.6-.8m-.6 .8l0-1M351.5 280l-1 4.5l.5-.8m-.5 .8l-.1-1M365 280l-1 4l.6-.8m-.6 .8l-.1-1M378 280l-1 4l.6-.8m-.6 .8l-.1-1M100 295l4.5 7l-.3-1.5m.3 1.5l-1.3-.9M113.5 295l5 7l-.4-1.6m.4 1.6l-1.4-.9M126.5 295l5.5 7l-.5-1.6m.5 1.6l-1.5-.9M140 295l6 7l-.6-1.6m.6 1.6l-1.5-.8M153 295l6 7l-.6-1.6m.6 1.6l-1.5-.8M166.5 295l6 6.5l-.6-1.6m.6 1.6l-1.5-.8M179.5 295l5.5 6.5l-.5-1.5m.5 1.5l-1.4-.8M193 295l4 6.5l-.3-1.4m.3 1.4l-1.1-.9M206 295l0 6l.4-1m-.4 1l-.4-1M219.5 295l-2.5 6l.8-.9m-.8 .9l0-1.2M232.5 295l-2.5 7l.9-1.1m-.9 1.1l0-1.4M246 295l-2.5 8l1-1.2m-1 1.2l-.1-1.6M259 295l-3 8l1.1-1.2m-1.1 1.2l0-1.6M272.5 295l-4 7.5l1.2-1.1m-1.2 1.1l.2-1.6M285.5 295l-4.5 6.5l1.2-.9m-1.2 .9l.4-1.5M299 295l-4.5 5.5l1.1-.7m-1.1 .7l.4-1.2M312 295l-3.5 4.5l.9-.6m-.9 .6l.3-1.1M325.5 295l-2.5 3.5l.8-.6m-.8 .6l.3-1M338.5 295l-1.5 3.5l.7-.7m-.7 .7l0-1M352 295l-1.5 4l.7-.8m-.7 .8l0-1M365 295l-1.5 4l.7-.8m-.7 .8l0-1M100 309.5l4 7l-.2-1.5m.2 1.5l-1.2-1M113.5 309.5l4.5 7l-.3-1.6m.3 1.6l-1.3-1M126.5 309.5l5 7l-.4-1.6m.4 1.6l-1.4-.9M140 309.5l5.5 7l-.5-1.7m.5 1.7l-1.5-.9M153 309.5l6 7l-.6-1.7m.6 1.7l-1.5-.8M166.5 309.5l6 7l-.6-1.6m.6 1.6l-1.5-.8M179.5 309.5l5.5 7l-.5-1.6m.5 1.6l-1.4-.9M193 309.5l3.5 7l-.2-1.5m.2 1.5l-1.1-1M206 309.5l0 6.5l.4-1.1m-.4 1.1l-.4-1.1M219.5 309.5l-2.5 6.5l.9-1m-.9 1l0-1.3M232.5 309.5l-3.5 7l1.1-1m-1.1 1l.2-1.5M246 309.5l-3.5 8l1.1-1.2m-1.1 1.2l.1-1.6M259 309.5l-4.5 8l1.3-1.1m-1.3 1.1l.3-1.7M272.5 309.5l-5.5 7.5l1.5-1m-1.5 1l.5-1.7M285.5 309.5l-6 7l1.5-.8m-1.5 .8l.6-1.6M299 309.5l-6 6l1.4-.7m-1.4 .7l.7-1.4M312 309.5l-5 5l1.2-.6m-1.2 .6l.6-1.2M325.5 309.5l-4 4l1-.4m-1 .4l.4-1M338.5 309.5l-3 4l.8-.5m-.8 .5l.3-1M352 309.5l-2.5 4l.8-.6m-.8 .6l.2-1M365 309.5l-2.5 4l.8-.6m-.8 .6l.2-1M100 324.5l3 7.5l0-1.6m0 1.6l-1.1-1.2M113.5 324.5l4 7.5l-.2-1.6m.2 1.6l-1.2-1M126.5 324.5l4.5 7l-.3-1.6m.3 1.6l-1.3-1M140 324.5l5 7l-.4-1.6m.4 1.6l-1.4-.9M153 324.5l5.5 7.5l-.5-1.7m.5 1.7l-1.5-1M166.5 324.5l5.5 7.5l-.5-1.7m.5 1.7l-1.5-1M179.5 324.5l4.5 7.5l-.3-1.6m.3 1.6l-1.3-1M193 324.5l3 7l-.1-1.5m.1 1.5l-1-1.1M206 324.5l.5 7l.4-1.2m-.4 1.2l-.5-1.2M219.5 324.5l-2 7l.8-1.1m-.8 1.1l-.1-1.4M232.5 324.5l-3.5 7.5l1.1-1.1m-1.1 1.1l.1-1.6M246 324.5l-4.5 8l1.4-1.1m-1.4 1.1l.3-1.7M259 324.5l-5.5 8.5l1.5-1.1m-1.5 1.1l.4-1.9M272.5 324.5l-6.5 8.5l1.7-1.1m-1.7 1.1l.6-1.9M285.5 324.5l-7.5 8l1.8-.9m-1.8 .9l.8-1.9M299 324.5l-7.5 7l1.8-.8m-1.8 .8l.9-1.8M312 324.5l-7 6.5l1.7-.7m-1.7 .7l.8-1.6M325.5 324.5l-6 5.5l1.4-.6m-1.4 .6l.7-1.4M338.5 324.5l-5 5l1.2-.5m-1.2 .5l.5-1.2M352 324.5l-4 4.5l1-.5m-1 .5l.4-1.1M365 324.5l-3 4.5l.8-.6m-.8 .6l.2-1M100 339l2 8l.2-1.5m-.2 1.5l-.9-1.3M113.5 339l3 7.5l0-1.5m0 1.5l-1-1.1M126.5 339l4 7l-.2-1.5m.2 1.5l-1.2-1M140 339l4.5 7l-.3-1.5m.3 1.5l-1.3-.9M153 339l4.5 7.5l-.3-1.6m.3 1.6l-1.3-1M166.5 339l5 8l-.3-1.7m.3 1.7l-1.4-1.1M179.5 339l4.5 7.5l-.3-1.7m.3 1.7l-1.3-1M193 339l3 7.5l0-1.5m0 1.5l-1-1.1M206 339l.5 7l.4-1.3m-.4 1.3l-.6-1.2M219.5 339l-2.5 7l.9-1.1m-.9 1.1l0-1.4M232.5 339l-4 8l1.2-1.1m-1.2 1.1l.2-1.7M246 339l-5 8.5l1.5-1.2m-1.5 1.2l.3-1.9M259 339l-6 9l1.7-1.2m-1.7 1.2l.5-2M272.5 339l-7.5 9l1.9-1.1m-1.9 1.1l.7-2.1M285.5 339l-8.5 9l2.1-1m-2.1 1l.9-2.2M299 339l-8.5 8l2.1-.9m-2.1 .9l1-2M312 339l-8 7.5l1.9-.8m-1.9 .8l.9-1.8M325.5 339l-7 6.5l1.7-.7m-1.7 .7l.8-1.6M339 339l-6 6l1.5-.7m-1.5 .7l.7-1.5M352 339l-4.5 5.5l1.2-.7m-1.2 .7l.4-1.3M365.5 339l-3.5 5l.9-.6m-.9 .6l.3-1.1M378.5 339l-2.5 4.5l.8-.6m-.8 .6l.1-1M100 353.5l1.5 7.5l.2-1.4m-.2 1.4l-.8-1.2M113.5 353.5l1.5 7l.2-1.3m-.2 1.3l-.7-1.1M126.5 353.5l2 6.5l.1-1.3m-.1 1.3l-.8-1M140 353.5l2.5 6.5l0-1.3m0 1.3l-.9-1M153 353.5l3.5 7l-.2-1.5m.2 1.5l-1.1-1M166.5 353.5l4 7.5l-.2-1.6m.2 1.6l-1.2-1.1M179.5 353.5l3.5 8l-.1-1.6m.1 1.6l-1.1-1.2M193 353.5l2 7.5l.2-1.5m-.2 1.5l-.9-1.2M206 353.5l0 7.5l.5-1.3m-.5 1.3l-.5-1.3M219.5 353.5l-2.5 7.5l1-1.2m-1 1.2l-.1-1.5M232.5 353.5l-4.5 8l1.4-1.1m-1.4 1.1l.3-1.7M246 353.5l-5.5 9l1.6-1.2m-1.6 1.2l.4-1.9M259 353.5l-6.5 9l1.8-1.2m-1.8 1.2l.6-2.1M272.5 353.5l-7.5 9l2-1.1m-2 1.1l.8-2.2M286 353.5l-8.5 9l2.1-1m-2.1 1l.9-2.2M299 353.5l-8.5 8.5l2.1-.9m-2.1 .9l.9-2.1M312.5 353.5l-7.5 7.5l1.9-.9m-1.9 .9l.9-1.9M325.5 353.5l-7 7l1.7-.8m-1.7 .8l.8-1.7M339 353.5l-6 6l1.5-.7m-1.5 .7l.7-1.5M352 353.5l-4.5 5.5l1.2-.7m-1.2 .7l.4-1.3M365.5 353.5l-3.5 5l1-.7m-1 .7l.3-1.1M378.5 353.5l-3 4.5l.8-.6m-.8 .6l.2-1M392 353.5l-2.5 4l.8-.6m-.8 .6l.2-1M100 368.5l.5 7.5l.4-1.3m-.4 1.3l-.6-1.3M113.5 368.5l0 6l.4-1.1m-.4 1.1l-.4-1.1M126.5 368.5l0 5.5l.4-1m-.4 1l-.4-1M140 368.5l.5 5.5l.3-1m-.3 1l-.5-.9M153 368.5l1.5 6.5l.2-1.2m-.2 1.2l-.7-1M166.5 368.5l3 7.5l0-1.5m0 1.5l-1-1.1M179.5 368.5l3 8l0-1.6m0 1.6l-1.1-1.2M193 368.5l1.5 8l.3-1.6m-.3 1.6l-.8-1.4M206 368.5l-.5 8l.6-1.4m-.6 1.4l-.5-1.5M219.5 368.5l-3 8l1.1-1.2m-1.1 1.2l0-1.6M232.5 368.5l-5 8.5l1.4-1.2m-1.4 1.2l.3-1.8M246 368.5l-6.5 9l1.7-1.1m-1.7 1.1l.5-2M259.5 368.5l-7 9l1.9-1.2m-1.9 1.2l.7-2.1M272.5 368.5l-7.5 9l2-1.1m-2 1.1l.7-2.2M286 368.5l-8 9l2-1.1m-2 1.1l.8-2.1M299 368.5l-7.5 8.5l1.9-1m-1.9 1l.8-2M312.5 368.5l-7 7.5l1.8-.9m-1.8 .9l.7-1.8M325.5 368.5l-6 7l1.5-.8m-1.5 .8l.6-1.6M339 368.5l-5 6l1.3-.7m-1.3 .7l.5-1.4M352 368.5l-4 5.5l1.1-.7m-1.1 .7l.3-1.3M365.5 368.5l-3.5 5l1-.7m-1 .7l.3-1.1M378.5 368.5l-3 5l.8-.7m-.8 .7l.2-1.1M392 368.5l-2.5 4.5l.8-.6m-.8 .6l.1-1M100 383l0 7.5l.5-1.4m-.5 1.4l-.5-1.4M113.5 383l-1.5 5.5l.6-.9m-.6 .9l-.1-1.1M126.5 383l-2.5 4.5l.8-.6m-.8 .6l.1-1M140 383l-2.5 4l.8-.6m-.8 .6l.2-1M153 383l0 6l.4-1m-.4 1l-.4-1M166.5 383l2.5 7.5l.1-1.5m-.1 1.5l-.9-1.2M179.5 383l3 8.5l0-1.7m0 1.7l-1.1-1.3M193 383l2 8.5l.2-1.7m-.2 1.7l-.9-1.4M206 383l-.5 8.5l.7-1.5m-.7 1.5l-.5-1.6M219.5 383l-4 8l1.2-1.1m-1.2 1.1l.2-1.7M233 383l-5 8.5l1.5-1.2m-1.5 1.2l.3-1.9M246 383l-6.5 9l1.8-1.2m-1.8 1.2l.6-2M259.5 383l-7 9l1.9-1.2m-1.9 1.2l.7-2.1M272.5 383l-7 9.5l1.9-1.2m-1.9 1.2l.6-2.2M286 383l-7 9l1.9-1.2m-1.9 1.2l.7-2.1M299 383l-6.5 8.5l1.7-1.1m-1.7 1.1l.6-1.9M312.5 383l-6 7.5l1.6-.9m-1.6 .9l.6-1.7M325.5 383l-5 6.5l1.3-.8m-1.3 .8l.5-1.5M339 383l-4.5 5.5l1.2-.7m-1.2 .7l.4-1.3M352 383l-3.5 5l1-.7m-1 .7l.3-1.1M365.5 383l-3 5l.8-.7m-.8 .7l.2-1M379 383l-2.5 5l.8-.7m-.8 .7l.1-1.1M392 383l-2 4.5l.7-.7m-.7 .7l.1-1M405.5 383l-2.5 3.5l.8-.6m-.8 .6l.3-1M100 397.5l-.5 7.5l.6-1.3m-.6 1.3l-.4-1.3M113.5 397.5l-2 6l.8-.9m-.8 .9l0-1.2M126.5 397.5l-3.5 5l.9-.6m-.9 .6l.3-1.1M140 397.5l-3.5 5l.9-.6m-.9 .6l.3-1.1M153 397.5l-1.5 5.5l.7-.9m-.7 .9l-.1-1.1M166.5 397.5l.5 7l.4-1.3m-.4 1.3l-.6-1.2M179.5 397.5l2 8l.2-1.6m-.2 1.6l-.9-1.3M193 397.5l2 8.5l.2-1.7m-.2 1.7l-.9-1.4M206 397.5l.5 9l.5-1.6m-.5 1.6l-.7-1.6M219.5 397.5l-1.5 9l.9-1.5m-.9 1.5l-.3-1.7M233 397.5l-3.5 9l1.2-1.4m-1.2 1.4l0-1.9M246 397.5l-5.5 9.5l1.6-1.3m-1.6 1.3l.3-2M259.5 397.5l-6 9.5l1.7-1.3m-1.7 1.3l.4-2.1M272.5 397.5l-6.5 9.5l1.8-1.2m-1.8 1.2l.5-2.1M286 397.5l-6 9l1.7-1.2m-1.7 1.2l.5-2M299 397.5l-5.5 8l1.5-1.1m-1.5 1.1l.4-1.8M312.5 397.5l-5 7.5l1.4-1m-1.4 1l.4-1.6M325.5 397.5l-4.5 6.5l1.2-.8m-1.2 .8l.4-1.4M339 397.5l-3.5 5.5l1-.7m-1 .7l.3-1.2M352.5 397.5l-3 4.5l.8-.6m-.8 .6l.2-1M365.5 397.5l-2 4.5l.7-.7m-.7 .7l.1-1M379 397.5l-1 5l.5-.8m-.5 .8l-.2-1M392 397.5l-.5 4.5l.5-.9m-.5 .9l-.2-1M405.5 397.5l-2.5 3.5l.8-.6m-.8 .6l.3-1M418.5 397.5l-2.5 2.5l.9-.4m-.9 .4l.4-.9M100 412l-.5 7.5l.6-1.3m-.6 1.3l-.4-1.4M113.5 412l-2.5 6.5l.9-1m-.9 1l0-1.3M126.5 412l-4 6l1.1-.8m-1.1 .8l.3-1.3M140 412l-4.5 5.5l1.2-.7m-1.2 .7l.4-1.3M153 412l-3.5 6l1-.8m-1 .8l.2-1.3M166.5 412l-1 6.5l.6-1.1m-.6 1.1l-.3-1.2M179.5 412l2 7.5l.1-1.5m-.1 1.5l-.9-1.2M193 412l3 8.5l0-1.7m0 1.7l-1.1-1.3M206.5 412l2.5 9l.2-1.8m-.2 1.8l-1.1-1.5M219.5 412l1 9.5l.5-1.8m-.5 1.8l-.8-1.6M233 412l-1 10l.8-1.7m-.8 1.7l-.5-1.8M246 412l-4 10l1.3-1.5m-1.3 1.5l0-2M259.5 412l-5 9.5l1.6-1.4m-1.6 1.4l.3-2.1M272.5 412l-5 9.5l1.5-1.4m-1.5 1.4l.3-2M286 412l-5 9l1.5-1.3m-1.5 1.3l.3-1.9M299 412l-4.5 8l1.4-1.2m-1.4 1.2l.3-1.8M312.5 412l-4.5 7l1.3-1m-1.3 1l.3-1.6M326 412l-4.5 6.5l1.2-.8m-1.2 .8l.4-1.4M339 412l-4 5.5l1.1-.7m-1.1 .7l.3-1.2M352.5 412l-3 5l.9-.7m-.9 .7l.2-1.1M365.5 412l-2 5l.7-.8m-.7 .8l0-1M379 412l-1 5.5l.5-.9m-.5 .9l-.2-1M392 412l-.5 5l.4-.9m-.4 .9l-.3-1M405.5 412l-1.5 4l.7-.8m-.7 .8l0-1M419 412l-1.5 3l.7-.7m-.7 .7l.1-1M432 412l-1 2l.7-.7m-.7 .7l.1-1M100 427l.5 8l.4-1.4m-.4 1.4l-.6-1.4M113.5 427l-2.5 7l.9-1.1m-.9 1.1l0-1.4M126.5 427l-4.5 6.5l1.2-.9m-1.2 .9l.4-1.5M140 427l-6 6l1.5-.7m-1.5 .7l.7-1.5M153 427l-5 6l1.3-.7m-1.3 .7l.5-1.4M166.5 427l-2.5 6.5l.8-1m-.8 1l0-1.3M179.5 427l1.5 7l.2-1.3m-.2 1.3l-.7-1.1M193 427l3 8l0-1.7m0 1.7l-1.1-1.2M206.5 427l3.5 9l0-1.8m0 1.8l-1.2-1.4M219.5 427l3 9.5l.1-1.9m-.1 1.9l-1.2-1.5M233 427l1 10l.5-1.8m-.5 1.8l-.8-1.7M246 427l-2.5 10l1.1-1.6m-1.1 1.6l-.2-1.9M259.5 427l-4 10l1.3-1.5m-1.3 1.5l0-2M272.5 427l-4 9.5l1.3-1.4m-1.3 1.4l.1-2M286 427l-4 9l1.3-1.3m-1.3 1.3l.1-1.9M299.5 427l-4.5 8.5l1.4-1.2m-1.4 1.2l.2-1.8M312.5 427l-5 7.5l1.4-1m-1.4 1l.4-1.6M326 427l-5 6.5l1.3-.8m-1.3 .8l.4-1.5M339 427l-4.5 5.5l1.2-.7m-1.2 .7l.4-1.3M352.5 427l-4 5.5l1.1-.7m-1.1 .7l.3-1.2M365.5 427l-3 6l.9-.9m-.9 .9l.1-1.2M379 427l-1.5 6.5l.7-1.1m-.7 1.1l-.2-1.3M392.5 427l-.5 6.5l.5-1.1m-.5 1.1l-.3-1.2M405.5 427l0 5l.4-.9m-.4 .9l-.4-.9M419 427l0 3.5l.4-.9m-.4 .9l-.4-.9M432 427l0 2l.4-.9m-.4 .9l-.4-.9M100 441.5l.5 8l.4-1.4m-.4 1.4l-.6-1.4M113.5 441.5l-1.5 7.5l.8-1.2m-.8 1.2l-.2-1.4M126.5 441.5l-3.5 7l1.1-1m-1.1 1l.2-1.5M140 441.5l-5 7l1.3-.9m-1.3 .9l.4-1.6M153 441.5l-5 6.5l1.3-.8m-1.3 .8l.5-1.5M166.5 441.5l-3.5 6.5l1-.9m-1 .9l.2-1.4M179.5 441.5l-1 6.5l.6-1.1m-.6 1.1l-.3-1.3M193 441.5l1 7l.3-1.3m-.3 1.3l-.7-1.2M206.5 441.5l2 7.5l.1-1.5m-.1 1.5l-.9-1.2M219.5 441.5l2.5 8l.1-1.6m-.1 1.6l-1-1.3M233 441.5l1.5 9l.3-1.7m-.3 1.7l-.9-1.5M246 441.5l0 9l.6-1.6m-.6 1.6l-.6-1.6M259.5 441.5l-1.5 9.5l.9-1.6m-.9 1.6l-.4-1.8M272.5 441.5l-2 9.5l1-1.5m-1 1.5l-.3-1.8M286 441.5l-3.5 9l1.2-1.4m-1.2 1.4l0-1.9M299.5 441.5l-4.5 8.5l1.4-1.3m-1.4 1.3l.2-1.9M312.5 441.5l-5 7.5l1.4-1m-1.4 1l.4-1.7M326 441.5l-5.5 6.5l1.4-.8m-1.4 .8l.5-1.5M339 441.5l-5.5 5.5l1.3-.6m-1.3 .6l.6-1.3M352.5 441.5l-5 6l1.3-.7m-1.3 .7l.5-1.4M366 441.5l-4 7l1.2-1m-1.2 1l.2-1.5M379 441.5l-2 8l.9-1.3m-.9 1.3l-.2-1.6M392.5 441.5l0 8l.6-1.5m-.6 1.5l-.6-1.5M405.5 441.5l1 6.5l.2-1.2m-.2 1.2l-.6-1.1M419 441.5l1 4l.1-1m-.1 1l-.6-.8M432 441.5l.5 2l.1-1m-.1 1l-.6-.8M445.5 441.5l.5 1.5l0-1m0 1l-.6-.8M100 456l1.5 8l.3-1.5m-.3 1.5l-.8-1.3M113 456l-.5 8l.6-1.4m-.6 1.4l-.4-1.4M126.5 456l-3 7.5l1-1.1m-1 1.1l0-1.5M140 456l-4.5 7.5l1.3-1m-1.3 1l.3-1.6M153 456l-5.5 7l1.4-.9m-1.4 .9l.5-1.6M166.5 456l-4.5 7l1.3-.9m-1.3 .9l.3-1.5M179.5 456l-3.5 6.5l1-.9m-1 .9l.2-1.3M193 456l-1.5 6l.6-.9m-.6 .9l-.1-1.1M206.5 456l0 6l.4-1m-.4 1l-.4-1M219.5 456l1.5 6.5l.2-1.3m-.2 1.3l-.7-1.1M233 456l1.5 7.5l.2-1.5m-.2 1.5l-.8-1.3M246 456l1.5 8.5l.3-1.6m-.3 1.6l-.8-1.4M259.5 456l1 9l.4-1.6m-.4 1.6l-.8-1.5M273 456l0 9l.6-1.6m-.6 1.6l-.6-1.6M286 456l-1.5 9l.9-1.5m-.9 1.5l-.3-1.7M299.5 456l-3.5 9l1.2-1.4m-1.2 1.4l0-1.8M312.5 456l-4.5 8l1.3-1.1m-1.3 1.1l.3-1.7M326 456l-5 6.5l1.4-.8m-1.4 .8l.5-1.5M339.5 456l-5.5 6l1.4-.7m-1.4 .7l.6-1.4M352.5 456l-5 6.5l1.3-.8m-1.3 .8l.5-1.5M366 456l-4 8l1.2-1.2m-1.2 1.2l.2-1.7M379 456l-2 9l1-1.5m-1 1.5l-.3-1.8M392.5 456l0 9.5l.6-1.7m-.6 1.7l-.6-1.7M405.5 456l1.5 7l.2-1.4m-.2 1.4l-.8-1.2M419 456l1.5 4.5l0-1m0 1l-.6-.8M432.5 456l1 2.5l0-1m0 1l-.7-.7M445.5 456l1 2l-.1-1m.1 1l-.7-.7M100 470.5l2 8l.2-1.6m-.2 1.6l-.9-1.3M113 470.5l1 8l.4-1.5m-.4 1.5l-.7-1.4M126.5 470.5l-2 8l.9-1.3m-.9 1.3l-.2-1.5M140 470.5l-5 8l1.4-1.1m-1.4 1.1l.4-1.7M153 470.5l-5.5 7.5l1.5-1m-1.5 1l.5-1.7M166.5 470.5l-6 7l1.5-.8m-1.5 .8l.6-1.7M179.5 470.5l-5 6l1.3-.7m-1.3 .7l.5-1.4M193 470.5l-3.5 5l.9-.6m-.9 .6l.3-1.1M206.5 470.5l-1.5 4.5l.6-.8m-.6 .8l0-1M219.5 470.5l.5 5.5l.3-1m-.3 1l-.5-.9M233 470.5l1.5 7l.2-1.3m-.2 1.3l-.7-1.1M246 470.5l2.5 8l.1-1.6m-.1 1.6l-1-1.2M259.5 470.5l2 8.5l.2-1.6m-.2 1.6l-.9-1.4M273 470.5l1.5 9l.3-1.7m-.3 1.7l-.8-1.5M286 470.5l1 9l.4-1.7m-.4 1.7l-.8-1.5M299.5 470.5l-1 9l.8-1.5m-.8 1.5l-.4-1.6M312.5 470.5l-3 8l1.1-1.2m-1.1 1.2l0-1.7M326 470.5l-4 7.5l1.2-1.1m-1.2 1.1l.2-1.6M339.5 470.5l-4.5 7.5l1.3-1m-1.3 1l.3-1.6M352.5 470.5l-4.5 8l1.3-1.1m-1.3 1.1l.3-1.7M366 470.5l-3.5 8.5l1.2-1.3m-1.2 1.3l.1-1.8M379 470.5l-2 9l1-1.5m-1 1.5l-.3-1.8M392.5 470.5l-.5 9l.7-1.6m-.7 1.6l-.5-1.6M406 470.5l.5 7.5l.4-1.4m-.4 1.4l-.6-1.3M419 470.5l1.5 6l.1-1.1m-.1 1.1l-.6-.9M432.5 470.5l1.5 4l0-1m0 1l-.7-.8M445.5 470.5l1.5 2.5l-.2-1m.2 1l-.8-.6M459 470.5l1.5 2l-.3-1m.3 1l-.8-.5M100 485l2 8l.2-1.5m-.2 1.5l-.9-1.3M113 485l1 8l.3-1.5m-.3 1.5l-.7-1.3M126.5 485l-1.5 8l.8-1.3m-.8 1.3l-.3-1.5M140 485l-3.5 7.5l1.1-1.1m-1.1 1.1l.1-1.6M153 485l-4.5 7.5l1.3-1m-1.3 1l.3-1.6M166.5 485l-5.5 7l1.4-.9m-1.4 .9l.5-1.6M179.5 485l-5 6l1.3-.7m-1.3 .7l.5-1.4M193 485l-4 5.5l1.1-.7m-1.1 .7l.3-1.2M206.5 485l-2.5 5l.8-.8m-.8 .8l.1-1.1M219.5 485l-1 6l.6-1m-.6 1l-.2-1.1M233 485l0 6.5l.4-1.2m-.4 1.2l-.4-1.2M246.5 485l1 7.5l.3-1.4m-.3 1.4l-.7-1.3M259.5 485l1 8l.4-1.5m-.4 1.5l-.7-1.4M273 485l1 8.5l.4-1.6m-.4 1.6l-.7-1.4M286 485l1 9l.4-1.6m-.4 1.6l-.8-1.5M299.5 485l0 9l.6-1.6m-.6 1.6l-.6-1.6M313 485l-2 8.5l.9-1.4m-.9 1.4l-.2-1.7M326 485l-3 8.5l1.1-1.3m-1.1 1.3l0-1.7M339.5 485l-4 8.5l1.3-1.2m-1.3 1.2l.1-1.8M352.5 485l-4 8.5l1.3-1.3m-1.3 1.3l.1-1.8M366 485l-3 9l1.2-1.4m-1.2 1.4l-.1-1.8M379.5 485l-2 9.5l1-1.6m-1 1.6l-.3-1.8M392.5 485l-1 9.5l.8-1.6m-.8 1.6l-.4-1.7M406 485l0 8.5l.6-1.5m-.6 1.5l-.6-1.5M419 485l1 7l.3-1.3m-.3 1.3l-.6-1.2M432.5 485l1.5 5l.1-1m-.1 1l-.6-.8M446 485l2 3.5l-.2-1m.2 1l-.8-.6M459 485l2 2.5l-.3-1m.3 1l-.9-.5M472.5 485l1.5 2l-.3-1m.3 1l-.8-.5M100 500l2 7.5l.1-1.5m-.1 1.5l-.9-1.2M113 500l1 7.5l.3-1.4m-.3 1.4l-.7-1.3M126.5 500l-.5 7.5l.6-1.3m-.6 1.3l-.4-1.4M140 500l-2.5 7.5l.9-1.2m-.9 1.2l-.1-1.5M153 500l-3.5 7.5l1.1-1.1m-1.1 1.1l.1-1.5M166.5 500l-4.5 7l1.3-.9m-1.3 .9l.3-1.5M179.5 500l-4.5 6.5l1.3-.9m-1.3 .9l.4-1.5M193 500l-4 6.5l1.1-.9m-1.1 .9l.3-1.4M206.5 500l-3.5 6l1-.9m-1 .9l.2-1.3M219.5 500l-2.5 6.5l.9-1m-.9 1l0-1.3M233 500l-1.5 7l.7-1.1m-.7 1.1l-.2-1.3M246.5 500l-1 7.5l.7-1.3m-.7 1.3l-.3-1.4M259.5 500l-.5 8l.6-1.4m-.6 1.4l-.4-1.4M273 500l-.5 8.5l.6-1.4m-.6 1.4l-.5-1.5M286 500l-.5 8.5l.7-1.5m-.7 1.5l-.5-1.6M299.5 500l0 9l.6-1.6m-.6 1.6l-.6-1.6M313 500l-1.5 9l.9-1.5m-.9 1.5l-.3-1.7M326 500l-3 9l1.1-1.4m-1.1 1.4l-.1-1.8M339.5 500l-4 9l1.3-1.3m-1.3 1.3l.1-1.9M353 500l-3.5 9.5l1.2-1.4m-1.2 1.4l0-1.9M366 500l-3 9.5l1.2-1.5m-1.2 1.5l-.1-1.9M379.5 500l-2 10l1-1.6m-1 1.6l-.3-1.9M392.5 500l-1 9.5l.8-1.7m-.8 1.7l-.5-1.8M406 500l0 9l.6-1.6m-.6 1.6l-.6-1.6M419.5 500l1 8l.4-1.5m-.4 1.5l-.7-1.4M432.5 500l2 6.5l.1-1.3m-.1 1.3l-.8-1M446 500l2 4l-.1-1m.1 1l-.7-.7M459 500l2 3l-.2-1m.2 1l-.8-.6M472.5 500l2 2.5l-.3-1m.3 1l-.9-.5M100 514.5l2.5 7.5l.1-1.5m-.1 1.5l-.9-1.1M113 514.5l1.5 7.5l.2-1.4m-.2 1.4l-.7-1.2M126.5 514.5l0 7.5l.5-1.3m-.5 1.3l-.5-1.3M140 514.5l-1.5 7l.8-1.2m-.8 1.2l-.2-1.4M153 514.5l-2.5 7l.9-1.1m-.9 1.1l0-1.4M166.5 514.5l-3.5 7.5l1.1-1.1m-1.1 1.1l.1-1.5M179.5 514.5l-4 7l1.2-1m-1.2 1l.3-1.6M193 514.5l-4.5 7l1.3-.9m-1.3 .9l.3-1.5M206.5 514.5l-4 7l1.2-1m-1.2 1l.2-1.5M219.5 514.5l-4 7l1.2-1m-1.2 1l.2-1.5M233 514.5l-3.5 7.5l1.1-1.1m-1.1 1.1l.1-1.6M246.5 514.5l-3 7.5l1.1-1.2m-1.1 1.2l0-1.6M259.5 514.5l-2.5 8l1-1.2m-1 1.2l-.1-1.6M273 514.5l-2.5 8l1-1.3m-1 1.3l-.1-1.6M286.5 514.5l-2.5 8.5l1-1.3m-1 1.3l-.1-1.6M299.5 514.5l-2 8.5l1-1.4m-1 1.4l-.2-1.7M313 514.5l-2.5 9l1-1.4m-1 1.4l-.2-1.8M326 514.5l-3 9l1.2-1.4m-1.2 1.4l-.1-1.8M339.5 514.5l-3.5 9.5l1.2-1.4m-1.2 1.4l0-1.9M353 514.5l-3 9.5l1.2-1.5m-1.2 1.5l-.1-1.9M366 514.5l-2.5 10l1.1-1.6m-1.1 1.6l-.2-1.9M379.5 514.5l-2 10l1-1.7m-1 1.7l-.3-1.9M393 514.5l-1 10l.9-1.7m-.9 1.7l-.5-1.9M406 514.5l0 9.5l.6-1.7m-.6 1.7l-.6-1.7M419.5 514.5l1 8.5l.4-1.6m-.4 1.6l-.8-1.5M432.5 514.5l2 7l.1-1.4m-.1 1.4l-.9-1.1M446 514.5l2 5.5l0-1.1m0 1.1l-.7-.8M459.5 514.5l2 4l-.1-1m.1 1l-.7-.7M472.5 514.5l2 3.5l-.2-1m.2 1l-.8-.6M486 514.5l1.5 3l-.1-1m.1 1l-.7-.7M100 529l3 7l-.1-1.4m.1 1.4l-1-1M113 529l2 7l.1-1.4m-.1 1.4l-.8-1.1M126.5 529l.5 7l.4-1.3m-.4 1.3l-.6-1.2M140 529l-.5 7l.6-1.2m-.6 1.2l-.4-1.3M153 529l-1.5 7l.7-1.2m-.7 1.2l-.2-1.4M166.5 529l-3 7.5l1-1.1m-1 1.1l0-1.5M180 529l-4 8l1.2-1.1m-1.2 1.1l.2-1.7M193 529l-4.5 8l1.3-1.1m-1.3 1.1l.3-1.7M206.5 529l-4.5 7.5l1.3-1.1m-1.3 1.1l.3-1.7M219.5 529l-4.5 8l1.3-1.1m-1.3 1.1l.3-1.7M233 529l-5 8l1.4-1.1m-1.4 1.1l.3-1.7M246.5 529l-4 8l1.3-1.2m-1.3 1.2l.2-1.7M259.5 529l-4 8l1.3-1.2m-1.3 1.2l.2-1.7M273 529l-4 8l1.3-1.2m-1.3 1.2l.2-1.7M286.5 529l-4.5 8l1.4-1.1m-1.4 1.1l.3-1.7M299.5 529l-3.5 8.5l1.2-1.3m-1.2 1.3l.1-1.8M313 529l-3 9l1.2-1.4m-1.2 1.4l-.1-1.8M326.5 529l-2.5 9.5l1.1-1.5m-1.1 1.5l-.2-1.9M339.5 529l-3 9.5l1.2-1.5m-1.2 1.5l-.1-1.9M353 529l-2.5 10l1.1-1.6m-1.1 1.6l-.2-1.9M366 529l-2 10l1-1.7m-1 1.7l-.3-2M379.5 529l-1.5 10.5l1-1.8m-1 1.8l-.4-2M393 529l-.5 10.5l.8-1.8m-.8 1.8l-.6-1.9M406 529l.5 10l.6-1.8m-.6 1.8l-.8-1.8M419.5 529l1.5 9.5l.4-1.8m-.4 1.8l-.9-1.6M433 529l2 8.5l.2-1.6m-.2 1.6l-.9-1.4M446 529l2.5 7l0-1.4m0 1.4l-.9-1.1M459.5 529l2.5 6l0-1.2m0 1.2l-.8-.9M473 529l2 4.5l-.1-1m.1 1l-.7-.7M486 529l1.5 4l0-1m0 1l-.7-.8M100 543.5l3 7l-.1-1.4m.1 1.4l-1-1M113 543.5l2 7l.1-1.4m-.1 1.4l-.8-1.1M126.5 543.5l1.5 7l.2-1.4m-.2 1.4l-.7-1.2M140 543.5l.5 7l.4-1.3m-.4 1.3l-.6-1.2M153 543.5l-.5 7.5l.6-1.3m-.6 1.3l-.4-1.3M166.5 543.5l-2 7.5l.9-1.2m-.9 1.2l-.1-1.5M180 543.5l-3 8l1.1-1.2m-1.1 1.2l0-1.6M193 543.5l-3.5 8l1.2-1.2m-1.2 1.2l.1-1.7M206.5 543.5l-4 8l1.3-1.2m-1.3 1.2l.2-1.7M219.5 543.5l-4.5 8.5l1.3-1.2m-1.3 1.2l.2-1.8M233 543.5l-4.5 8.5l1.4-1.2m-1.4 1.2l.2-1.8M246.5 543.5l-4.5 8.5l1.4-1.2m-1.4 1.2l.2-1.8M259.5 543.5l-4.5 8.5l1.3-1.2m-1.3 1.2l.2-1.8M273 543.5l-4 8.5l1.3-1.3m-1.3 1.3l.1-1.8M286.5 543.5l-4 9l1.3-1.3m-1.3 1.3l.1-1.8M299.5 543.5l-3 9.5l1.2-1.5m-1.2 1.5l-.1-1.9M313 543.5l-2.5 9.5l1.1-1.6m-1.1 1.6l-.2-1.9M326.5 543.5l-2.5 10l1.1-1.6m-1.1 1.6l-.2-1.9M339.5 543.5l-2.5 10l1.1-1.6m-1.1 1.6l-.2-1.9M353 543.5l-2 10l1-1.7m-1 1.7l-.3-1.9M366.5 543.5l-1.5 10.5l1-1.8m-1 1.8l-.4-1.9M379.5 543.5l-1 10.5l.9-1.8m-.9 1.8l-.5-2M393 543.5l-.5 11l.8-1.9m-.8 1.9l-.6-2M406.5 543.5l.5 10.5l.6-1.9m-.6 1.9l-.8-1.9M419.5 543.5l2 10l.3-1.9m-.3 1.9l-1-1.7M433 543.5l3 9.5l.1-1.9m-.1 1.9l-1.1-1.5M446 543.5l3 8.5l0-1.7m0 1.7l-1.1-1.3M459.5 543.5l2.5 7.5l.1-1.5m-.1 1.5l-.9-1.1M473 543.5l2 5.5l0-1.1m0 1.1l-.7-.8M486 543.5l1 4.5l.1-1m-.1 1l-.5-.8M499.5 543.5l1.5 4.5l0-1m0 1l-.6-.8M100 558l3 7l-.1-1.4m.1 1.4l-1-1M113 558l2.5 7l0-1.4m0 1.4l-.9-1.1M126.5 558l1.5 7l.2-1.4m-.2 1.4l-.8-1.2M140 558l1 7.5l.3-1.4m-.3 1.4l-.7-1.2M153 558l0 7.5l.5-1.3m-.5 1.3l-.5-1.3M166.5 558l-.5 8l.6-1.4m-.6 1.4l-.4-1.4M180 558l-1.5 8l.8-1.3m-.8 1.3l-.3-1.6M193 558l-2.5 8.5l1-1.3m-1 1.3l-.1-1.7M206.5 558l-3.5 8.5l1.2-1.3m-1.2 1.3l.1-1.7M220 558l-4 8.5l1.3-1.3m-1.3 1.3l.1-1.8M233 558l-4 8.5l1.3-1.3m-1.3 1.3l.1-1.8M246.5 558l-4 8.5l1.3-1.3m-1.3 1.3l.1-1.8M259.5 558l-4 8.5l1.3-1.3m-1.3 1.3l.1-1.8M273 558l-4 9l1.3-1.3m-1.3 1.3l.1-1.8M286.5 558l-3 9l1.2-1.4m-1.2 1.4l-.1-1.9M299.5 558l-2 10l1-1.6m-1 1.6l-.3-1.9M313 558l-2 10l1-1.6m-1 1.6l-.3-1.9M326.5 558l-1.5 10l.9-1.7m-.9 1.7l-.4-1.9M339.5 558l-1.5 10l1-1.7m-1 1.7l-.4-1.9M353 558l-1.5 10.5l.9-1.7m-.9 1.7l-.4-1.9M366.5 558l-1 10.5l.9-1.8m-.9 1.8l-.5-2M379.5 558l-.5 11l.8-1.9m-.8 1.9l-.6-2M393 558l0 11l.7-2m-.7 2l-.7-2M406.5 558l.5 11l.6-2m-.6 2l-.8-1.9M419.5 558l2 10.5l.3-2m-.3 2l-1.1-1.7M433 558l3 10l.1-2m-.1 2l-1.2-1.6M446.5 558l3.5 9l0-1.9m0 1.9l-1.2-1.4M459.5 558l3 8l0-1.7m0 1.7l-1.1-1.3M473 558l2 6.5l.1-1.3m-.1 1.3l-.8-1M486.5 558l1.5 5.5l.1-1.1m-.1 1.1l-.6-.9M499.5 558l1.5 5.5l.1-1m-.1 1l-.6-.8M100 572.5l3 7l-.1-1.4m.1 1.4l-1-1M113 572.5l2.5 7l0-1.4m0 1.4l-.9-1.1M126.5 572.5l2 7l.1-1.4m-.1 1.4l-.9-1.2M140 572.5l1.5 7.5l.2-1.4m-.2 1.4l-.8-1.2M153 572.5l1 7.5l.3-1.4m-.3 1.4l-.7-1.3M166.5 572.5l.5 8l.4-1.4m-.4 1.4l-.6-1.4M180 572.5l-.5 8l.6-1.4m-.6 1.4l-.5-1.5M193 572.5l-1.5 8.5l.8-1.4m-.8 1.4l-.3-1.6M206.5 572.5l-2.5 8.5l1-1.4m-1 1.4l-.1-1.7M220 572.5l-3.5 9l1.2-1.3m-1.2 1.3l0-1.8M233 572.5l-3.5 9l1.2-1.4m-1.2 1.4l0-1.8M246.5 572.5l-3.5 9l1.2-1.3m-1.2 1.3l0-1.8M260 572.5l-3.5 9l1.2-1.3m-1.2 1.3l0-1.8M273 572.5l-3 9l1.1-1.4m-1.1 1.4l-.1-1.8M286.5 572.5l-3 9l1.1-1.4m-1.1 1.4l-.1-1.8M300 572.5l-2 9.5l1-1.6m-1 1.6l-.3-1.9M313 572.5l-1.5 10l.9-1.7m-.9 1.7l-.4-1.9M326.5 572.5l-1 10.5l.9-1.8m-.9 1.8l-.5-1.9M340 572.5l-.5 10.5l.8-1.8m-.8 1.8l-.6-1.9M353 572.5l-.5 10.5l.8-1.9m-.8 1.9l-.6-1.9M366.5 572.5l-.5 11l.8-1.9m-.8 1.9l-.6-2M380 572.5l-.5 11l.8-1.9m-.8 1.9l-.6-2M393 572.5l0 11l.7-2m-.7 2l-.7-2M406.5 572.5l1 11l.6-2m-.6 2l-.9-1.9M420 572.5l2 10.5l.4-2m-.4 2l-1.1-1.8M433 572.5l3 10.5l.2-2m-.2 2l-1.2-1.6M446.5 572.5l3.5 9.5l0-1.9m0 1.9l-1.3-1.5M460 572.5l3 8.5l0-1.8m0 1.8l-1.1-1.4M473 572.5l2.5 7.5l.1-1.5m-.1 1.5l-1-1.2M486.5 572.5l2 7l.1-1.4m-.1 1.4l-.8-1.1M500 572.5l1.5 6.5l.2-1.2m-.2 1.2l-.7-1M513 572.5l1.5 6l.1-1.2m-.1 1.2l-.7-1M100 587l3 7l-.1-1.5m.1 1.5l-1-1.1M113 587l3 7l-.1-1.5m.1 1.5l-1-1.1M126.5 587l2.5 7l0-1.5m0 1.5l-.9-1.1M140 587l2.5 7.5l.1-1.5m-.1 1.5l-.9-1.1M153 587l2 7.5l.1-1.5m-.1 1.5l-.9-1.2M166.5 587l1.5 8l.3-1.5m-.3 1.5l-.8-1.3M180 587l1 8l.4-1.5m-.4 1.5l-.7-1.4M193 587l0 8.5l.6-1.5m-.6 1.5l-.6-1.5M206.5 587l-1 8.5l.8-1.5m-.8 1.5l-.4-1.6M220 587l-2 9l1-1.5m-1 1.5l-.2-1.7M233 587l-2 9l1-1.5m-1 1.5l-.2-1.7M246.5 587l-2 9l1-1.5m-1 1.5l-.2-1.7M260 587l-2 9l1-1.5m-1 1.5l-.2-1.7M273 587l-2 9l1-1.5m-1 1.5l-.2-1.7M286.5 587l-2 9l1-1.5m-1 1.5l-.3-1.8M300 587l-1.5 10l.9-1.7m-.9 1.7l-.4-1.9M313 587l-.5 10.5l.8-1.8m-.8 1.8l-.6-1.9M326.5 587l0 10.5l.7-1.9m-.7 1.9l-.7-1.9M340 587l.5 11l.6-2m-.6 2l-.8-1.9M353 587l.5 11l.6-2m-.6 2l-.8-1.9M366.5 587l.5 11l.7-2m-.7 2l-.8-1.9M380 587l0 11l.7-2m-.7 2l-.7-2M393 587l0 11l.7-2m-.7 2l-.7-2M406.5 587l.5 11l.6-2m-.6 2l-.8-1.9M420 587l1.5 11l.5-2.1m-.5 2.1l-1-1.9M433 587l3 10.5l.2-2.1m-.2 2.1l-1.2-1.7M446.5 587l4 10l0-2m0 2l-1.4-1.5M460 587l3.5 9.5l0-1.9m0 1.9l-1.2-1.4M473 587l2.5 8.5l.1-1.7m-.1 1.7l-1-1.4M486.5 587l2 8l.2-1.6m-.2 1.6l-.9-1.3M500 587l1.5 7.5l.2-1.4m-.2 1.4l-.8-1.2M513 587l1.5 7l.2-1.3m-.2 1.3l-.7-1.1M99.5 601.5l3.5 7l-.2-1.5m.2 1.5l-1.1-1M113 601.5l3.5 7l-.2-1.5m.2 1.5l-1.1-1M126.5 601.5l3 7l-.1-1.5m.1 1.5l-1-1.1M140 601.5l3 7l-.1-1.5m.1 1.5l-1-1.1M153 601.5l3 7.5l0-1.5m0 1.5l-1-1.1M166.5 601.5l2.5 7.5l.1-1.5m-.1 1.5l-.9-1.2M180 601.5l2 7.5l.2-1.5m-.2 1.5l-.9-1.2M193 601.5l1.5 8l.3-1.5m-.3 1.5l-.8-1.3M206.5 601.5l.5 8.5l.5-1.5m-.5 1.5l-.7-1.5M220 601.5l0 9l.6-1.6m-.6 1.6l-.6-1.6M233 601.5l-.5 9l.7-1.6m-.7 1.6l-.5-1.6M246.5 601.5l-.5 9l.7-1.6m-.7 1.6l-.5-1.6M260 601.5l-1 9l.8-1.5m-.8 1.5l-.4-1.7M273 601.5l-.5 9l.7-1.6m-.7 1.6l-.5-1.6M286.5 601.5l-.5 9.5l.7-1.6m-.7 1.6l-.5-1.7M300 601.5l0 10l.7-1.8m-.7 1.8l-.7-1.8M313 601.5l.5 10.5l.6-1.9m-.6 1.9l-.8-1.8M326.5 601.5l.5 11l.6-2m-.6 2l-.8-1.9M340 601.5l1 11.5l.6-2.1m-.6 2.1l-.9-1.9M353 601.5l1 11.5l.6-2.1m-.6 2.1l-.9-2M366.5 601.5l.5 11.5l.7-2.1m-.7 2.1l-.9-2M380 601.5l0 11.5l.8-2.1m-.8 2.1l-.8-2.1M393.5 601.5l0 11.5l.8-2m-.8 2l-.8-2M406.5 601.5l.5 11.5l.7-2.1m-.7 2.1l-.9-2M420 601.5l1.5 11.5l.5-2.1m-.5 2.1l-1-1.9M433.5 601.5l2.5 11l.3-2.2m-.3 2.2l-1.2-1.8M446.5 601.5l3 11l.2-2.1m-.2 2.1l-1.3-1.7M460 601.5l2.5 10l.2-2m-.2 2l-1.1-1.6M473.5 601.5l1.5 9.5l.4-1.8m-.4 1.8l-.9-1.6M486.5 601.5l.5 9l.5-1.6m-.5 1.6l-.7-1.5M500 601.5l0 8.5l.6-1.5m-.6 1.5l-.6-1.5M513.5 601.5l0 8l.5-1.4m-.5 1.4l-.5-1.4M526.5 601.5l1 7.5l.3-1.4m-.3 1.4l-.7-1.3M99.5 616l4 7l-.2-1.5m.2 1.5l-1.2-1M113 616l3.5 7l-.2-1.5m.2 1.5l-1.1-1M126.5 616l3.5 7l-.2-1.5m.2 1.5l-1.1-1M140 616l3.5 7l-.2-1.5m.2 1.5l-1.1-1M153 616l3.5 7l-.2-1.5m.2 1.5l-1.1-1M166.5 616l3.5 7l-.2-1.5m.2 1.5l-1.1-1M180 616l3.5 7l-.2-1.5m.2 1.5l-1.1-1M193 616l3 7.5l0-1.5m0 1.5l-1-1.1M206.5 616l2 8l.2-1.6m-.2 1.6l-.9-1.3M220 616l1.5 8.5l.3-1.6m-.3 1.6l-.9-1.4M233 616l1 9l.4-1.7m-.4 1.7l-.8-1.5M246.5 616l.5 9l.5-1.6m-.5 1.6l-.7-1.6M260 616l.5 9l.5-1.6m-.5 1.6l-.7-1.5M273 616l.5 9l.5-1.6m-.5 1.6l-.7-1.6M286.5 616l1 9l.4-1.7m-.4 1.7l-.8-1.6M300 616l1 9.5l.5-1.8m-.5 1.8l-.8-1.7M313.5 616l1 10.5l.5-1.9m-.5 1.9l-.9-1.8M326.5 616l1 11l.6-2.1m-.6 2.1l-.9-1.9M340 616l1 12l.6-2.2m-.6 2.2l-1-2M353.5 616l1 12l.6-2.2m-.6 2.2l-1-2.1M366.5 616l.5 12l.7-2.2m-.7 2.2l-.9-2.1M380 616l.5 12l.7-2.2m-.7 2.2l-.9-2.1M393.5 616l0 12l.8-2.1m-.8 2.1l-.8-2.1M406.5 616l.5 12l.7-2.1m-.7 2.1l-.9-2.1M420 616l1 12l.6-2.2m-.6 2.2l-1-2.1M433.5 616l2 12l.4-2.2m-.4 2.2l-1.1-2M446.5 616l2 12l.4-2.2m-.4 2.2l-1.1-2M460 616l1 11l.6-2m-.6 2l-.9-1.9M473.5 616l-.5 10l.8-1.8m-.8 1.8l-.6-1.9M487 616l-1.5 9.5l.9-1.6m-.9 1.6l-.4-1.8M500 616l-2 9l1-1.5m-1 1.5l-.2-1.8M513.5 616l-1.5 8.5l.8-1.4m-.8 1.4l-.3-1.6M527 616l1 8l.4-1.5m-.4 1.5l-.7-1.4M99.5 630.5l4 6.5l-.3-1.4m.3 1.4l-1.2-.9M113 630.5l4 6.5l-.3-1.4m.3 1.4l-1.1-.9M126.5 630.5l4 6.5l-.3-1.4m.3 1.4l-1.1-.9M140 630.5l4 6.5l-.3-1.4m.3 1.4l-1.1-.9M153 630.5l4 6.5l-.3-1.4m.3 1.4l-1.1-.9M166.5 630.5l4 6.5l-.3-1.4m.3 1.4l-1.2-.9M180 630.5l4 7l-.2-1.5m.2 1.5l-1.2-1M193 630.5l4 7l-.2-1.5m.2 1.5l-1.2-1M206.5 630.5l3 7.5l0-1.6m0 1.6l-1.1-1.2M220 630.5l2.5 8.5l.1-1.6m-.1 1.6l-1-1.3M233 630.5l2 8.5l.2-1.7m-.2 1.7l-.9-1.4M246.5 630.5l1.5 8.5l.3-1.6m-.3 1.6l-.8-1.4M260 630.5l1.5 8.5l.3-1.6m-.3 1.6l-.8-1.4M273.5 630.5l1.5 8.5l.3-1.6m-.3 1.6l-.8-1.4M286.5 630.5l2 9l.2-1.7m-.2 1.7l-.9-1.4M300 630.5l2 9.5l.3-1.8m-.3 1.8l-1-1.5M313.5 630.5l1.5 10l.4-1.9m-.4 1.9l-1-1.7M326.5 630.5l1.5 11l.5-2.1m-.5 2.1l-1-1.9M340 630.5l1 12l.6-2.2m-.6 2.2l-1-2M353.5 630.5l1 12l.6-2.2m-.6 2.2l-1-2.1M366.5 630.5l1 12.5l.6-2.2m-.6 2.2l-1-2.1M380 630.5l.5 12.5l.7-2.2m-.7 2.2l-.9-2.2M393.5 630.5l.5 12.5l.7-2.2m-.7 2.2l-.9-2.2M407 630.5l.5 12.5l.7-2.2m-.7 2.2l-.9-2.2M420 630.5l1 12.5l.7-2.3m-.7 2.3l-1-2.1M433.5 630.5l1.5 12.5l.6-2.3m-.6 2.3l-1.1-2.1M447 630.5l1 12l.6-2.2m-.6 2.2l-1-2.1M460 630.5l0 11.5l.8-2.1m-.8 2.1l-.8-2.1M473.5 630.5l-1.5 11l1-1.8m-1 1.8l-.5-2M487 630.5l-2.5 10.5l1.1-1.7m-1.1 1.7l-.3-2M500 630.5l-3 10l1.2-1.5m-1.2 1.5l-.1-1.9M513.5 630.5l-2 9.5l1-1.5m-1 1.5l-.3-1.8M527 630.5l0 9l.6-1.6m-.6 1.6l-.6-1.6M540.5 630.5l1 9l.4-1.7m-.4 1.7l-.8-1.5M99.5 645l3.5 6l-.2-1.3m.2 1.3l-1-.8M113 645l3.5 6l-.2-1.3m.2 1.3l-1-.8M126.5 645l4 6l-.3-1.3m.3 1.3l-1.1-.8M139.5 645l4 6l-.3-1.3m.3 1.3l-1.1-.8M153 645l4 6l-.3-1.4m.3 1.4l-1.1-.8M166.5 645l4 6.5l-.3-1.4m.3 1.4l-1.1-.9M180 645l4 6.5l-.3-1.4m.3 1.4l-1.1-.9M193 645l4 6.5l-.3-1.4m.3 1.4l-1.2-.9M206.5 645l3.5 7l-.2-1.5m.2 1.5l-1.1-1M220 645l2.5 7.5l.1-1.5m-.1 1.5l-1-1.2M233 645l2 8l.2-1.5m-.2 1.5l-.9-1.3M246.5 645l2 8l.2-1.5m-.2 1.5l-.9-1.3M260 645l2 8l.2-1.5m-.2 1.5l-.9-1.3M273.5 645l2 8l.2-1.6m-.2 1.6l-.9-1.3M286.5 645l2 8.5l.2-1.6m-.2 1.6l-.9-1.4M300 645l2.5 9l.2-1.7m-.2 1.7l-1-1.4M313.5 645l2 10l.3-1.9m-.3 1.9l-1-1.6M326.5 645l2 11l.4-2.1m-.4 2.1l-1.1-1.8M340 645l1.5 11.5l.5-2.2m-.5 2.2l-1.1-2M353.5 645l1.5 12l.5-2.3m-.5 2.3l-1.1-2.1M367 645l1 12.5l.7-2.3m-.7 2.3l-1-2.1M380 645l1 12.5l.7-2.3m-.7 2.3l-1-2.2M393.5 645l.5 12.5l.8-2.3m-.8 2.3l-.9-2.2M407 645l.5 12.5l.8-2.3m-.8 2.3l-.9-2.2M420 645l1 12.5l.7-2.3m-.7 2.3l-1-2.2M433.5 645l1 12.5l.7-2.3m-.7 2.3l-1-2.2M447 645l.5 12.5l.7-2.2m-.7 2.2l-.9-2.2M460.5 645l-.5 12l.9-2.1m-.9 2.1l-.7-2.2M473.5 645l-1.5 11.5l1-1.9m-1 1.9l-.5-2.1M487 645l-2.5 11l1.2-1.8m-1.2 1.8l-.3-2.1M500.5 645l-3 10.5l1.2-1.6m-1.2 1.6l-.2-2M513.5 645l-2.5 10l1.1-1.6m-1.1 1.6l-.2-2M527 645l-1 10l.8-1.7m-.8 1.7l-.5-1.8M540.5 645l0 10l.7-1.8m-.7 1.8l-.7-1.8M554 645l.5 10l.6-1.9m-.6 1.9l-.8-1.8M99.5 659.5l3 5l-.2-1.1m.2 1.1l-.9-.7M113 659.5l3 5.5l-.2-1.2m.2 1.2l-.9-.8M126.5 659.5l3.5 5.5l-.3-1.2m.3 1.2l-1-.7M139.5 659.5l4 5.5l-.3-1.2m.3 1.2l-1.1-.7M153 659.5l4 5.5l-.4-1.3m.4 1.3l-1.1-.7M166.5 659.5l4 6l-.3-1.3m.3 1.3l-1.1-.8M180 659.5l4 6l-.3-1.3m.3 1.3l-1.1-.8M193 659.5l3.5 6.5l-.2-1.4m.2 1.4l-1-.9M206.5 659.5l3 6.5l-.1-1.4m.1 1.4l-1-1M220 659.5l2.5 7l0-1.4m0 1.4l-.9-1.1M233.5 659.5l2 7l.1-1.4m-.1 1.4l-.8-1.1M246.5 659.5l2 7l.1-1.4m-.1 1.4l-.8-1.1M260 659.5l2 7l.1-1.4m-.1 1.4l-.8-1.1M273.5 659.5l2 7.5l.1-1.4m-.1 1.4l-.8-1.2M286.5 659.5l2.5 7.5l.1-1.5m-.1 1.5l-1-1.2M300 659.5l2.5 8.5l.1-1.6m-.1 1.6l-1-1.3M313.5 659.5l2.5 9.5l.2-1.8m-.2 1.8l-1.1-1.5M327 659.5l2 10.5l.4-2m-.4 2l-1.1-1.8M340 659.5l2 11.5l.4-2.2m-.4 2.2l-1.1-1.9M353.5 659.5l1.5 12.5l.6-2.3m-.6 2.3l-1.1-2.1M367 659.5l1 12.5l.7-2.3m-.7 2.3l-1-2.2M380 659.5l1 13l.7-2.3m-.7 2.3l-1-2.2M393.5 659.5l1 13l.7-2.3m-.7 2.3l-1-2.2M407 659.5l1 13l.7-2.4m-.7 2.4l-1-2.2M420.5 659.5l1 13l.7-2.4m-.7 2.4l-1-2.2M433.5 659.5l1 13l.7-2.4m-.7 2.4l-1-2.2M447 659.5l.5 12.5l.8-2.3m-.8 2.3l-.9-2.2M460.5 659.5l-.5 12.5l.9-2.2m-.9 2.2l-.7-2.2M473.5 659.5l-2 12l1.1-2m-1.1 2l-.4-2.2M487 659.5l-3 11.5l1.3-1.8m-1.3 1.8l-.2-2.2M500.5 659.5l-3 11l1.3-1.7m-1.3 1.7l-.2-2.1M514 659.5l-3 10.5l1.3-1.7m-1.3 1.7l-.2-2.1M527 659.5l-2 10.5l1.1-1.8m-1.1 1.8l-.4-2M540.5 659.5l-1 11l.9-1.9m-.9 1.9l-.6-2M554 659.5l0 11.5l.8-2m-.8 2l-.8-2M99.5 673.5l2.5 4.5l-.1-1m.1 1l-.8-.6M113 673.5l3 4.5l-.2-1m.2 1l-.8-.6M126.5 673.5l3.5 5l-.3-1.1m.3 1.1l-.9-.6M139.5 673.5l3.5 5l-.3-1.2m.3 1.2l-1-.7M153 673.5l4 5l-.4-1.2m.4 1.2l-1.1-.6M166.5 673.5l4 5.5l-.3-1.2m.3 1.2l-1.1-.7M180 673.5l4 5.5l-.3-1.2m.3 1.2l-1.1-.7M193 673.5l3.5 6l-.2-1.3m.2 1.3l-1-.8M206.5 673.5l3 6l-.1-1.3m.1 1.3l-.9-.9M220 673.5l2.5 6l0-1.3m0 1.3l-.9-.9M233.5 673.5l2 6.5l.1-1.2m-.1 1.2l-.8-1M246.5 673.5l1.5 6.5l.2-1.2m-.2 1.2l-.7-1M260 673.5l1.5 6.5l.2-1.2m-.2 1.2l-.7-1M273.5 673.5l2 6.5l.1-1.3m-.1 1.3l-.8-1M286.5 673.5l2.5 7l0-1.4m0 1.4l-.9-1.1M300 673.5l3 7.5l0-1.5m0 1.5l-1-1.1M313.5 673.5l2.5 9l.2-1.8m-.2 1.8l-1-1.4M327 673.5l2.5 10.5l.3-2m-.3 2l-1.1-1.7M340 673.5l2 12l.4-2.2m-.4 2.2l-1.1-2M353.5 673.5l1.5 12.5l.6-2.3m-.6 2.3l-1.1-2.1M367 673.5l1.5 12.5l.6-2.4m-.6 2.4l-1.1-2.2M380.5 673.5l1 13l.7-2.4m-.7 2.4l-1-2.2M393.5 673.5l1 13l.7-2.4m-.7 2.4l-1-2.2M407 673.5l1 13l.7-2.4m-.7 2.4l-1-2.2M420.5 673.5l1 13l.7-2.4m-.7 2.4l-1.1-2.3M434 673.5l1 13l.7-2.4m-.7 2.4l-1.1-2.3M447 673.5l1 13l.7-2.4m-.7 2.4l-1-2.2M460.5 673.5l-.5 12.5l.9-2.2m-.9 2.2l-.8-2.3M474 673.5l-2 12l1.2-2m-1.2 2l-.5-2.3M487 673.5l-3 11.5l1.3-1.9m-1.3 1.9l-.2-2.3M500.5 673.5l-3.5 11l1.4-1.8m-1.4 1.8l-.1-2.2M514 673.5l-3.5 11l1.4-1.7m-1.4 1.7l-.1-2.2M527.5 673.5l-2.5 11.5l1.2-1.9m-1.2 1.9l-.3-2.2M540.5 673.5l-1.5 12l1.1-2m-1.1 2l-.5-2.2M554 673.5l-.5 12.5l.9-2.2m-.9 2.2l-.7-2.2M567.5 673.5l.5 12.5l.7-2.3m-.7 2.3l-.9-2.2M99.5 688l2 4l-.1-1m.1 1l-.7-.7M113 688l2.5 4l-.2-1m.2 1l-.8-.6M126.5 688l3 4.5l-.2-1m.2 1l-.8-.6M139.5 688l3.5 4.5l-.3-1m.3 1l-.9-.6M153 688l4 5l-.4-1.1m.4 1.1l-1-.6M166.5 688l3.5 5l-.3-1.2m.3 1.2l-1-.7M180 688l3.5 5.5l-.2-1.2m.2 1.2l-1-.7M193 688l3 5.5l-.2-1.2m.2 1.2l-.9-.8M206.5 688l3 5.5l-.2-1.2m.2 1.2l-.9-.8M220 688l2.5 5.5l-.1-1.2m.1 1.2l-.8-.8M233.5 688l2 5.5l0-1.1m0 1.1l-.7-.9M246.5 688l1.5 6l.1-1.1m-.1 1.1l-.6-.9M260 688l1.5 6l.1-1.2m-.1 1.2l-.7-1M273.5 688l2 6.5l.1-1.2m-.1 1.2l-.8-1M287 688l2.5 6.5l0-1.3m0 1.3l-.9-1M300 688l3 7.5l0-1.5m0 1.5l-1-1.1M313.5 688l2.5 8.5l.1-1.7m-.1 1.7l-1-1.4M327 688l2.5 10.5l.3-2m-.3 2l-1.1-1.7M340.5 688l2 12l.4-2.2m-.4 2.2l-1.1-2M353.5 688l2 12.5l.5-2.3m-.5 2.3l-1.2-2.1M367 688l1.5 13l.6-2.4m-.6 2.4l-1.1-2.2M380.5 688l1.5 13l.6-2.4m-.6 2.4l-1.1-2.2M393.5 688l1 13l.7-2.4m-.7 2.4l-1.1-2.3M407 688l1 13l.7-2.4m-.7 2.4l-1.1-2.3M420.5 688l1 13l.7-2.4m-.7 2.4l-1.1-2.3M434 688l1 13l.7-2.4m-.7 2.4l-1.1-2.3M447 688l1 13l.7-2.4m-.7 2.4l-1-2.2M460.5 688l-.5 12.5l.9-2.2m-.9 2.2l-.8-2.3M474 688l-2 12l1.2-2m-1.2 2l-.5-2.3M487.5 688l-3.5 11.5l1.4-1.8m-1.4 1.8l-.1-2.3M500.5 688l-4 11.5l1.5-1.7m-1.5 1.7l-.1-2.3M514 688l-4 11l1.5-1.7m-1.5 1.7l0-2.3M527.5 688l-3 11.5l1.3-1.9m-1.3 1.9l-.2-2.3M541 688l-2 12l1.2-2m-1.2 2l-.5-2.3M554 688l-1 13l1-2.2m-1 2.2l-.7-2.3M567.5 688l0 13l.9-2.3m-.9 2.3l-.9-2.3M581 688l.5 13l.8-2.3m-.8 2.3l-1-2.3M99.5 702.5l1.5 3.5l0-1m0 1l-.7-.7M113 702.5l2 3.5l-.2-1m.2 1l-.8-.6M126.5 702.5l2.5 4l-.2-1m.2 1l-.8-.6M139.5 702.5l3 4l-.3-1m.3 1l-.8-.5M153 702.5l3.5 4.5l-.3-1m.3 1l-.9-.6M166.5 702.5l3.5 4.5l-.3-1.1m.3 1.1l-.9-.6M180 702.5l3.5 5l-.3-1.1m.3 1.1l-.9-.6M193 702.5l3 5l-.2-1.1m.2 1.1l-.9-.7M206.5 702.5l2.5 5l-.1-1.1m.1 1.1l-.8-.8M220 702.5l2.5 5.5l-.1-1.1m.1 1.1l-.8-.8M233.5 702.5l2 5.5l0-1.1m0 1.1l-.7-.8M246.5 702.5l1.5 5.5l.1-1.1m-.1 1.1l-.6-.9M260 702.5l2 5.5l0-1.1m0 1.1l-.7-.9M273.5 702.5l2 6l0-1.2m0 1.2l-.8-.9M287 702.5l2.5 6.5l0-1.3m0 1.3l-.9-1M300 702.5l2.5 7.5l.1-1.5m-.1 1.5l-1-1.2M313.5 702.5l2.5 9l.2-1.7m-.2 1.7l-1-1.4M327 702.5l2.5 10.5l.3-2m-.3 2l-1.1-1.7M340.5 702.5l2.5 11.5l.3-2.2m-.3 2.2l-1.2-1.9M353.5 702.5l2 12.5l.5-2.3m-.5 2.3l-1.2-2.1M367 702.5l1.5 13l.6-2.4m-.6 2.4l-1.1-2.2M380.5 702.5l1.5 13l.6-2.4m-.6 2.4l-1.1-2.2M394 702.5l1.5 13l.6-2.4m-.6 2.4l-1.1-2.2M407 702.5l1 13l.7-2.4m-.7 2.4l-1.1-2.3M420.5 702.5l1 13l.7-2.4m-.7 2.4l-1.1-2.3M434 702.5l1 13l.7-2.4m-.7 2.4l-1-2.2M447.5 702.5l.5 12.5l.8-2.3m-.8 2.3l-.9-2.2M460.5 702.5l-.5 12.5l.9-2.2m-.9 2.2l-.7-2.2M474 702.5l-2 12l1.2-2m-1.2 2l-.4-2.3M487.5 702.5l-3.5 11.5l1.4-1.8m-1.4 1.8l-.1-2.3M501 702.5l-4 11.5l1.5-1.7m-1.5 1.7l-.1-2.3M514 702.5l-4 11.5l1.5-1.7m-1.5 1.7l-.1-2.3M527.5 702.5l-3.5 11.5l1.4-1.8m-1.4 1.8l-.1-2.3M541 702.5l-2.5 12.5l1.3-2m-1.3 2l-.4-2.3M554.5 702.5l-1 13l1-2.2m-1 2.2l-.7-2.4M567.5 702.5l-.5 13l1-2.3m-1 2.3l-.8-2.4M581 702.5l.5 13.5l.8-2.4m-.8 2.4l-1-2.3M99.5 717l1 3l0-1m0 1l-.6-.8M113 717l1.5 3l-.1-1m.1 1l-.7-.7M126.5 717l2 3.5l-.2-1m.2 1l-.8-.6M139.5 717l2.5 4l-.2-1m.2 1l-.8-.6M153 717l3 4l-.3-1m.3 1l-.8-.5M166.5 717l3 4.5l-.2-1m.2 1l-.9-.6M180 717l3 4.5l-.2-1m.2 1l-.9-.6M193 717l3 5l-.2-1.1m.2 1.1l-.8-.7M206.5 717l2.5 5l-.1-1.1m.1 1.1l-.8-.7M220 717l2.5 5l-.1-1m.1 1l-.8-.7M233.5 717l2 5l0-1m0 1l-.7-.8M246.5 717l2 5.5l0-1.1m0 1.1l-.7-.8M260 717l2 5.5l0-1.1m0 1.1l-.7-.8M273.5 717l2 6l0-1.2m0 1.2l-.8-.9M287 717l2.5 6.5l0-1.3m0 1.3l-.9-1M300.5 717l2.5 7.5l.1-1.5m-.1 1.5l-1-1.2M313.5 717l3 9l.1-1.8m-.1 1.8l-1.1-1.4M327 717l2.5 10.5l.3-2m-.3 2l-1.1-1.7M340.5 717l2.5 11.5l.3-2.2m-.3 2.2l-1.2-1.9M354 717l2 12.5l.5-2.3m-.5 2.3l-1.2-2.1M367 717l2 13l.5-2.4m-.5 2.4l-1.2-2.1M380.5 717l1.5 13l.6-2.4m-.6 2.4l-1.1-2.2M394 717l1.5 13l.6-2.4m-.6 2.4l-1.1-2.2M407.5 717l1 13l.7-2.4m-.7 2.4l-1.1-2.3M420.5 717l1.5 13l.6-2.4m-.6 2.4l-1.1-2.2M434 717l1 12.5l.7-2.3m-.7 2.3l-1-2.2M447.5 717l.5 12.5l.7-2.3m-.7 2.3l-.9-2.2M461 717l-.5 12l.9-2.1m-.9 2.1l-.7-2.2M474 717l-2 11.5l1.1-2m-1.1 2l-.4-2.2M487.5 717l-3.5 11.5l1.4-1.8m-1.4 1.8l-.1-2.2M501 717l-4 11l1.5-1.7m-1.5 1.7l0-2.2M514.5 717l-4.5 11l1.5-1.6m-1.5 1.6l.1-2.2M527.5 717l-3.5 11.5l1.4-1.8m-1.4 1.8l-.1-2.3M541 717l-2.5 12l1.3-2m-1.3 2l-.4-2.3M554.5 717l-1.5 13l1.1-2.2m-1.1 2.2l-.6-2.4M568 717l-.5 13.5l1-2.3m-1 2.3l-.8-2.4M581 717l0 13.5l.9-2.4m-.9 2.4l-.9-2.4M99.5 731.5l.5 2.5l.2-1m-.2 1l-.5-.8M113 731.5l1 2.5l0-1m0 1l-.7-.7M126.5 731.5l2 3l-.2-1m.2 1l-.8-.6M139.5 731.5l2.5 3.5l-.3-1m.3 1l-.8-.6M153 731.5l3 4l-.3-1m.3 1l-.8-.5M166.5 731.5l3 4.5l-.2-1m.2 1l-.8-.6M180 731.5l3 4.5l-.2-1m.2 1l-.8-.6M193 731.5l3 4.5l-.2-1m.2 1l-.8-.6M206.5 731.5l2.5 4.5l-.2-1m.2 1l-.8-.7M220 731.5l2.5 5l-.1-1m.1 1l-.7-.7M233.5 731.5l2 5l0-1m0 1l-.7-.8M247 731.5l2 5l0-1m0 1l-.7-.8M260 731.5l2 5.5l0-1.1m0 1.1l-.7-.8M273.5 731.5l2.5 6l0-1.2m0 1.2l-.8-.9M287 731.5l2.5 6.5l0-1.3m0 1.3l-.9-1M300.5 731.5l3 7.5l0-1.5m0 1.5l-1-1.1M313.5 731.5l3 9l.1-1.8m-.1 1.8l-1.1-1.4M327 731.5l3 10.5l.2-2m-.2 2l-1.2-1.6M340.5 731.5l3 12l.3-2.3m-.3 2.3l-1.3-1.9M354 731.5l2.5 12.5l.4-2.4m-.4 2.4l-1.3-2M367 731.5l2 12.5l.5-2.4m-.5 2.4l-1.2-2.1M380.5 731.5l1.5 13l.6-2.4m-.6 2.4l-1.1-2.2M394 731.5l1 13l.7-2.4m-.7 2.4l-1.1-2.3M407.5 731.5l1 13l.7-2.4m-.7 2.4l-1-2.2M421 731.5l1.5 13l.6-2.4m-.6 2.4l-1.1-2.2M434 731.5l1.5 12.5l.6-2.3m-.6 2.3l-1.1-2.1M447.5 731.5l1.5 12l.5-2.3m-.5 2.3l-1.1-2.1M461 731.5l0 12l.8-2.1m-.8 2.1l-.8-2.1M474.5 731.5l-2 11.5l1.1-1.9m-1.1 1.9l-.4-2.2M487.5 731.5l-3.5 11l1.4-1.7m-1.4 1.7l-.1-2.2M501 731.5l-4.5 10.5l1.5-1.6m-1.5 1.6l.1-2.2M514.5 731.5l-4.5 10.5l1.5-1.6m-1.5 1.6l.1-2.2M528 731.5l-4 11l1.4-1.7m-1.4 1.7l0-2.2M541 731.5l-2.5 12l1.3-2m-1.3 2l-.4-2.3M554.5 731.5l-1 13l1.1-2.3m-1.1 2.3l-.7-2.4M568 731.5l-.5 13.5l1-2.4m-1 2.4l-.8-2.5M581.5 731.5l0 14l.9-2.5m-.9 2.5l-.9-2.5M99.5 746l0 2l.4-.9m-.4 .9l-.4-.9M113 746l1 2.5l0-1m0 1l-.7-.7M126.5 746l1.5 3l-.1-1m.1 1l-.7-.7M139.5 746l2.5 3.5l-.3-1m.3 1l-.8-.6M153 746l3 4l-.3-1m.3 1l-.8-.5M166.5 746l3 4l-.3-1m.3 1l-.8-.5M180 746l3 4.5l-.2-1m.2 1l-.8-.6M193.5 746l2.5 4.5l-.1-1m.1 1l-.8-.6M206.5 746l2.5 4.5l-.1-1m.1 1l-.8-.6M220 746l2.5 4.5l-.1-1m.1 1l-.8-.6M233.5 746l2 5l0-1m0 1l-.7-.7M247 746l2 5l0-1m0 1l-.7-.8M260 746l2.5 5l-.1-1.1m.1 1.1l-.8-.7M273.5 746l2.5 5.5l-.1-1.2m.1 1.2l-.8-.8M287 746l3 6l-.1-1.3m.1 1.3l-1-.9M300.5 746l3 7l-.1-1.5m.1 1.5l-1-1.1M313.5 746l3 8.5l0-1.7m0 1.7l-1.1-1.3M327 746l3 10.5l.2-2m-.2 2l-1.2-1.6M340.5 746l3 11.5l.2-2.3m-.2 2.3l-1.3-1.9M354 746l3 12l.3-2.4m-.3 2.4l-1.4-2M367.5 746l2.5 12.5l.4-2.4m-.4 2.4l-1.3-2.1M380.5 746l2 12.5l.5-2.4m-.5 2.4l-1.2-2.1M394 746l1.5 13l.6-2.4m-.6 2.4l-1.1-2.2M407.5 746l1.5 13l.6-2.4m-.6 2.4l-1.1-2.2M421 746l2 12.5l.5-2.4m-.5 2.4l-1.2-2.1M434 746l2 12.5l.5-2.3m-.5 2.3l-1.2-2.1M447.5 746l2 12l.4-2.3m-.4 2.3l-1.2-2M461 746l.5 11.5l.7-2.1m-.7 2.1l-.9-2M474.5 746l-1.5 11.5l1-1.9m-1 1.9l-.5-2.1M488 746l-3.5 11l1.4-1.7m-1.4 1.7l-.1-2.2M501 746l-4 10.5l1.4-1.6m-1.4 1.6l0-2.2M514.5 746l-4.5 10.5l1.5-1.5m-1.5 1.5l.1-2.1M528 746l-4 11l1.4-1.7m-1.4 1.7l0-2.2M541.5 746l-2 12l1.2-2m-1.2 2l-.5-2.3M554.5 746l-1 13l1.1-2.3m-1.1 2.3l-.7-2.4M568 746l0 13.5l.9-2.4m-.9 2.4l-.9-2.4M581.5 746l0 14l.9-2.5m-.9 2.5l-.9-2.5M99.5 760l.5 2l.1-1m-.1 1l-.6-.8M113 760l1 2l-.1-1m.1 1l-.7-.7M126.5 760l1.5 2.5l-.2-1m.2 1l-.8-.6M139.5 760l2 3l-.2-1m.2 1l-.8-.6M153 760l2.5 3.5l-.3-1m.3 1l-.8-.6M166.5 760l2.5 4l-.2-1m.2 1l-.8-.6M180 760l2.5 4l-.2-1m.2 1l-.8-.6M193.5 760l2.5 4.5l-.1-1m.1 1l-.8-.6M206.5 760l2.5 4.5l-.1-1m.1 1l-.8-.6M220 760l2.5 4.5l-.1-1m.1 1l-.8-.6M233.5 760l2.5 4.5l-.1-1m.1 1l-.8-.6M247 760l2.5 5l-.1-1m.1 1l-.7-.7M260 760l2.5 5l-.1-1.1m.1 1.1l-.8-.7M273.5 760l3 5.5l-.2-1.2m.2 1.2l-.9-.8M287 760l3 6l-.1-1.3m.1 1.3l-1-.9M300.5 760l3.5 7l-.2-1.5m.2 1.5l-1.1-1M314 760l3.5 8.5l-.1-1.7m.1 1.7l-1.2-1.3M327 760l3.5 10l0-2m0 2l-1.3-1.5M340.5 760l3.5 11l.1-2.2m-.1 2.2l-1.4-1.7M354 760l3.5 11.5l.1-2.3m-.1 2.3l-1.4-1.8M367.5 760l3 12l.3-2.4m-.3 2.4l-1.3-1.9M381 760l2.5 12.5l.4-2.4m-.4 2.4l-1.3-2M394 760l2.5 12.5l.4-2.4m-.4 2.4l-1.3-2M407.5 760l2 12.5l.5-2.3m-.5 2.3l-1.2-2.1M421 760l2.5 12.5l.4-2.3m-.4 2.3l-1.3-2M434.5 760l2 12l.5-2.3m-.5 2.3l-1.2-2M447.5 760l2 12l.4-2.2m-.4 2.2l-1.1-2M461 760l1 11.5l.6-2.1m-.6 2.1l-1-2M474.5 760l-.5 11.5l.8-2m-.8 2l-.7-2M488 760l-2 11l1.1-1.8m-1.1 1.8l-.4-2.1M501.5 760l-3 10.5l1.3-1.7m-1.3 1.7l-.2-2.1M514.5 760l-3.5 10.5l1.3-1.7m-1.3 1.7l-.1-2.1M528 760l-3 11l1.3-1.8m-1.3 1.8l-.2-2.2M541.5 760l-2 12l1.2-2m-1.2 2l-.5-2.3M555 760l-1 13l1-2.2m-1 2.2l-.7-2.4M568.5 760l0 13.5l.9-2.4m-.9 2.4l-.9-2.4M581.5 760l.5 14l.8-2.5m-.8 2.5l-1-2.4M595 760l.5 14l.8-2.5m-.8 2.5l-1-2.5M99.5 774.5l.5 2.5l.2-1m-.2 1l-.5-.8M113 774.5l1 2l-.1-1m.1 1l-.7-.7M126.5 774.5l1.5 2l-.3-1m.3 1l-.8-.5M139.5 774.5l2 2.5l-.3-1m.3 1l-.9-.5M153 774.5l2 3l-.2-1m.2 1l-.8-.6M166.5 774.5l2.5 4l-.2-1m.2 1l-.8-.6M180 774.5l2.5 4l-.2-1m.2 1l-.8-.6M193.5 774.5l2.5 4.5l-.1-1m.1 1l-.8-.6M206.5 774.5l2.5 4.5l-.1-1m.1 1l-.8-.6M220 774.5l2.5 4.5l-.1-1m.1 1l-.8-.6M233.5 774.5l2.5 4.5l-.1-1m.1 1l-.8-.6M247 774.5l2.5 4.5l-.1-1m.1 1l-.8-.7M260.5 774.5l3 5l-.2-1m.2 1l-.8-.7M273.5 774.5l3 5l-.2-1.1m.2 1.1l-.9-.7M287 774.5l3.5 6l-.2-1.3m.2 1.3l-1-.8M300.5 774.5l3.5 7l-.2-1.5m.2 1.5l-1.1-1M314 774.5l4 8l-.2-1.7m.2 1.7l-1.3-1.2M327.5 774.5l4 9.5l-.1-1.9m.1 1.9l-1.3-1.4M340.5 774.5l4 10.5l0-2.1m0 2.1l-1.4-1.6M354 774.5l4 11l0-2.3m0 2.3l-1.5-1.7M367.5 774.5l3.5 11.5l.1-2.3m-.1 2.3l-1.4-1.8M381 774.5l3.5 12l.2-2.3m-.2 2.3l-1.4-1.9M394 774.5l3 12l.3-2.3m-.3 2.3l-1.3-1.9M407.5 774.5l3 12l.3-2.3m-.3 2.3l-1.3-1.9M421 774.5l3 12l.3-2.3m-.3 2.3l-1.3-1.9M434.5 774.5l2.5 12l.4-2.3m-.4 2.3l-1.2-2M448 774.5l2 12l.4-2.2m-.4 2.2l-1.1-2M461 774.5l1.5 11.5l.5-2.2m-.5 2.2l-1-2M474.5 774.5l0 11.5l.8-2m-.8 2l-.8-2M488 774.5l-1 11l.9-1.9m-.9 1.9l-.6-2M501.5 774.5l-2 11l1.1-1.8m-1.1 1.8l-.4-2.1M515 774.5l-2.5 11l1.2-1.8m-1.2 1.8l-.3-2.1M528 774.5l-2 11.5l1.1-1.9m-1.1 1.9l-.4-2.2M541.5 774.5l-1.5 12l1.1-2.1m-1.1 2.1l-.5-2.3M555 774.5l-.5 13l1-2.3m-1 2.3l-.8-2.3M568.5 774.5l0 13.5l.9-2.4m-.9 2.4l-.9-2.4M582 774.5l.5 14l.8-2.5m-.8 2.5l-1-2.4M595 774.5l1 14l.8-2.6m-.8 2.6l-1.1-2.4M99.5 789l1 2.5l0-1m0 1l-.7-.7M113 789l1 2l-.1-1m.1 1l-.7-.7M126.5 789l1.5 1.5l-.4-.9m.4 .9l-.9-.4M139.5 789l1.5 2.5l-.2-1m.2 1l-.8-.6M153 789l2 3l-.2-1m.2 1l-.8-.6M166.5 789l2 3.5l-.2-1m.2 1l-.8-.6M180 789l2 4l-.1-1m.1 1l-.7-.7M193.5 789l2 4.5l-.1-1m.1 1l-.7-.7M206.5 789l2.5 4.5l-.1-1m.1 1l-.8-.6M220 789l2.5 4.5l-.1-1m.1 1l-.8-.6M233.5 789l2.5 4.5l-.1-1m.1 1l-.8-.6M247 789l3 4.5l-.2-1m.2 1l-.8-.6M260.5 789l3 4.5l-.2-1m.2 1l-.8-.6M273.5 789l3.5 5l-.3-1.1m.3 1.1l-.9-.6M287 789l3.5 5.5l-.3-1.2m.3 1.2l-1-.8M300.5 789l4 6.5l-.3-1.4m.3 1.4l-1.1-.9M314 789l4 7.5l-.2-1.7m.2 1.7l-1.3-1.1M327.5 789l4.5 9l-.2-1.9m.2 1.9l-1.4-1.3M340.5 789l4.5 10l-.1-2.1m.1 2.1l-1.5-1.5M354 789l4.5 11l-.1-2.2m.1 2.2l-1.5-1.6M367.5 789l4 11l0-2.3m0 2.3l-1.5-1.7M381 789l4 11.5l.1-2.3m-.1 2.3l-1.5-1.7M394.5 789l3.5 11.5l.1-2.3m-.1 2.3l-1.4-1.8M407.5 789l3.5 11.5l.1-2.3m-.1 2.3l-1.4-1.8M421 789l3.5 11.5l.1-2.3m-.1 2.3l-1.4-1.8M434.5 789l3 12l.3-2.3m-.3 2.3l-1.3-1.9M448 789l2.5 12l.4-2.3m-.4 2.3l-1.2-2M461.5 789l2 11.5l.4-2.2m-.4 2.2l-1.1-1.9M474.5 789l1 11.5l.6-2.1m-.6 2.1l-.9-2M488 789l0 11l.7-2m-.7 2l-.7-2M501.5 789l-1 11l.9-1.9m-.9 1.9l-.6-2M515 789l-2 11l1.1-1.8m-1.1 1.8l-.4-2.1M528.5 789l-2 11.5l1.1-1.9m-1.1 1.9l-.4-2.2M541.5 789l-1 12.5l1-2.1m-1 2.1l-.7-2.3M555 789l-.5 13l1-2.3m-1 2.3l-.8-2.4M568.5 789l0 13.5l.9-2.4m-.9 2.4l-.9-2.4M582 789l.5 14l.8-2.5m-.8 2.5l-1-2.4M595.5 789l1 14l.8-2.6m-.8 2.6l-1.1-2.4M99.5 803l1 3l0-1m0 1l-.6-.8M113 803l1 1.5l-.2-1m.2 1l-.8-.6M126.5 803l1 1.5l-.2-1m.2 1l-.8-.6M139.5 803l1.5 2.5l-.2-1m.2 1l-.8-.6M153 803l2 3l-.2-1m.2 1l-.8-.6M166.5 803l2 3.5l-.2-1m.2 1l-.8-.6M180 803l2 4.5l-.1-1m.1 1l-.7-.7M193.5 803l2 5l0-1m0 1l-.7-.7M206.5 803l2 5l0-1m0 1l-.7-.7M220 803l2.5 4.5l-.1-1m.1 1l-.8-.6M233.5 803l2.5 4.5l-.1-1m.1 1l-.8-.6M247 803l3 4l-.3-1m.3 1l-.8-.5M260.5 803l3 4l-.3-1m.3 1l-.8-.5M273.5 803l3 4.5l-.2-1m.2 1l-.9-.6M287 803l3.5 5l-.3-1.1m.3 1.1l-1-.7M300.5 803l4 6l-.3-1.3m.3 1.3l-1.1-.8M314 803l4.5 7.5l-.3-1.6m.3 1.6l-1.3-1M327.5 803l4.5 8.5l-.2-1.9m.2 1.9l-1.4-1.2M341 803l5 10l-.2-2.1m.2 2.1l-1.5-1.4M354 803l5 10.5l-.2-2.2m.2 2.2l-1.6-1.5M367.5 803l4.5 10.5l-.1-2.2m.1 2.2l-1.5-1.6M381 803l4.5 11l-.1-2.2m.1 2.2l-1.5-1.6M394.5 803l4 11l0-2.2m0 2.2l-1.5-1.7M408 803l4 11l0-2.2m0 2.2l-1.5-1.7M421 803l3.5 11.5l.1-2.3m-.1 2.3l-1.4-1.8M434.5 803l3.5 11.5l.1-2.3m-.1 2.3l-1.4-1.8M448 803l3 12l.3-2.3m-.3 2.3l-1.3-1.9M461.5 803l2.5 11.5l.3-2.2m-.3 2.2l-1.2-1.9M475 803l2 11.5l.4-2.1m-.4 2.1l-1.1-1.9M488 803l1 11l.6-2m-.6 2l-.9-1.9M501.5 803l0 11l.7-2m-.7 2l-.7-2M515 803l-1.5 11l1-1.9m-1 1.9l-.5-2.1M528.5 803l-1.5 11.5l1-2m-1 2l-.5-2.2M542 803l-.5 12.5l.9-2.2m-.9 2.2l-.7-2.3M555.5 803l0 13l.9-2.3m-.9 2.3l-.9-2.3M568.5 803l.5 13.5l.8-2.4m-.8 2.4l-1-2.4M582 803l1 14l.7-2.5m-.7 2.5l-1.1-2.4M595.5 803l1 14l.8-2.5m-.8 2.5l-1.1-2.4M609 803l1.5 14l.7-2.6m-.7 2.6l-1.2-2.4M99.5 817.5l1.5 3l-.1-1m.1 1l-.7-.7M113 817.5l1.5 2.5l-.2-1m.2 1l-.8-.6M126.5 817.5l1.5 2l-.3-1m.3 1l-.8-.5M139.5 817.5l1.5 2.5l-.2-1m.2 1l-.8-.6M153 817.5l1.5 3l-.1-1m.1 1l-.7-.7M166.5 817.5l1.5 3.5l0-1m0 1l-.7-.7M180 817.5l1.5 4.5l0-1m0 1l-.6-.8M193.5 817.5l1.5 5l.1-1m-.1 1l-.6-.8M206.5 817.5l1.5 5l.1-1m-.1 1l-.6-.8M220 817.5l2 4.5l-.1-1m.1 1l-.7-.7M233.5 817.5l2.5 4l-.2-1m.2 1l-.8-.6M247 817.5l2.5 4l-.2-1m.2 1l-.8-.6M260.5 817.5l3 4l-.3-1m.3 1l-.8-.5M274 817.5l3 4l-.3-1m.3 1l-.8-.5M287 817.5l3 5l-.2-1.1m.2 1.1l-.8-.7M300.5 817.5l3.5 5.5l-.3-1.2m.3 1.2l-1-.8M314 817.5l4 7l-.2-1.5m.2 1.5l-1.2-1M327.5 817.5l4.5 8l-.3-1.8m.3 1.8l-1.4-1.2M341 817.5l5 9.5l-.2-2m.2 2l-1.5-1.3M354 817.5l5 10l-.2-2.1m.2 2.1l-1.6-1.5M367.5 817.5l5 10.5l-.2-2.2m.2 2.2l-1.6-1.5M381 817.5l5 10.5l-.2-2.2m.2 2.2l-1.6-1.5M394.5 817.5l4.5 10.5l-.1-2.2m.1 2.2l-1.5-1.6M408 817.5l4.5 11l-.1-2.2m.1 2.2l-1.5-1.6M421.5 817.5l4 11l0-2.3m0 2.3l-1.5-1.7M434.5 817.5l4 11.5l.1-2.3m-.1 2.3l-1.5-1.8M448 817.5l3.5 11.5l.1-2.3m-.1 2.3l-1.4-1.8M461.5 817.5l3 11.5l.2-2.2m-.2 2.2l-1.3-1.8M475 817.5l2 11.5l.4-2.2m-.4 2.2l-1.1-1.9M488.5 817.5l1.5 11.5l.5-2.1m-.5 2.1l-1-1.9M502 817.5l.5 11.5l.7-2m-.7 2l-.8-2M515 817.5l-.5 11.5l.9-2m-.9 2l-.7-2.1M528.5 817.5l-.5 12l.9-2.1m-.9 2.1l-.7-2.2M542 817.5l0 12.5l.8-2.2m-.8 2.2l-.8-2.2M555.5 817.5l.5 13l.8-2.4m-.8 2.4l-1-2.3M569 817.5l.5 13.5l.8-2.4m-.8 2.4l-1-2.4M582 817.5l1 13.5l.7-2.5m-.7 2.5l-1.1-2.4M595.5 817.5l1.5 13.5l.6-2.5m-.6 2.5l-1.2-2.3M609 817.5l1.5 13.5l.6-2.5m-.6 2.5l-1.2-2.3M99.5 832l1.5 3.5l0-1m0 1l-.7-.7M113 832l1.5 3l-.1-1m.1 1l-.7-.7M126 832l1.5 2l-.3-1m.3 1l-.8-.5M139.5 832l1.5 2.5l-.2-1m.2 1l-.8-.6M153 832l1 3l0-1m0 1l-.6-.8M166.5 832l1 4l.1-1m-.1 1l-.6-.8M180 832l1 4.5l.1-1m-.1 1l-.5-.8M193.5 832l1 5l.2-1m-.2 1l-.5-.8M206.5 832l1.5 5l.1-1m-.1 1l-.6-.8M220 832l2 4.5l-.1-1m.1 1l-.7-.7M233.5 832l2 4l-.1-1m.1 1l-.7-.7M247 832l2.5 3.5l-.3-1m.3 1l-.8-.6M260.5 832l2.5 3.5l-.3-1m.3 1l-.8-.6M274 832l2.5 3.5l-.3-1m.3 1l-.8-.6M287 832l2.5 4.5l-.1-1m.1 1l-.8-.6M300.5 832l3 5l-.2-1.1m.2 1.1l-.9-.7M314 832l3.5 6.5l-.2-1.4m.2 1.4l-1.1-.9M327.5 832l4.5 8l-.3-1.7m.3 1.7l-1.3-1.1M341 832l5 9l-.3-1.9m.3 1.9l-1.5-1.3M354.5 832l5.5 9.5l-.3-2.1m.3 2.1l-1.6-1.3M367.5 832l5.5 10l-.3-2.1m.3 2.1l-1.6-1.4M381 832l5 10.5l-.2-2.2m.2 2.2l-1.6-1.5M394.5 832l5 10.5l-.2-2.2m.2 2.2l-1.6-1.5M408 832l4.5 10.5l-.1-2.2m.1 2.2l-1.5-1.6M421.5 832l4.5 11l-.1-2.2m.1 2.2l-1.5-1.6M435 832l4 11l0-2.3m0 2.3l-1.5-1.7M448 832l3.5 11.5l.1-2.3m-.1 2.3l-1.4-1.8M461.5 832l3 11.5l.2-2.2m-.2 2.2l-1.3-1.8M475 832l2 11.5l.4-2.2m-.4 2.2l-1.1-1.9M488.5 832l1.5 11.5l.5-2.1m-.5 2.1l-1-1.9M502 832l.5 11.5l.7-2.1m-.7 2.1l-.9-2M515.5 832l0 12l.8-2.1m-.8 2.1l-.8-2.1M528.5 832l0 12l.8-2.2m-.8 2.2l-.8-2.2M542 832l.5 12.5l.8-2.3m-.8 2.3l-.9-2.2M555.5 832l.5 13l.8-2.3m-.8 2.3l-1-2.3M569 832l1 13.5l.7-2.4m-.7 2.4l-1.1-2.3M582.5 832l1 13.5l.7-2.5m-.7 2.5l-1.1-2.3M596 832l1.5 13.5l.6-2.5m-.6 2.5l-1.2-2.3M609 832l1.5 13.5l.6-2.5m-.6 2.5l-1.2-2.3M99.5 846l2 4.5l-.1-1m.1 1l-.7-.7M113 846l2 3.5l-.2-1m.2 1l-.8-.6M126 846l1.5 2l-.3-1m.3 1l-.8-.5M139.5 846l1.5 2l-.3-1m.3 1l-.8-.5M153 846l1 3l0-1m0 1l-.6-.8M166.5 846l.5 4l.2-1m-.2 1l-.5-.9M180 846l.5 5l.3-1m-.3 1l-.4-.9M193.5 846l.5 5.5l.3-1m-.3 1l-.4-.9M207 846l1 5l.2-1m-.2 1l-.5-.9M220 846l1.5 4.5l0-1m0 1l-.6-.8M233.5 846l2 4l-.1-1m.1 1l-.7-.7M247 846l2.5 3.5l-.3-1m.3 1l-.8-.6M260.5 846l2.5 3l-.3-.9m.3 .9l-.9-.5M274 846l1.5 3l-.1-1m.1 1l-.7-.7M287.5 846l1.5 3.5l0-1m0 1l-.7-.7M300.5 846l2 4.5l-.1-1m.1 1l-.7-.7M314 846l3.5 6l-.2-1.3m.2 1.3l-1-.8M327.5 846l4.5 7.5l-.3-1.7m.3 1.7l-1.3-1.1M341 846l5.5 9l-.4-1.9m.4 1.9l-1.6-1.2M354.5 846l5.5 9.5l-.3-2.1m.3 2.1l-1.6-1.3M368 846l5.5 10l-.3-2.1m.3 2.1l-1.6-1.4M381 846l5.5 10l-.3-2.1m.3 2.1l-1.6-1.4M394.5 846l5 10l-.2-2.2m.2 2.2l-1.6-1.5M408 846l5 10.5l-.2-2.2m.2 2.2l-1.6-1.5M421.5 846l4.5 10.5l-.1-2.2m.1 2.2l-1.5-1.6M435 846l4 11l0-2.2m0 2.2l-1.4-1.7M448.5 846l4 11l0-2.2m0 2.2l-1.5-1.7M462 846l3 11.5l.2-2.2m-.2 2.2l-1.3-1.8M475 846l2.5 11.5l.3-2.2m-.3 2.2l-1.2-1.9M488.5 846l1.5 11.5l.5-2.2m-.5 2.2l-1.1-2M502 846l1 12l.6-2.2m-.6 2.2l-1-2M515.5 846l.5 12l.7-2.2m-.7 2.2l-.9-2.1M529 846l.5 12.5l.7-2.2m-.7 2.2l-.9-2.2M542.5 846l.5 13l.8-2.3m-.8 2.3l-.9-2.2M555.5 846l1 13l.7-2.4m-.7 2.4l-1-2.2M569 846l1 13l.7-2.4m-.7 2.4l-1.1-2.3M582.5 846l1.5 13l.6-2.5m-.6 2.5l-1.2-2.3M596 846l1.5 13l.6-2.5m-.6 2.5l-1.2-2.3M609.5 846l2 13.5l.5-2.5m-.5 2.5l-1.2-2.2M623 846l2 13.5l.5-2.5m-.5 2.5l-1.2-2.2M99.5 860.5l2 6l0-1.2m0 1.2l-.7-.9M113 860.5l2 3.5l-.2-1m.2 1l-.8-.6M126 860.5l2 1.5l-.5-.8m.5 .8l-1-.3M139.5 860.5l1.5 2l-.3-1m.3 1l-.8-.5M153 860.5l.5 3.5l.2-1m-.2 1l-.5-.9M166.5 860.5l0 4.5l.4-.9m-.4 .9l-.4-.9M180 860.5l0 5l.4-.9m-.4 .9l-.4-.9M193.5 860.5l0 5.5l.4-1m-.4 1l-.4-1M207 860.5l.5 5.5l.3-1m-.3 1l-.5-1M220 860.5l1.5 5l.1-1m-.1 1l-.6-.8M233.5 860.5l2 4l-.1-1m.1 1l-.7-.7M247 860.5l3 3l-.4-.9m.4 .9l-.9-.4M260.5 860.5l2.5 3l-.3-.9m.3 .9l-.9-.5M274 860.5l1.5 3l-.1-1m.1 1l-.7-.7M287.5 860.5l0 3l.4-.9m-.4 .9l-.4-.9M301 860.5l1.5 4.5l0-1m0 1l-.6-.8M314 860.5l3 6l-.1-1.3m.1 1.3l-.9-.9M327.5 860.5l4.5 7.5l-.3-1.7m.3 1.7l-1.3-1M341 860.5l6 9l-.5-2m.5 2l-1.7-1.2M354.5 860.5l6 9.5l-.4-2m.4 2l-1.7-1.3M368 860.5l5.5 9.5l-.3-2.1m.3 2.1l-1.6-1.3M381.5 860.5l5.5 10l-.3-2.1m.3 2.1l-1.6-1.4M394.5 860.5l5 10l-.2-2.1m.2 2.1l-1.6-1.4M408 860.5l5 10l-.2-2.1m.2 2.1l-1.6-1.5M421.5 860.5l4.5 10.5l-.1-2.2m.1 2.2l-1.5-1.6M435 860.5l4.5 10.5l-.1-2.2m.1 2.2l-1.5-1.6M448.5 860.5l4 11l0-2.2m0 2.2l-1.4-1.7M462 860.5l3.5 11l.1-2.2m-.1 2.2l-1.4-1.7M475.5 860.5l2.5 11.5l.3-2.2m-.3 2.2l-1.2-1.9M488.5 860.5l1.5 11.5l.5-2.2m-.5 2.2l-1.1-2M502 860.5l1 12l.6-2.2m-.6 2.2l-1-2.1M515.5 860.5l1 12l.6-2.2m-.6 2.2l-1-2.1M529 860.5l1 12.5l.7-2.3m-.7 2.3l-1-2.2M542.5 860.5l1 13l.7-2.3m-.7 2.3l-1-2.2M556 860.5l1 13l.7-2.4m-.7 2.4l-1.1-2.3M569.5 860.5l1.5 13l.6-2.4m-.6 2.4l-1.1-2.2M582.5 860.5l1.5 13l.6-2.4m-.6 2.4l-1.1-2.2M596 860.5l2 13l.5-2.4m-.5 2.4l-1.2-2.2M609.5 860.5l2 13l.5-2.5m-.5 2.5l-1.2-2.2M623 860.5l2 13l.5-2.5m-.5 2.5l-1.2-2.2M636.5 860.5l2 13l.5-2.5m-.5 2.5l-1.2-2.2M690 860.5l2.5 13l.4-2.4m-.4 2.4l-1.3-2.1M703.5 860.5l2.5 12.5l.4-2.4m-.4 2.4l-1.3-2.1M717 860.5l2.5 12.5l.4-2.4m-.4 2.4l-1.3-2.1M730.5 860.5l2.5 12.5l.4-2.4m-.4 2.4l-1.3-2.1M99.5 875l2 5l0-1.1m0 1.1l-.7-.8M113 875l2 4l-.1-1m.1 1l-.7-.7M126 875l1.5 3l-.1-1m.1 1l-.7-.7M139.5 875l1.5 3l-.1-1m.1 1l-.7-.7M153 875l.5 3.5l.2-1m-.2 1l-.5-.9M166.5 875l0 4.5l.4-.9m-.4 .9l-.4-.9M180 875l0 5l.4-.9m-.4 .9l-.4-.9M193.5 875l0 5.5l.4-1m-.4 1l-.4-1M207 875l.5 5.5l.3-1m-.3 1l-.4-.9M220 875l1 5l.2-1m-.2 1l-.5-.8M233.5 875l2 4l-.1-1m.1 1l-.7-.7M247 875l2 3.5l-.2-1m.2 1l-.8-.6M260.5 875l2 3.5l-.2-1m.2 1l-.8-.6M274 875l1.5 3.5l0-1m0 1l-.7-.7M287.5 875l1 3.5l.1-1m-.1 1l-.6-.8M301 875l1.5 4.5l0-1m0 1l-.6-.8M314 875l3 6l-.1-1.2m.1 1.2l-.9-.9M327.5 875l4 7.5l-.2-1.6m.2 1.6l-1.2-1.1M341 875l5 8.5l-.3-1.8m.3 1.8l-1.4-1.2M354.5 875l5.5 9l-.4-2m.4 2l-1.6-1.2M368 875l5.5 9.5l-.3-2m.3 2l-1.6-1.3M381.5 875l5 9.5l-.3-2.1m.3 2.1l-1.5-1.4M395 875l5 10l-.2-2.1m.2 2.1l-1.5-1.4M408 875l5 10l-.2-2.1m.2 2.1l-1.6-1.4M421.5 875l4.5 10.5l-.1-2.1m.1 2.1l-1.5-1.5M435 875l4.5 10.5l-.1-2.2m.1 2.2l-1.5-1.6M448.5 875l4 11l0-2.2m0 2.2l-1.4-1.7M462 875l3.5 11l.1-2.2m-.1 2.2l-1.4-1.7M475.5 875l2.5 11.5l.3-2.2m-.3 2.2l-1.2-1.9M489 875l2 11.5l.4-2.2m-.4 2.2l-1.1-1.9M502 875l1.5 12l.5-2.2m-.5 2.2l-1.1-2M515.5 875l1.5 12l.5-2.3m-.5 2.3l-1.1-2.1M529 875l1 12.5l.7-2.3m-.7 2.3l-1-2.2M542.5 875l1.5 12.5l.6-2.4m-.6 2.4l-1.1-2.2M556 875l1.5 13l.6-2.4m-.6 2.4l-1.1-2.2M569.5 875l1.5 13l.6-2.4m-.6 2.4l-1.1-2.2M583 875l2 13l.5-2.4m-.5 2.4l-1.2-2.2M596.5 875l2 13l.5-2.4m-.5 2.4l-1.2-2.2M609.5 875l2 13l.5-2.4m-.5 2.4l-1.2-2.2M623 875l2 13l.5-2.4m-.5 2.4l-1.2-2.2M636.5 875l2.5 13l.4-2.5m-.4 2.5l-1.3-2.1M650 875l2.5 13l.4-2.5m-.4 2.5l-1.3-2.1M663.5 875l2.5 13l.4-2.5m-.4 2.5l-1.3-2.1M677 875l2.5 13l.4-2.4m-.4 2.4l-1.3-2.1M690.5 875l2.5 13l.4-2.4m-.4 2.4l-1.3-2.1M703.5 875l2.5 12.5l.4-2.4m-.4 2.4l-1.3-2.1M717 875l2.5 12.5l.4-2.4m-.4 2.4l-1.3-2.1M730.5 875l2.5 12.5l.4-2.4m-.4 2.4l-1.3-2.1M744 875l2.5 12.5l.4-2.4m-.4 2.4l-1.3-2M406 260l28-23l-4.3 1.4m4.3-1.4l-2.2 3.9M418 264l20-20l-4.1 1.9m4.1-1.9l-1.9 4.1M404 278l40-18l-4.5 .3m4.5-.3l-3.2 3.2M416 278l42-24l-4.4 .7m4.4-.7l-2.9 3.5M430 250l18-54l-2.8 3.5m2.8-3.5l.2 4.5M438 248l12-36l-2.8 3.5m2.8-3.5l.2 4.5M444 248l18-54l-2.8 3.5m2.8-3.5l.2 4.5M456 234l16-38l-3.1 3.3m3.1-3.3l-.2 4.5M460 250l22-51l-3.1 3.2m3.1-3.2l-.2 4.5M468 234l12-22l-3.4 2.9m3.4-2.9l-.6 4.5M446 270l20-34l-3.5 2.8m3.5-2.8l-.8 4.4M434 276l32-50l-3.6 2.7m3.6-2.7l-.9 4.4M426 268l30-16l-4.5 .6m4.5-.6l-3 3.4M382 293l48-5l-4.4-1.1m4.4 1.1l-4 2M352 308l76-5l-4.3-1.3m4.3 1.3l-4.1 1.9M390 306l44-2l-4.3-1.4m4.3 1.4l-4.1 1.8M380 324l56 6l-4-2m4 2l-4.4 1.1M355 292.5l50-3l-4.3-1.3m4.3 1.3l-4.1 1.8M367 291l64-3.5l-4.3-1.4m4.3 1.4l-4.1 1.8M355 307l54-1.5l-4.3-1.5m4.3 1.5l-4.2 1.7M376 323l47-8.5l-4.4-.8m4.4 .8l-3.9 2.3M373 276.5l10 33l.3-4.5m-.3 4.5l-2.7-3.6M365 235l2 50l1.4-4.3m-1.4 4.3l-1.8-4.1M383 276.5l-17 32l3.4-3m-3.4 3l.6-4.5M418 117l-16-2l2.7 1.4m-2.7-1.4l3-.7M430 117l-12-5l1.8 1.7m-1.8-1.7l2.5 .1M442 129l-14-5l2.2 1.8m-2.2-1.8l2.8 0M428 131l-28 1l4.3 1.4m-4.3-1.4l4.2-1.7M430 136l-16-7l2.4 2.3m-2.4-2.3l3.3 .2M456 133l-14-14l1.6 3.4m-1.6-3.4l3.4 1.6M448 145l-10-14l.8 3.2m-.8-3.2l2.7 1.8M456 157l-12-32l0 4.5m0-4.5l3 3.4M464 149l-16-22l1.2 4.3m-1.2-4.3l3.8 2.5M410 93l-8-5l1.1 1.4m-1.1-1.4l1.8 .4M456 190l-16-58l-.4 4.5m.4-4.5l2.6 3.6M458 158l-15-38l.1 4.5m-.1-4.5l3 3.3M460 150l4-28l-2.2 3.9m2.2-3.9l1 4.4M470 190l-10-20l.4 4.2m-.4-4.2l3.1 2.9M448 210l-1-16l-.9 2.9m.9-2.9l1.2 2.8M458 218l6-25l-2.5 3.7m2.5-3.7l.6 4.5M466 222l7-27l-2.6 3.7m2.6-3.7l.5 4.5M482 222l0-23l-1.5 4.1m1.5-4.1l1.5 4.1M426 242l22-32l-3.7 2.6m3.7-2.6l-1.1 4.4M436 242l14-32l-3.1 3.2m3.1-3.2l-.2 4.5M456 242l24-30l-3.9 2.3m3.9-2.3l-1.4 4.3M460 244l6-18l-2.3 2.8m2.3-2.8l.1 3.6M470 244l14-26l-3.4 3m3.4-3l-.6 4.5M509 174l1-20l-1.5 3.5m1.5-3.5l1.2 3.6M520 168l7 1l-1.2-.6m1.2 .6l-1.3 .3M494 160l-5-1l.8 .5m-.8-.5l1-.2M504 186l4 4l-.4-1m.4 1l-1-.4M496 200l-1 6l.6-1m-.6 1l-.2-1.1M521 150l-1 7l.6-1.2m-.6 1.2l-.3-1.3M602 719l56-29l-4.5 .5m4.5-.5l-3 3.3M602 705l76-9l-4.4-1.1m4.4 1.1l-4 2.1M614 719l44-2l-4.3-1.4m4.3 1.4l-4.1 1.8M606 702l46-12l-4.5-.5m4.5 .5l-3.7 2.6M640 704l36-4l-4.4-1.1m4.4 1.1l-4 2M648 714l20 10l-2.9-3.1m2.9 3.1l-4.2-.4M644 692l34-4l-4.4-1.1m4.4 1.1l-4 2.1M644 684l2-18l-1.6 3.1m1.6-3.1l.8 3.3M652 688l-2-18l-.8 3.3m.8-3.3l1.6 3.1M668 682l-2-26l-1.3 4.3m1.3-4.3l1.9 4.1M640 658l-6-12l.3 2.5m-.3-2.5l1.9 1.7M652 664l-6-14l.1 2.9m-.1-2.9l2 2.1M648 620l8 16l-.4-3.4m.4 3.4l-2.5-2.3M654 614l1-6l-.6 1m.6-1l.2 1.1M660 644l8 2l-1.3-.9m1.3 .9l-1.6 .2M664 652l4 10l0-2m0 2l-1.4-1.5M632 630l10 2l-1.6-1m1.6 1l-1.9 .3M660 682l8 6l-1-1.6m1 1.6l-1.8-.5M636 640l4 12l.1-2.4m-.1 2.4l-1.5-1.9M664 628l4 6l-.3-1.3m.3 1.3l-1.1-.8M602.5 735l23.5 25l-1.7-4.2m1.7 4.2l-4-2M608 782l41 25l-2.8-3.5m2.8 3.5l-4.4-.8M614.5 778l32 21.5l-2.6-3.7m2.6 3.7l-4.4-1M628 778l16 10.5l-2.1-2.9m2.1 2.9l-3.6-.8M616 734.5l22.5 28l-1.4-4.3m1.4 4.3l-3.9-2.3M628 808l2 18l.8-3.3m-.8 3.3l-1.6-3.1M640 812l6 10l-.4-2.2m.4 2.2l-1.7-1.4M622 740l12 12l-1.3-2.9m1.3 2.9l-2.9-1.3M606 750l12 18l-.9-4m.9 4l-3.3-2.4M700 842l9 11l-.9-2.6m.9 2.6l-2.3-1.4M709 851l-1.5 14l1.2-2.4m-1.2 2.4l-.7-2.6M696 864l-2 2l.9-.4m-.9 .4l.4-.9M716 866l-4 2l1-.1m-1 .1l.7-.7M676 812l24 36l-1-4.4m1 4.4l-3.7-2.6M672 760l1 4l.1-1m-.1 1l-.6-.8M679 780l1 4l.1-1m-.1 1l-.6-.8M404 366l26 20l-2.4-3.8m2.4 3.8l-4.3-1.3M440 395l2 1l-.7-.7m.7 .7l-1-.1M441 410l2 1l-.7-.7m.7 .7l-1-.1M385 322l55 16l-3.6-2.7m3.6 2.7l-4.5 .3M436 262l24-40l-3.5 2.8m3.5-2.8l-.8 4.4M442 266l28-36l-3.8 2.4m3.8-2.4l-1.3 4.3M450 262l24-36l-3.7 2.6m3.7-2.6l-1 4.4M424 256l22-28l-3.8 2.3m3.8-2.3l-1.4 4.3M412 270l24-20l-4.3 1.5m4.3-1.5l-2.2 3.9M400 284l36-16l-4.5 .3m4.5-.3l-3.2 3.2M410 290l40-18l-4.5 .3m4.5-.3l-3.2 3.2M396 296l44-14l-4.5-.2m4.5 .2l-3.5 2.8M420 296l32-12l-4.5 0m4.5 0l-3.4 3M440 290l20-24l-3.9 2.2m3.9-2.2l-1.5 4.3M452 276l18-26l-3.7 2.6m3.7-2.6l-1.1 4.4M360 300l40-4l-4.3-1.2m4.3 1.2l-4 2M370 312l50-4l-4.3-1.2m4.3 1.2l-4.1 1.9M384 316l46-4l-4.3-1.2m4.3 1.2l-4.1 1.9M474 238l12-24l-3.3 3.1m3.3-3.1l-.5 4.5M490 226l8-16l-2.5 2.3m2.5-2.3l-.4 3.4M348 62l-2 4l.7-.7m-.7 .7l.1-1M350 74l-3 4l.8-.5m-.8 .5l.3-1M347 88l-2 4l.7-.7m-.7 .7l.1-1M345 100l-2 4l.7-.7m-.7 .7l.1-1M352 58l-2 3l.8-.6m-.8 .6l.2-1" fill="none" stroke="#000" stroke-width="1"/>
</g>
<rect x="456.00" y="78" width="13.83" height="10" fill="#00009f"/>
<rect x="469.53" y="78" width="13.83" height="10" fill="#0000bf"/>
<rect x="483.06" y="78" width="13.83" height="10" fill="#0000ef"/>
<rect x="496.59" y="78" width="13.83" height="10" fill="#0010ff"/>
<rect x="510.12" y="78" width="13.83" height="10" fill="#0040ff"/>
<rect x="523.65" y="78" width="13.83" height="10" fill="#0060ff"/>
<rect x="537.18" y="78" width="13.83" height="10" fill="#008fff"/>
<rect x="550.72" y="78" width="13.83" height="10" fill="#00afff"/>
<rect x="564.25" y="78" width="13.83" height="10" fill="#00cfff"/>
<rect x="577.78" y="78" width="13.83" height="10" fill="#00ffff"/>
<rect x="591.31" y="78" width="13.83" height="10" fill="#20ffdf"/>
<rect x="604.84" y="78" width="13.83" height="10" fill="#50ffaf"/>
<rect x="618.37" y="78" width="13.83" height="10" fill="#70ff8f"/>
<rect x="631.90" y="78" width="13.83" height="10" fill="#9fff60"/>
<rect x="645.43" y="78" width="13.83" height="10" fill="#bfff40"/>
<rect x="658.96" y="78" width="13.83" height="10" fill="#efff10"/>
<rect x="672.49" y="78" width="13.83" height="10" fill="#ffef00"/>
<rect x="686.02" y="78" width="13.83" height="10" fill="#ffbf00"/>
<rect x="699.55" y="78" width="13.83" height="10" fill="#ff9f00"/>
<rect x="713.08" y="78" width="13.83" height="10" fill="#ff7000"/>
<rect x="726.62" y="78" width="13.83" height="10" fill="#ff5000"/>
<rect x="740.15" y="78" width="13.83" height="10" fill="#ff3000"/>
<rect x="753.68" y="78" width="13.83" height="10" fill="#ff0000"/>
<rect x="767.21" y="78" width="13.83" height="10" fill="#df0000"/>
<rect x="780.74" y="78" width="13.83" height="10" fill="#af0000"/>
<rect x="794.27" y="78" width="13.83" height="10" fill="#8f0000"/>
<path d="M456.5 78V88M470.5 78V88M483.5 78V88M497.5 78V88M510.5 78V88M524.5 78V88M537.5 78V88M551.5 78V88M564.5 78V88M578.5 78V88M591.5 78V88M605.5 78V88M618.5 78V88M632.5 78V88M645.5 78V88M659.5 78V88M672.5 78V88M686.5 78V88M700.5 78V88M713.5 78V88M727.5 78V88M740.5 78V88M754.5 78V88M767.5 78V88M781.5 78V88M794.5 78V88M808.5 78V88M456 78.5H808.8 M456 88.5H808.8M456 81.5H461M456 84.5H461M803 81.5H808M803 84.5H808" stroke="#000" stroke-width="1" fill="none"/>
<path d="M614 195.5H659M651 192.5L659 195.5L651 198.5" stroke="#000" stroke-width="1" fill="none"/>
<path d="M614.4 450 L609.4 483.8 L614.6 489.3Z" fill="#fff" stroke="#000" stroke-width="1"/>
<path d="M614.4 450 L620.1 483.6 L614.6 489.3Z" fill="#000" stroke="#000" stroke-width="1"/>
<path d="M650.5 489.3 L620.1 483.6 L614.6 489.3Z" fill="#fff" stroke="#000" stroke-width="1"/>
<path d="M650.5 489.3 L620.1 495.6 L614.6 489.3Z" fill="#000" stroke="#000" stroke-width="1"/>
<path d="M614.8 529 L620.1 495.6 L614.6 489.3Z" fill="#fff" stroke="#000" stroke-width="1"/>
<path d="M614.8 529 L609.4 495.3 L614.6 489.3Z" fill="#000" stroke="#000" stroke-width="1"/>
<path d="M579 489.3 L609.4 495.3 L614.6 489.3Z" fill="#fff" stroke="#000" stroke-width="1"/>
<path d="M579 489.3 L609.4 483.8 L614.6 489.3Z" fill="#000" stroke="#000" stroke-width="1"/>
<path d="M87.5 49.5H834.5V881.5H87.5ZM87.5 40V49M87.5 882V890M79 97.5H87M835 97.5H843M175.5 40V49M175.5 882V890M79 195.5H87M835 195.5H843M263.5 40V49M263.5 882V890M79 293.5H87M835 293.5H843M351.5 40V49M351.5 882V890M79 391.5H87M835 391.5H843M439.5 40V49M439.5 882V890M79 489.5H87M835 489.5H843M526.5 40V49M526.5 882V890M79 587.5H87M835 587.5H843M614.5 40V49M614.5 882V890M79 685.5H87M835 685.5H843M702.5 40V49M702.5 882V890M79 783.5H87M835 783.5H843M790.5 40V49M790.5 882V890M79 881.5H87M835 881.5H843" stroke="#000" stroke-width="1" fill="none"/>
</svg>
<div class="t" style="left:224px;top:20px;font-size:18px;line-height:20px;width:475px;text-align:center">WFCOM surface current and salinity at hour 1 on 12/30/2017</div>
<div class="t" style="left:69.5px;top:893px;width:40px;text-align:center">83.4</div>
<div class="t" style="left:36px;top:90.0px;width:40px;text-align:right">28.0</div>
<div class="t" style="left:157.4px;top:893px;width:40px;text-align:center">83.2</div>
<div class="t" style="left:36px;top:188.0px;width:40px;text-align:right">27.8</div>
<div class="t" style="left:245.2px;top:893px;width:40px;text-align:center">83.0</div>
<div class="t" style="left:36px;top:285.9px;width:40px;text-align:right">27.6</div>
<div class="t" style="left:333.1px;top:893px;width:40px;text-align:center">82.8</div>
<div class="t" style="left:36px;top:383.9px;width:40px;text-align:right">27.4</div>
<div class="t" style="left:421.0px;top:893px;width:40px;text-align:center">82.6</div>
<div class="t" style="left:36px;top:481.9px;width:40px;text-align:right">27.2</div>
<div class="t" style="left:508.9px;top:893px;width:40px;text-align:center">82.4</div>
<div class="t" style="left:36px;top:579.9px;width:40px;text-align:right">27.0</div>
<div class="t" style="left:596.8px;top:893px;width:40px;text-align:center">82.2</div>
<div class="t" style="left:36px;top:677.8px;width:40px;text-align:right">26.8</div>
<div class="t" style="left:684.6px;top:893px;width:40px;text-align:center">82.0</div>
<div class="t" style="left:36px;top:775.8px;width:40px;text-align:right">26.6</div>
<div class="t" style="left:772.5px;top:893px;width:40px;text-align:center">81.8</div>
<div class="t" style="left:36px;top:873.8px;width:40px;text-align:right">26.4</div>
<div class="t" style="left:408px;top:909px;width:107px;text-align:center">Longitude (°W)</div>
<div class="t" style="left:-11px;top:456px;width:92px;text-align:center;transform:rotate(-90deg)">Latitude (°N)</div>
<div class="t" style="left:615px;top:168px">50 cm/s</div>
<div class="t" style="left:572px;top:283.5px;font-size:18.2px;line-height:22px;font-weight:normal;letter-spacing:0.35px;color:#ff0000">OCG@USF</div>
<div class="s" style="left:600px;top:60px;font-size:11px;line-height:12px;font-style:italic">Salinity (psu)</div>
<div class="s" style="left:446.5px;top:91px;width:20px;text-align:center">10</div>
<div class="s" style="left:473.6px;top:91px;width:20px;text-align:center">12</div>
<div class="s" style="left:500.6px;top:91px;width:20px;text-align:center">14</div>
<div class="s" style="left:527.7px;top:91px;width:20px;text-align:center">16</div>
<div class="s" style="left:554.7px;top:91px;width:20px;text-align:center">18</div>
<div class="s" style="left:581.8px;top:91px;width:20px;text-align:center">20</div>
<div class="s" style="left:608.9px;top:91px;width:20px;text-align:center">22</div>
<div class="s" style="left:635.9px;top:91px;width:20px;text-align:center">24</div>
<div class="s" style="left:663.0px;top:91px;width:20px;text-align:center">26</div>
<div class="s" style="left:690.1px;top:91px;width:20px;text-align:center">28</div>
<div class="s" style="left:717.1px;top:91px;width:20px;text-align:center">30</div>
<div class="s" style="left:744.2px;top:91px;width:20px;text-align:center">32</div>
<div class="s" style="left:771.2px;top:91px;width:20px;text-align:center">34</div>
<div class="s" style="left:798.3px;top:91px;width:20px;text-align:center">36</div>
<div class="s" style="left:613.5px;top:426px;width:10px;text-align:center;font-size:9px;line-height:10px">N</div>
</body></html>
